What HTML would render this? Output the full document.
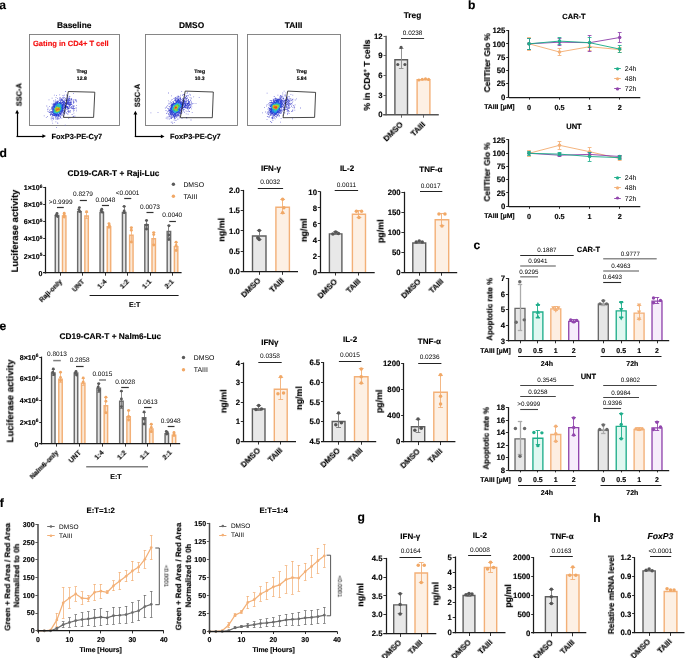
<!DOCTYPE html>
<html><head><meta charset="utf-8"><title>Figure</title>
<style>html,body{margin:0;padding:0;background:#fff;}body{width:685px;height:658px;overflow:hidden;font-family:"Liberation Sans", sans-serif;}svg{display:block;} svg text{filter:blur(0.3px);}</style>
</head><body><svg width="685" height="658" viewBox="0 0 685 658" text-rendering="geometricPrecision" font-family='"Liberation Sans", sans-serif'><text x="-0.7" y="8.6" font-size="12.1" font-weight="bold" text-anchor="start" fill="#000" stroke="#000" stroke-width="0.15">a</text><rect x="29.5" y="34.5" width="90" height="91" stroke="#7a7a7a" fill="none" stroke-width="0.9"/><text x="74.2" y="27.8" font-size="8.4" font-weight="bold" text-anchor="middle" fill="#000" stroke="#000" stroke-width="0.15">Baseline</text><g><path fill="#6e6ed7" d="M64.8 124.7h.8v.8h-.8zM73.1 93.0h.8v.8h-.8zM56.0 126.9h.8v.8h-.8zM48.6 99.4h.8v.8h-.8zM65.3 91.1h.8v.8h-.8zM43.8 115.5h.8v.8h-.8zM51.7 97.8h.8v.8h-.8zM59.3 94.4h.8v.8h-.8zM52.3 122.7h.8v.8h-.8zM53.9 94.7h.8v.8h-.8zM46.4 105.6h.8v.8h-.8zM68.1 118.0h.8v.8h-.8zM45.9 117.2h.8v.8h-.8zM69.5 117.5h.8v.8h-.8zM47.2 116.2h.8v.8h-.8zM56.1 95.2h.8v.8h-.8zM76.2 110.4h.8v.8h-.8zM73.5 112.8h.8v.8h-.8zM55.5 121.4h.8v.8h-.8zM76.1 105.2h.8v.8h-.8zM71.7 114.1h.8v.8h-.8zM55.6 97.3h.8v.8h-.8zM57.4 123.0h.8v.8h-.8zM57.3 122.4h.8v.8h-.8zM51.7 120.5h.8v.8h-.8zM49.2 106.2h.8v.8h-.8zM64.2 94.7h.8v.8h-.8zM47.6 107.4h.8v.8h-.8zM74.6 115.7h.8v.8h-.8zM66.2 94.6h.8v.8h-.8zM57.0 97.9h.8v.8h-.8zM53.4 100.0h.8v.8h-.8zM62.6 95.1h.8v.8h-.8zM63.5 115.8h.8v.8h-.8zM76.0 108.4h.8v.8h-.8zM47.3 109.5h.8v.8h-.8zM67.5 113.9h.8v.8h-.8zM47.6 108.8h.8v.8h-.8zM73.1 110.7h.8v.8h-.8zM72.7 116.2h.8v.8h-.8zM76.3 101.5h.8v.8h-.8zM50.8 118.7h.8v.8h-.8zM61.4 117.8h.8v.8h-.8zM73.0 116.1h.8v.8h-.8zM75.7 107.2h.8v.8h-.8zM47.6 111.1h.8v.8h-.8zM73.5 115.8h.8v.8h-.8zM52.9 119.3h.8v.8h-.8zM55.0 99.6h.8v.8h-.8zM68.5 95.7h.8v.8h-.8zM66.8 95.6h.8v.8h-.8zM50.8 117.6h.8v.8h-.8zM69.4 96.1h.8v.8h-.8zM74.7 99.1h.8v.8h-.8zM75.7 99.4h.8v.8h-.8zM73.6 110.1h.8v.8h-.8zM75.8 101.3h.8v.8h-.8zM49.7 108.9h.8v.8h-.8zM55.5 118.8h.8v.8h-.8zM62.7 115.4h.8v.8h-.8zM75.8 100.3h.8v.8h-.8zM51.6 103.4h.8v.8h-.8zM67.4 113.0h.8v.8h-.8zM52.2 118.3h.8v.8h-.8zM49.3 110.0h.8v.8h-.8zM64.0 96.9h.8v.8h-.8zM53.3 118.0h.8v.8h-.8zM73.1 103.0h.8v.8h-.8zM59.7 97.3h.8v.8h-.8zM73.4 105.1h.8v.8h-.8zM73.9 105.7h.8v.8h-.8zM48.7 111.7h.8v.8h-.8zM64.3 113.8h.8v.8h-.8zM62.5 97.1h.8v.8h-.8zM73.4 102.1h.8v.8h-.8zM57.2 118.7h.8v.8h-.8zM60.2 117.5h.8v.8h-.8zM73.6 100.8h.8v.8h-.8zM72.8 100.5h.8v.8h-.8zM65.2 97.9h.8v.8h-.8zM60.1 117.2h.8v.8h-.8z"/><path fill="#5f61d4" d="M73.2 99.5h.8v.8h-.8zM70.2 110.7h.8v.8h-.8zM75.2 100.2h.8v.8h-.8zM63.1 96.7h.8v.8h-.8zM69.7 111.9h.8v.8h-.8zM63.1 96.8h.8v.8h-.8zM51.8 117.4h.8v.8h-.8zM53.4 101.5h.8v.8h-.8zM53.1 117.6h.8v.8h-.8zM55.9 118.5h.8v.8h-.8zM50.1 115.2h.8v.8h-.8zM66.1 112.8h.8v.8h-.8zM74.6 107.9h.8v.8h-.8zM59.2 97.7h.8v.8h-.8zM48.9 112.0h.8v.8h-.8zM73.4 102.1h.8v.8h-.8zM58.6 118.4h.8v.8h-.8zM66.7 96.8h.8v.8h-.8zM69.7 109.9h.8v.8h-.8zM57.5 118.6h.8v.8h-.8zM58.6 118.1h.8v.8h-.8zM73.2 101.2h.8v.8h-.8zM65.6 112.4h.8v.8h-.8zM70.7 98.0h.8v.8h-.8zM71.3 98.6h.8v.8h-.8zM72.9 101.4h.8v.8h-.8zM73.9 108.4h.8v.8h-.8zM65.6 97.8h.8v.8h-.8zM62.7 98.1h.8v.8h-.8zM65.6 112.0h.8v.8h-.8zM55.0 117.4h.8v.8h-.8zM68.1 112.0h.8v.8h-.8zM59.9 97.8h.8v.8h-.8zM64.4 98.7h.8v.8h-.8zM73.1 108.8h.8v.8h-.8zM51.6 116.0h.8v.8h-.8zM59.9 97.9h.8v.8h-.8zM61.9 114.7h.8v.8h-.8zM69.1 111.4h.8v.8h-.8zM60.1 116.9h.8v.8h-.8zM57.4 118.0h.8v.8h-.8zM73.1 106.1h.8v.8h-.8zM64.1 113.1h.8v.8h-.8zM71.4 99.6h.8v.8h-.8zM72.6 108.5h.8v.8h-.8zM70.9 108.0h.8v.8h-.8zM49.9 113.9h.8v.8h-.8zM73.6 107.9h.8v.8h-.8zM58.9 99.3h.8v.8h-.8zM73.2 108.2h.8v.8h-.8zM68.9 111.2h.8v.8h-.8zM64.1 112.9h.8v.8h-.8zM49.7 111.6h.8v.8h-.8zM71.0 99.0h.8v.8h-.8zM67.4 111.1h.8v.8h-.8zM71.9 108.1h.8v.8h-.8zM58.9 99.4h.8v.8h-.8zM72.1 105.6h.8v.8h-.8zM72.1 105.5h.8v.8h-.8zM68.4 111.4h.8v.8h-.8zM49.7 112.2h.8v.8h-.8zM67.5 110.8h.8v.8h-.8zM56.9 117.5h.8v.8h-.8zM70.9 99.1h.8v.8h-.8zM51.0 107.3h.8v.8h-.8zM50.0 113.5h.8v.8h-.8zM67.5 97.5h.8v.8h-.8zM73.0 106.8h.8v.8h-.8zM65.0 111.0h.8v.8h-.8zM51.0 107.9h.8v.8h-.8zM68.5 110.7h.8v.8h-.8zM67.8 110.5h.8v.8h-.8zM50.3 114.1h.8v.8h-.8zM68.1 110.6h.8v.8h-.8zM61.3 98.3h.8v.8h-.8zM67.9 109.5h.8v.8h-.8zM66.9 97.9h.8v.8h-.8zM63.8 112.7h.8v.8h-.8zM60.3 115.8h.8v.8h-.8zM69.5 107.8h.8v.8h-.8zM64.9 110.5h.8v.8h-.8zM71.5 103.9h.8v.8h-.8zM72.7 106.8h.8v.8h-.8zM72.7 107.4h.8v.8h-.8zM68.6 97.6h.8v.8h-.8zM71.4 107.5h.8v.8h-.8zM59.6 116.4h.8v.8h-.8zM61.7 114.2h.8v.8h-.8zM70.7 99.4h.8v.8h-.8zM64.9 110.0h.8v.8h-.8zM64.7 111.0h.8v.8h-.8zM58.8 100.0h.8v.8h-.8zM71.2 107.2h.8v.8h-.8zM60.7 115.1h.8v.8h-.8zM71.1 106.3h.8v.8h-.8zM71.0 106.2h.8v.8h-.8zM50.6 111.1h.8v.8h-.8zM65.1 99.9h.8v.8h-.8zM69.2 107.4h.8v.8h-.8zM56.5 100.7h.8v.8h-.8zM63.1 112.7h.8v.8h-.8zM71.1 104.3h.8v.8h-.8zM50.4 111.7h.8v.8h-.8zM61.5 114.1h.8v.8h-.8zM52.2 115.5h.8v.8h-.8zM58.7 100.3h.8v.8h-.8zM65.7 99.4h.8v.8h-.8zM71.0 101.7h.8v.8h-.8zM69.5 98.7h.8v.8h-.8zM70.9 104.1h.8v.8h-.8zM69.0 106.2h.8v.8h-.8zM52.5 104.2h.8v.8h-.8zM66.9 108.5h.8v.8h-.8zM66.1 100.0h.8v.8h-.8zM53.6 102.9h.8v.8h-.8zM63.5 100.3h.8v.8h-.8z"/><path fill="#5055d2" d="M69.2 97.7h.8v.8h-.8zM64.7 99.6h.8v.8h-.8zM57.7 117.2h.8v.8h-.8zM51.7 105.9h.8v.8h-.8zM66.6 109.2h.8v.8h-.8zM70.6 107.0h.8v.8h-.8zM69.1 97.9h.8v.8h-.8zM70.4 106.9h.8v.8h-.8zM54.6 101.7h.8v.8h-.8zM69.5 106.4h.8v.8h-.8zM69.2 98.2h.8v.8h-.8zM55.0 101.5h.8v.8h-.8zM59.7 115.8h.8v.8h-.8zM70.6 100.8h.8v.8h-.8zM50.6 113.6h.8v.8h-.8zM68.5 108.1h.8v.8h-.8zM62.4 99.4h.8v.8h-.8zM61.2 98.9h.8v.8h-.8zM60.4 99.1h.8v.8h-.8zM61.7 99.1h.8v.8h-.8zM61.0 98.9h.8v.8h-.8zM66.6 108.7h.8v.8h-.8zM67.2 98.5h.8v.8h-.8zM65.2 108.8h.8v.8h-.8zM57.1 100.7h.8v.8h-.8zM68.2 98.2h.8v.8h-.8zM63.1 112.1h.8v.8h-.8zM54.8 116.4h.8v.8h-.8zM69.7 105.3h.8v.8h-.8zM62.5 112.6h.8v.8h-.8zM66.5 99.2h.8v.8h-.8zM68.4 98.5h.8v.8h-.8zM69.1 105.4h.8v.8h-.8zM69.5 99.5h.8v.8h-.8zM63.1 112.0h.8v.8h-.8zM70.6 101.8h.8v.8h-.8zM63.8 110.9h.8v.8h-.8zM68.2 107.7h.8v.8h-.8zM67.2 98.9h.8v.8h-.8zM68.4 105.4h.8v.8h-.8zM67.8 108.1h.8v.8h-.8zM70.8 102.6h.8v.8h-.8zM51.0 113.8h.8v.8h-.8zM69.4 99.7h.8v.8h-.8zM51.9 114.8h.8v.8h-.8zM66.6 99.7h.8v.8h-.8zM69.4 100.1h.8v.8h-.8zM70.7 103.5h.8v.8h-.8zM60.4 100.0h.8v.8h-.8zM70.1 104.6h.8v.8h-.8zM61.0 99.8h.8v.8h-.8zM67.9 99.1h.8v.8h-.8zM60.6 100.0h.8v.8h-.8zM51.1 111.4h.8v.8h-.8zM62.0 100.1h.8v.8h-.8zM70.5 102.2h.8v.8h-.8zM63.9 100.7h.8v.8h-.8zM64.8 108.3h.8v.8h-.8zM67.5 105.9h.8v.8h-.8zM61.0 100.0h.8v.8h-.8zM57.4 101.0h.8v.8h-.8zM68.6 99.6h.8v.8h-.8zM57.1 116.4h.8v.8h-.8zM64.9 108.1h.8v.8h-.8zM61.5 100.3h.8v.8h-.8zM66.7 100.6h.8v.8h-.8zM58.2 115.9h.8v.8h-.8zM60.3 100.8h.8v.8h-.8zM55.6 101.7h.8v.8h-.8zM67.5 100.0h.8v.8h-.8zM53.0 115.1h.8v.8h-.8zM70.1 103.8h.8v.8h-.8zM69.0 104.4h.8v.8h-.8zM70.2 102.6h.8v.8h-.8zM64.6 101.9h.8v.8h-.8zM61.3 112.7h.8v.8h-.8zM67.1 107.3h.8v.8h-.8zM66.7 106.0h.8v.8h-.8zM64.3 102.0h.8v.8h-.8zM52.8 105.0h.8v.8h-.8zM51.9 113.9h.8v.8h-.8zM67.4 101.4h.8v.8h-.8zM68.2 103.7h.8v.8h-.8z"/><path fill="#4148cf" d="M55.7 116.6h.8v.8h-.8zM63.8 110.7h.8v.8h-.8zM51.6 107.8h.8v.8h-.8zM69.8 100.8h.8v.8h-.8zM68.0 107.8h.8v.8h-.8zM66.4 100.2h.8v.8h-.8zM51.6 109.1h.8v.8h-.8zM53.4 103.2h.8v.8h-.8zM59.0 115.6h.8v.8h-.8zM52.1 114.8h.8v.8h-.8zM65.3 108.1h.8v.8h-.8zM51.3 111.4h.8v.8h-.8zM60.0 100.7h.8v.8h-.8zM66.5 100.8h.8v.8h-.8zM63.7 109.5h.8v.8h-.8zM55.9 101.5h.8v.8h-.8zM67.6 107.6h.8v.8h-.8zM62.1 100.4h.8v.8h-.8zM53.5 115.4h.8v.8h-.8zM70.3 102.3h.8v.8h-.8zM67.1 107.8h.8v.8h-.8zM63.0 100.7h.8v.8h-.8zM67.1 105.9h.8v.8h-.8zM53.1 104.0h.8v.8h-.8zM52.4 105.7h.8v.8h-.8zM67.7 104.3h.8v.8h-.8zM67.0 100.5h.8v.8h-.8zM67.8 100.1h.8v.8h-.8zM69.9 101.9h.8v.8h-.8zM63.9 101.2h.8v.8h-.8zM66.0 104.4h.8v.8h-.8zM66.1 104.1h.8v.8h-.8zM51.4 113.1h.8v.8h-.8zM63.1 101.0h.8v.8h-.8zM52.2 106.7h.8v.8h-.8zM53.0 104.4h.8v.8h-.8zM64.2 101.6h.8v.8h-.8zM65.2 103.1h.8v.8h-.8zM51.7 113.8h.8v.8h-.8zM63.3 109.8h.8v.8h-.8zM68.4 101.0h.8v.8h-.8zM60.1 114.1h.8v.8h-.8zM65.0 103.2h.8v.8h-.8zM66.1 103.1h.8v.8h-.8zM52.8 114.8h.8v.8h-.8zM68.3 101.1h.8v.8h-.8zM66.8 103.7h.8v.8h-.8zM52.2 107.0h.8v.8h-.8zM65.6 105.1h.8v.8h-.8zM66.4 102.6h.8v.8h-.8zM68.1 103.9h.8v.8h-.8zM68.7 103.9h.8v.8h-.8zM61.2 112.6h.8v.8h-.8zM65.5 107.3h.8v.8h-.8zM57.8 101.4h.8v.8h-.8zM63.4 101.5h.8v.8h-.8zM66.1 105.8h.8v.8h-.8zM66.7 103.2h.8v.8h-.8zM69.4 103.5h.8v.8h-.8zM67.2 101.7h.8v.8h-.8zM69.4 103.4h.8v.8h-.8zM51.7 111.1h.8v.8h-.8zM65.0 105.0h.8v.8h-.8zM65.2 107.1h.8v.8h-.8zM66.1 106.2h.8v.8h-.8zM53.8 103.6h.8v.8h-.8zM64.3 103.5h.8v.8h-.8zM53.9 115.1h.8v.8h-.8zM64.2 103.6h.8v.8h-.8zM52.7 114.5h.8v.8h-.8zM64.3 107.2h.8v.8h-.8zM69.0 102.7h.8v.8h-.8zM62.5 110.8h.8v.8h-.8zM67.2 102.9h.8v.8h-.8zM67.8 103.1h.8v.8h-.8zM63.3 102.4h.8v.8h-.8zM62.0 102.1h.8v.8h-.8zM67.6 102.4h.8v.8h-.8zM56.0 102.0h.8v.8h-.8zM55.8 102.2h.8v.8h-.8z"/><path fill="#323ccd" d="M68.6 100.2h.8v.8h-.8zM69.6 104.3h.8v.8h-.8zM67.5 107.1h.8v.8h-.8zM63.3 110.5h.8v.8h-.8zM51.6 113.9h.8v.8h-.8zM67.4 107.0h.8v.8h-.8zM63.2 101.0h.8v.8h-.8zM67.2 107.2h.8v.8h-.8zM64.7 102.2h.8v.8h-.8zM69.9 103.7h.8v.8h-.8zM57.8 115.9h.8v.8h-.8zM69.6 101.9h.8v.8h-.8zM66.1 102.5h.8v.8h-.8zM51.4 112.2h.8v.8h-.8zM66.3 103.6h.8v.8h-.8zM64.3 102.0h.8v.8h-.8zM62.1 111.6h.8v.8h-.8zM69.1 103.9h.8v.8h-.8zM68.5 101.4h.8v.8h-.8zM66.6 106.5h.8v.8h-.8zM52.1 107.6h.8v.8h-.8zM69.4 102.4h.8v.8h-.8zM65.9 107.2h.8v.8h-.8zM60.2 113.8h.8v.8h-.8zM62.6 101.5h.8v.8h-.8zM67.2 101.7h.8v.8h-.8zM64.6 107.3h.8v.8h-.8zM63.7 101.9h.8v.8h-.8zM66.0 106.0h.8v.8h-.8zM67.5 103.4h.8v.8h-.8zM60.3 113.6h.8v.8h-.8zM52.2 107.9h.8v.8h-.8zM65.8 106.3h.8v.8h-.8zM65.0 105.4h.8v.8h-.8zM63.7 107.7h.8v.8h-.8zM68.3 102.1h.8v.8h-.8zM68.3 102.1h.8v.8h-.8zM64.9 105.6h.8v.8h-.8zM65.0 105.8h.8v.8h-.8zM62.6 102.1h.8v.8h-.8zM53.9 103.6h.8v.8h-.8zM58.0 101.6h.8v.8h-.8zM62.0 111.2h.8v.8h-.8zM67.8 102.6h.8v.8h-.8zM62.1 102.2h.8v.8h-.8zM55.7 115.8h.8v.8h-.8zM60.2 113.3h.8v.8h-.8zM57.8 101.6h.8v.8h-.8zM58.5 114.7h.8v.8h-.8zM60.4 113.0h.8v.8h-.8zM63.2 107.8h.8v.8h-.8zM52.0 112.3h.8v.8h-.8zM57.9 115.1h.8v.8h-.8zM52.0 111.2h.8v.8h-.8zM52.5 113.7h.8v.8h-.8zM63.5 104.3h.8v.8h-.8zM63.1 103.8h.8v.8h-.8zM52.2 110.3h.8v.8h-.8zM54.1 104.0h.8v.8h-.8zM62.6 109.3h.8v.8h-.8zM63.4 105.2h.8v.8h-.8zM63.1 105.4h.8v.8h-.8z"/><path fill="#2f3cce" d="M61.9 101.6h.8v.8h-.8zM57.2 101.5h.8v.8h-.8zM58.9 114.7h.8v.8h-.8zM66.9 102.5h.8v.8h-.8zM60.3 113.6h.8v.8h-.8zM65.4 106.7h.8v.8h-.8zM55.0 102.6h.8v.8h-.8zM54.0 115.1h.8v.8h-.8zM64.1 103.6h.8v.8h-.8zM65.1 106.3h.8v.8h-.8zM52.1 109.5h.8v.8h-.8zM64.0 107.0h.8v.8h-.8zM60.5 101.6h.8v.8h-.8zM64.2 104.8h.8v.8h-.8zM58.2 115.1h.8v.8h-.8zM64.3 105.9h.8v.8h-.8zM63.7 107.1h.8v.8h-.8zM57.9 115.2h.8v.8h-.8zM62.1 102.7h.8v.8h-.8zM55.3 115.4h.8v.8h-.8zM58.7 114.1h.8v.8h-.8zM52.5 108.5h.8v.8h-.8zM62.8 108.5h.8v.8h-.8zM58.5 114.1h.8v.8h-.8zM53.8 114.3h.8v.8h-.8zM53.1 113.8h.8v.8h-.8zM56.2 115.3h.8v.8h-.8zM58.0 114.2h.8v.8h-.8zM52.7 109.0h.8v.8h-.8zM62.1 109.2h.8v.8h-.8zM52.5 111.8h.8v.8h-.8zM55.8 115.0h.8v.8h-.8zM59.8 102.4h.8v.8h-.8z"/><path fill="#2d3ccf" d="M67.4 102.6h.8v.8h-.8zM63.6 103.5h.8v.8h-.8zM63.0 103.0h.8v.8h-.8zM54.1 103.7h.8v.8h-.8zM64.0 105.6h.8v.8h-.8zM63.2 103.5h.8v.8h-.8zM62.4 110.3h.8v.8h-.8zM60.0 113.3h.8v.8h-.8zM62.6 103.4h.8v.8h-.8zM63.0 108.0h.8v.8h-.8zM63.5 104.8h.8v.8h-.8zM61.8 110.9h.8v.8h-.8zM63.4 104.8h.8v.8h-.8zM62.3 110.0h.8v.8h-.8zM52.9 106.6h.8v.8h-.8zM52.2 112.3h.8v.8h-.8zM52.8 107.6h.8v.8h-.8zM61.0 111.5h.8v.8h-.8zM52.9 107.8h.8v.8h-.8zM60.6 102.5h.8v.8h-.8zM62.4 104.5h.8v.8h-.8zM53.5 105.8h.8v.8h-.8zM54.8 114.6h.8v.8h-.8zM54.8 114.6h.8v.8h-.8zM62.7 105.9h.8v.8h-.8zM56.2 102.8h.8v.8h-.8zM61.3 110.6h.8v.8h-.8zM55.2 103.6h.8v.8h-.8zM54.0 113.9h.8v.8h-.8zM62.5 106.5h.8v.8h-.8zM56.6 114.8h.8v.8h-.8zM61.6 109.9h.8v.8h-.8zM61.9 109.4h.8v.8h-.8zM59.8 112.4h.8v.8h-.8zM57.0 102.6h.8v.8h-.8zM54.5 104.6h.8v.8h-.8z"/><path fill="#2a3cd0" d="M57.8 115.0h.8v.8h-.8zM53.3 105.2h.8v.8h-.8zM60.9 102.2h.8v.8h-.8zM55.9 115.6h.8v.8h-.8zM60.9 112.0h.8v.8h-.8zM61.1 111.6h.8v.8h-.8zM57.1 102.0h.8v.8h-.8zM62.8 104.1h.8v.8h-.8zM53.3 105.4h.8v.8h-.8zM55.8 102.6h.8v.8h-.8zM54.4 114.7h.8v.8h-.8zM54.8 103.5h.8v.8h-.8zM59.0 113.4h.8v.8h-.8zM60.9 102.7h.8v.8h-.8zM62.8 106.7h.8v.8h-.8zM54.3 104.3h.8v.8h-.8zM59.0 102.1h.8v.8h-.8zM53.4 106.2h.8v.8h-.8zM55.4 103.3h.8v.8h-.8zM61.8 104.0h.8v.8h-.8zM57.4 114.4h.8v.8h-.8zM60.7 102.9h.8v.8h-.8zM62.3 107.7h.8v.8h-.8zM58.9 113.0h.8v.8h-.8zM62.1 108.3h.8v.8h-.8zM53.1 108.8h.8v.8h-.8zM53.5 107.2h.8v.8h-.8zM62.0 108.3h.8v.8h-.8zM61.4 104.4h.8v.8h-.8zM56.7 103.0h.8v.8h-.8zM53.0 110.9h.8v.8h-.8z"/><path fill="#283cd2" d="M56.0 115.3h.8v.8h-.8zM58.0 114.3h.8v.8h-.8zM61.9 110.2h.8v.8h-.8zM56.4 115.2h.8v.8h-.8zM62.6 105.6h.8v.8h-.8zM60.9 103.0h.8v.8h-.8zM56.7 114.9h.8v.8h-.8zM62.3 108.1h.8v.8h-.8zM57.0 114.7h.8v.8h-.8zM59.4 112.8h.8v.8h-.8zM59.8 102.5h.8v.8h-.8zM59.8 112.3h.8v.8h-.8zM59.6 102.6h.8v.8h-.8zM60.4 111.2h.8v.8h-.8zM61.7 108.5h.8v.8h-.8zM53.0 111.6h.8v.8h-.8zM59.1 102.8h.8v.8h-.8zM61.6 108.2h.8v.8h-.8zM54.7 113.4h.8v.8h-.8zM61.3 108.4h.8v.8h-.8z"/><path fill="#253cd3" d="M57.1 102.2h.8v.8h-.8zM61.9 103.9h.8v.8h-.8zM60.3 102.4h.8v.8h-.8zM55.4 114.8h.8v.8h-.8zM62.4 107.3h.8v.8h-.8zM55.1 103.8h.8v.8h-.8zM56.3 114.8h.8v.8h-.8zM53.1 108.4h.8v.8h-.8zM62.2 107.0h.8v.8h-.8zM53.6 113.3h.8v.8h-.8zM62.0 105.0h.8v.8h-.8zM62.1 106.2h.8v.8h-.8zM53.8 106.3h.8v.8h-.8zM55.1 114.1h.8v.8h-.8zM58.5 112.9h.8v.8h-.8zM53.2 108.8h.8v.8h-.8zM55.9 114.3h.8v.8h-.8zM60.2 111.0h.8v.8h-.8zM54.4 105.8h.8v.8h-.8zM53.7 107.9h.8v.8h-.8zM55.8 104.6h.8v.8h-.8zM57.9 103.1h.8v.8h-.8zM56.3 104.1h.8v.8h-.8zM58.5 103.1h.8v.8h-.8z"/><path fill="#233cd4" d="M56.2 115.0h.8v.8h-.8zM53.3 113.5h.8v.8h-.8zM59.1 102.3h.8v.8h-.8zM54.3 104.8h.8v.8h-.8zM54.1 105.2h.8v.8h-.8zM62.1 105.0h.8v.8h-.8zM62.3 105.8h.8v.8h-.8zM61.5 109.7h.8v.8h-.8zM53.8 106.2h.8v.8h-.8zM56.8 102.8h.8v.8h-.8zM62.1 106.2h.8v.8h-.8zM54.8 104.7h.8v.8h-.8zM55.9 114.1h.8v.8h-.8zM55.8 114.1h.8v.8h-.8zM56.0 114.0h.8v.8h-.8zM59.9 103.0h.8v.8h-.8zM53.1 110.3h.8v.8h-.8zM61.4 105.2h.8v.8h-.8zM56.3 113.7h.8v.8h-.8zM54.0 112.9h.8v.8h-.8zM60.8 109.5h.8v.8h-.8zM56.4 103.8h.8v.8h-.8zM61.2 108.1h.8v.8h-.8zM57.9 103.2h.8v.8h-.8zM57.5 103.3h.8v.8h-.8zM53.5 111.2h.8v.8h-.8zM53.9 108.7h.8v.8h-.8z"/><path fill="#203cd5" d="M62.4 105.5h.8v.8h-.8zM55.5 114.7h.8v.8h-.8zM52.9 109.1h.8v.8h-.8zM60.5 102.9h.8v.8h-.8zM53.4 113.2h.8v.8h-.8zM53.8 106.1h.8v.8h-.8zM56.9 114.1h.8v.8h-.8zM60.3 111.2h.8v.8h-.8zM61.6 109.1h.8v.8h-.8zM61.5 104.8h.8v.8h-.8zM56.9 113.8h.8v.8h-.8zM59.4 102.8h.8v.8h-.8zM56.1 114.1h.8v.8h-.8zM53.5 112.6h.8v.8h-.8zM61.7 107.0h.8v.8h-.8zM61.5 108.4h.8v.8h-.8zM54.2 106.4h.8v.8h-.8zM60.8 109.6h.8v.8h-.8zM54.3 106.5h.8v.8h-.8zM60.1 110.5h.8v.8h-.8zM55.6 104.8h.8v.8h-.8zM54.2 107.2h.8v.8h-.8zM57.3 112.7h.8v.8h-.8zM56.8 112.8h.8v.8h-.8zM58.9 111.8h.8v.8h-.8zM56.3 104.4h.8v.8h-.8zM60.8 106.3h.8v.8h-.8zM60.7 108.6h.8v.8h-.8zM56.2 104.7h.8v.8h-.8zM56.3 112.6h.8v.8h-.8zM56.8 104.1h.8v.8h-.8zM55.6 105.5h.8v.8h-.8zM53.8 111.0h.8v.8h-.8z"/><path fill="#1e3cd7" d="M56.0 114.6h.8v.8h-.8zM62.0 105.2h.8v.8h-.8zM54.8 104.8h.8v.8h-.8zM53.4 112.7h.8v.8h-.8zM53.9 113.1h.8v.8h-.8zM59.1 112.3h.8v.8h-.8zM54.8 113.4h.8v.8h-.8zM61.1 104.5h.8v.8h-.8zM61.7 107.0h.8v.8h-.8zM61.6 107.4h.8v.8h-.8zM54.5 113.1h.8v.8h-.8zM53.8 112.8h.8v.8h-.8zM60.2 103.5h.8v.8h-.8zM56.1 103.9h.8v.8h-.8zM53.6 109.4h.8v.8h-.8zM54.2 107.2h.8v.8h-.8zM61.0 107.3h.8v.8h-.8zM60.9 106.5h.8v.8h-.8zM60.0 110.2h.8v.8h-.8zM60.6 106.4h.8v.8h-.8zM59.1 111.2h.8v.8h-.8zM53.9 111.2h.8v.8h-.8zM60.2 106.5h.8v.8h-.8z"/><path fill="#1f4bda" d="M55.2 104.2h.8v.8h-.8zM53.9 106.3h.8v.8h-.8zM60.0 102.9h.8v.8h-.8zM60.2 103.0h.8v.8h-.8zM59.6 112.0h.8v.8h-.8zM53.1 111.8h.8v.8h-.8zM58.9 112.5h.8v.8h-.8zM53.2 109.6h.8v.8h-.8zM60.6 110.3h.8v.8h-.8zM54.4 106.1h.8v.8h-.8zM56.5 113.0h.8v.8h-.8zM54.4 112.6h.8v.8h-.8zM55.4 112.8h.8v.8h-.8zM60.5 109.5h.8v.8h-.8zM54.5 106.7h.8v.8h-.8zM58.4 103.4h.8v.8h-.8zM53.8 111.4h.8v.8h-.8zM60.7 106.4h.8v.8h-.8zM60.5 105.5h.8v.8h-.8zM53.9 109.8h.8v.8h-.8zM54.0 111.4h.8v.8h-.8zM56.8 104.6h.8v.8h-.8zM56.0 105.6h.8v.8h-.8zM56.4 105.2h.8v.8h-.8zM60.1 109.2h.8v.8h-.8zM54.7 111.5h.8v.8h-.8z"/><path fill="#2159dd" d="M56.6 113.7h.8v.8h-.8zM53.6 112.7h.8v.8h-.8zM56.7 113.2h.8v.8h-.8zM57.2 103.2h.8v.8h-.8zM56.7 103.5h.8v.8h-.8zM55.2 112.9h.8v.8h-.8zM60.3 104.2h.8v.8h-.8zM58.7 111.9h.8v.8h-.8zM60.7 106.3h.8v.8h-.8zM58.9 111.5h.8v.8h-.8zM59.8 104.3h.8v.8h-.8zM56.0 105.4h.8v.8h-.8zM60.5 108.1h.8v.8h-.8zM55.6 105.9h.8v.8h-.8zM56.4 112.2h.8v.8h-.8zM59.2 104.3h.8v.8h-.8zM59.4 104.9h.8v.8h-.8zM54.1 110.9h.8v.8h-.8zM59.6 110.1h.8v.8h-.8zM58.9 111.1h.8v.8h-.8zM54.2 109.2h.8v.8h-.8zM59.7 109.8h.8v.8h-.8zM59.2 110.6h.8v.8h-.8zM57.6 105.2h.8v.8h-.8zM56.7 105.6h.8v.8h-.8zM58.2 104.9h.8v.8h-.8z"/><path fill="#2369e1" d="M59.4 102.9h.8v.8h-.8zM54.3 113.0h.8v.8h-.8zM60.3 110.4h.8v.8h-.8zM56.5 104.0h.8v.8h-.8zM53.5 111.3h.8v.8h-.8zM60.6 109.2h.8v.8h-.8zM60.3 104.6h.8v.8h-.8zM60.7 105.4h.8v.8h-.8zM53.6 110.2h.8v.8h-.8zM58.7 111.8h.8v.8h-.8zM56.8 104.2h.8v.8h-.8zM60.5 106.4h.8v.8h-.8zM59.5 104.3h.8v.8h-.8zM56.6 112.3h.8v.8h-.8zM59.9 105.3h.8v.8h-.8zM58.5 104.2h.8v.8h-.8zM55.2 106.7h.8v.8h-.8zM58.6 105.0h.8v.8h-.8zM57.7 105.0h.8v.8h-.8zM58.2 106.0h.8v.8h-.8zM57.2 105.6h.8v.8h-.8zM55.9 106.2h.8v.8h-.8zM57.2 106.1h.8v.8h-.8zM54.8 107.9h.8v.8h-.8zM58.9 110.5h.8v.8h-.8zM54.8 110.9h.8v.8h-.8z"/><path fill="#2478e4" d="M53.7 112.5h.8v.8h-.8zM60.4 103.9h.8v.8h-.8zM58.4 103.0h.8v.8h-.8zM53.6 112.1h.8v.8h-.8zM61.0 105.1h.8v.8h-.8zM57.9 103.1h.8v.8h-.8zM61.2 106.6h.8v.8h-.8zM55.2 112.8h.8v.8h-.8zM55.8 104.8h.8v.8h-.8zM57.4 112.5h.8v.8h-.8zM60.1 104.4h.8v.8h-.8zM60.7 106.3h.8v.8h-.8zM53.7 111.2h.8v.8h-.8zM53.8 110.3h.8v.8h-.8zM53.8 110.1h.8v.8h-.8zM57.1 104.2h.8v.8h-.8zM60.1 106.2h.8v.8h-.8zM54.9 106.9h.8v.8h-.8zM58.1 103.8h.8v.8h-.8zM56.0 112.1h.8v.8h-.8zM58.3 111.5h.8v.8h-.8zM59.9 108.1h.8v.8h-.8zM57.4 111.6h.8v.8h-.8zM56.4 106.2h.8v.8h-.8zM56.2 111.6h.8v.8h-.8z"/><path fill="#2687e7" d="M53.8 112.3h.8v.8h-.8zM53.6 109.3h.8v.8h-.8zM58.6 112.1h.8v.8h-.8zM60.6 104.9h.8v.8h-.8zM57.3 112.6h.8v.8h-.8zM56.2 104.5h.8v.8h-.8zM60.7 105.6h.8v.8h-.8zM60.8 108.3h.8v.8h-.8zM60.3 105.7h.8v.8h-.8zM60.6 107.8h.8v.8h-.8zM54.1 111.4h.8v.8h-.8zM57.5 104.0h.8v.8h-.8zM60.1 106.7h.8v.8h-.8zM58.6 103.8h.8v.8h-.8zM56.7 112.2h.8v.8h-.8zM56.5 112.0h.8v.8h-.8zM58.6 104.4h.8v.8h-.8zM56.6 105.7h.8v.8h-.8zM57.7 106.0h.8v.8h-.8zM55.8 111.7h.8v.8h-.8zM56.7 106.2h.8v.8h-.8zM59.1 109.9h.8v.8h-.8zM54.7 110.1h.8v.8h-.8zM54.9 109.6h.8v.8h-.8zM56.3 111.1h.8v.8h-.8z"/><path fill="#2896eb" d="M58.9 111.9h.8v.8h-.8zM53.6 110.4h.8v.8h-.8zM60.2 104.5h.8v.8h-.8zM60.8 106.1h.8v.8h-.8zM56.1 104.8h.8v.8h-.8zM60.5 105.5h.8v.8h-.8zM56.3 112.6h.8v.8h-.8zM57.5 112.2h.8v.8h-.8zM54.8 107.0h.8v.8h-.8zM54.1 109.5h.8v.8h-.8zM57.6 104.2h.8v.8h-.8zM58.3 106.0h.8v.8h-.8zM57.3 105.4h.8v.8h-.8zM58.0 104.8h.8v.8h-.8zM57.7 111.6h.8v.8h-.8zM54.5 109.3h.8v.8h-.8zM56.1 106.7h.8v.8h-.8z"/><path fill="#28a0e4" d="M58.2 112.3h.8v.8h-.8zM53.5 111.7h.8v.8h-.8zM60.8 109.1h.8v.8h-.8zM60.1 109.7h.8v.8h-.8zM59.5 104.0h.8v.8h-.8zM59.1 103.9h.8v.8h-.8zM58.4 103.8h.8v.8h-.8zM57.8 103.9h.8v.8h-.8zM59.8 106.4h.8v.8h-.8zM55.4 111.9h.8v.8h-.8zM58.7 105.5h.8v.8h-.8zM55.6 106.3h.8v.8h-.8zM58.4 104.3h.8v.8h-.8zM59.1 106.6h.8v.8h-.8zM57.6 105.9h.8v.8h-.8zM54.9 108.6h.8v.8h-.8zM59.0 109.8h.8v.8h-.8zM59.2 109.0h.8v.8h-.8zM55.1 109.4h.8v.8h-.8zM55.9 110.2h.8v.8h-.8z"/><path fill="#28abdd" d="M60.3 104.4h.8v.8h-.8zM53.7 111.1h.8v.8h-.8zM53.9 109.4h.8v.8h-.8zM54.0 109.6h.8v.8h-.8zM55.1 106.5h.8v.8h-.8zM58.5 103.9h.8v.8h-.8zM59.5 110.3h.8v.8h-.8zM58.6 111.3h.8v.8h-.8zM59.1 106.0h.8v.8h-.8zM57.8 104.3h.8v.8h-.8zM56.3 106.3h.8v.8h-.8zM55.8 111.2h.8v.8h-.8zM56.7 111.0h.8v.8h-.8zM57.3 107.0h.8v.8h-.8zM55.4 110.1h.8v.8h-.8zM55.9 110.6h.8v.8h-.8zM58.4 109.5h.8v.8h-.8zM57.5 110.1h.8v.8h-.8z"/><path fill="#28b5d6" d="M59.6 110.9h.8v.8h-.8zM55.9 112.6h.8v.8h-.8zM58.2 103.5h.8v.8h-.8zM54.2 111.8h.8v.8h-.8zM59.7 105.1h.8v.8h-.8zM57.7 111.9h.8v.8h-.8zM58.7 103.9h.8v.8h-.8zM59.5 110.4h.8v.8h-.8zM57.5 111.9h.8v.8h-.8zM60.2 108.0h.8v.8h-.8zM59.0 106.0h.8v.8h-.8zM58.7 105.4h.8v.8h-.8zM60.0 108.3h.8v.8h-.8zM57.0 106.4h.8v.8h-.8zM58.2 107.0h.8v.8h-.8zM59.0 107.9h.8v.8h-.8zM55.4 108.1h.8v.8h-.8zM58.2 109.9h.8v.8h-.8zM57.3 109.8h.8v.8h-.8zM58.3 108.4h.8v.8h-.8z"/><path fill="#28c0d0" d="M53.9 111.4h.8v.8h-.8zM60.5 106.7h.8v.8h-.8zM60.5 107.9h.8v.8h-.8zM54.0 109.6h.8v.8h-.8zM57.9 103.8h.8v.8h-.8zM60.0 105.5h.8v.8h-.8zM57.0 104.4h.8v.8h-.8zM54.5 111.8h.8v.8h-.8zM58.4 111.6h.8v.8h-.8zM56.5 105.2h.8v.8h-.8zM59.7 105.2h.8v.8h-.8zM59.3 104.7h.8v.8h-.8zM59.0 105.3h.8v.8h-.8zM59.4 106.6h.8v.8h-.8zM59.4 110.2h.8v.8h-.8zM55.3 107.3h.8v.8h-.8zM58.0 107.1h.8v.8h-.8zM59.1 108.0h.8v.8h-.8zM57.9 107.2h.8v.8h-.8zM55.7 110.3h.8v.8h-.8zM58.3 109.6h.8v.8h-.8zM58.5 108.4h.8v.8h-.8zM56.8 109.8h.8v.8h-.8z"/><path fill="#28cac9" d="M58.4 103.7h.8v.8h-.8zM54.3 111.6h.8v.8h-.8zM60.3 108.6h.8v.8h-.8zM56.7 112.1h.8v.8h-.8zM55.3 106.5h.8v.8h-.8zM55.2 106.7h.8v.8h-.8zM58.9 104.6h.8v.8h-.8zM55.3 111.6h.8v.8h-.8zM57.5 106.2h.8v.8h-.8zM57.4 111.5h.8v.8h-.8zM57.9 111.0h.8v.8h-.8zM55.2 107.9h.8v.8h-.8zM56.1 107.4h.8v.8h-.8zM55.7 110.0h.8v.8h-.8zM58.6 108.9h.8v.8h-.8zM56.8 109.8h.8v.8h-.8zM56.8 108.1h.8v.8h-.8zM57.6 108.5h.8v.8h-.8z"/><path fill="#2dccb3" d="M59.5 104.3h.8v.8h-.8zM55.6 112.1h.8v.8h-.8zM54.5 111.5h.8v.8h-.8zM60.0 107.4h.8v.8h-.8zM58.5 104.2h.8v.8h-.8zM58.1 105.2h.8v.8h-.8zM54.9 107.4h.8v.8h-.8zM54.9 109.9h.8v.8h-.8zM58.5 107.3h.8v.8h-.8zM55.6 107.6h.8v.8h-.8zM56.1 108.2h.8v.8h-.8zM57.3 108.2h.8v.8h-.8zM57.1 108.4h.8v.8h-.8zM57.2 108.8h.8v.8h-.8z"/><path fill="#33cb9a" d="M59.2 106.5h.8v.8h-.8zM58.1 105.7h.8v.8h-.8zM54.5 108.8h.8v.8h-.8zM55.1 111.4h.8v.8h-.8zM55.7 106.6h.8v.8h-.8zM57.6 107.3h.8v.8h-.8zM55.4 109.1h.8v.8h-.8zM58.3 108.0h.8v.8h-.8zM56.1 109.5h.8v.8h-.8zM58.1 108.8h.8v.8h-.8z"/><path fill="#39ca81" d="M60.1 108.3h.8v.8h-.8zM60.0 108.9h.8v.8h-.8zM59.9 107.5h.8v.8h-.8zM59.7 107.3h.8v.8h-.8zM56.6 111.8h.8v.8h-.8zM54.8 108.0h.8v.8h-.8zM59.6 108.2h.8v.8h-.8zM56.3 106.5h.8v.8h-.8zM56.3 111.3h.8v.8h-.8zM59.0 107.5h.8v.8h-.8zM57.1 107.3h.8v.8h-.8zM57.4 110.3h.8v.8h-.8zM56.7 107.3h.8v.8h-.8zM58.5 109.2h.8v.8h-.8zM58.6 108.6h.8v.8h-.8zM56.1 109.7h.8v.8h-.8zM57.3 109.9h.8v.8h-.8z"/><path fill="#3fc968" d="M54.7 108.6h.8v.8h-.8zM56.0 106.4h.8v.8h-.8zM55.2 109.3h.8v.8h-.8zM56.3 110.5h.8v.8h-.8zM57.2 108.8h.8v.8h-.8z"/><path fill="#46c850" d="M54.4 110.4h.8v.8h-.8zM59.8 107.7h.8v.8h-.8zM55.9 106.3h.8v.8h-.8zM54.7 110.6h.8v.8h-.8zM57.0 111.3h.8v.8h-.8zM55.5 111.0h.8v.8h-.8zM59.1 107.6h.8v.8h-.8zM57.4 107.0h.8v.8h-.8zM59.1 108.7h.8v.8h-.8zM55.4 108.4h.8v.8h-.8zM56.2 108.4h.8v.8h-.8zM57.8 108.1h.8v.8h-.8z"/><path fill="#5fcb47" d="M54.7 108.3h.8v.8h-.8zM58.8 110.6h.8v.8h-.8zM59.2 107.2h.8v.8h-.8zM57.7 111.3h.8v.8h-.8zM56.8 111.5h.8v.8h-.8zM54.7 109.6h.8v.8h-.8zM58.9 110.2h.8v.8h-.8zM54.9 108.6h.8v.8h-.8zM55.1 107.9h.8v.8h-.8zM59.3 109.4h.8v.8h-.8zM55.0 108.4h.8v.8h-.8zM55.4 110.6h.8v.8h-.8zM57.6 110.8h.8v.8h-.8zM58.0 107.1h.8v.8h-.8zM56.8 111.1h.8v.8h-.8zM56.1 107.5h.8v.8h-.8zM55.7 108.9h.8v.8h-.8zM56.0 109.8h.8v.8h-.8zM56.0 109.7h.8v.8h-.8zM57.1 109.8h.8v.8h-.8zM56.5 107.8h.8v.8h-.8zM57.9 108.2h.8v.8h-.8zM57.6 108.0h.8v.8h-.8zM56.8 108.2h.8v.8h-.8z"/><path fill="#78ce3f" d="M56.5 111.5h.8v.8h-.8zM58.4 110.8h.8v.8h-.8zM59.0 108.6h.8v.8h-.8zM56.1 110.6h.8v.8h-.8zM55.9 107.9h.8v.8h-.8zM58.1 109.0h.8v.8h-.8zM56.5 108.4h.8v.8h-.8z"/><path fill="#91d136" d="M58.7 110.4h.8v.8h-.8zM59.3 107.9h.8v.8h-.8zM57.8 110.3h.8v.8h-.8zM56.2 110.5h.8v.8h-.8zM57.8 108.1h.8v.8h-.8zM56.5 108.6h.8v.8h-.8zM57.1 108.5h.8v.8h-.8z"/><path fill="#aad42e" d="M55.2 107.8h.8v.8h-.8zM58.3 110.4h.8v.8h-.8zM55.0 108.7h.8v.8h-.8zM59.1 108.1h.8v.8h-.8zM57.4 107.4h.8v.8h-.8zM55.9 107.7h.8v.8h-.8zM56.2 107.8h.8v.8h-.8zM56.6 110.1h.8v.8h-.8zM57.0 108.1h.8v.8h-.8zM56.8 108.9h.8v.8h-.8z"/><path fill="#c1d327" d="M56.6 106.7h.8v.8h-.8zM58.7 110.0h.8v.8h-.8zM57.3 111.0h.8v.8h-.8zM56.8 111.1h.8v.8h-.8zM55.7 110.8h.8v.8h-.8zM55.7 108.6h.8v.8h-.8zM56.9 107.6h.8v.8h-.8zM56.0 109.4h.8v.8h-.8zM58.1 109.0h.8v.8h-.8zM58.1 108.6h.8v.8h-.8zM57.9 108.3h.8v.8h-.8zM57.8 109.1h.8v.8h-.8z"/><path fill="#d2c224" d="M58.5 107.4h.8v.8h-.8zM56.5 106.9h.8v.8h-.8zM57.3 107.0h.8v.8h-.8zM57.1 107.1h.8v.8h-.8zM58.1 107.6h.8v.8h-.8zM58.3 109.9h.8v.8h-.8zM55.4 108.9h.8v.8h-.8zM57.3 110.5h.8v.8h-.8zM55.9 108.7h.8v.8h-.8zM57.2 109.7h.8v.8h-.8zM56.8 109.7h.8v.8h-.8zM56.2 108.5h.8v.8h-.8z"/><path fill="#e3b121" d="M55.4 107.9h.8v.8h-.8zM58.7 107.9h.8v.8h-.8zM58.6 108.5h.8v.8h-.8zM58.4 108.5h.8v.8h-.8z"/><path fill="#f5a01e" d="M58.3 110.2h.8v.8h-.8zM55.7 110.5h.8v.8h-.8zM55.7 108.0h.8v.8h-.8zM57.2 110.0h.8v.8h-.8z"/><path fill="#f06e1e" d="M58.6 109.3h.8v.8h-.8zM56.0 109.7h.8v.8h-.8zM56.2 107.9h.8v.8h-.8z"/><path fill="#ed551e" d="M58.5 108.8h.8v.8h-.8zM56.8 109.3h.8v.8h-.8z"/><path fill="#eb3c1e" d="M56.0 109.7h.8v.8h-.8zM58.4 108.7h.8v.8h-.8zM57.7 107.9h.8v.8h-.8zM56.9 109.3h.8v.8h-.8z"/></g><polygon points="68.3,91.5 94.8,92.2 93.6,117.4 63.4,117.4" stroke="#1a1a1a" stroke-width="0.8" fill="none" stroke-linejoin="miter"/><text x="81.8" y="73.4" font-size="5.1" font-weight="bold" text-anchor="middle" fill="#000" stroke="#000" stroke-width="0.15">Treg</text><text x="81.8" y="80.1" font-size="5.1" font-weight="bold" text-anchor="middle" fill="#000" stroke="#000" stroke-width="0.15">12.8</text><line x1="17.5" y1="136.7" x2="17.5" y2="112.3" stroke="#000" stroke-width="1.2" stroke-linecap="butt"/><line x1="16.5" y1="136.5" x2="43.5" y2="136.5" stroke="#000" stroke-width="1.2" stroke-linecap="butt"/><polygon points="17.1,109.8 15.2,113.4 19,113.4" fill="#000"/><polygon points="46,136.1 42.4,134.2 42.4,138" fill="#000"/><text x="21.1" y="94.6" font-size="7.5" font-weight="bold" text-anchor="middle" fill="#000" transform="rotate(-90 21.1 94.6)" stroke="#000" stroke-width="0.15">SSC-A</text><text x="51.6" y="138.8" font-size="7.4" font-weight="bold" text-anchor="start" fill="#000" stroke="#000" stroke-width="0.15">FoxP3-PE-Cy7</text><rect x="145.5" y="34.5" width="92" height="91" stroke="#7a7a7a" fill="none" stroke-width="0.9"/><text x="191.6" y="27.8" font-size="8.4" font-weight="bold" text-anchor="middle" fill="#000" stroke="#000" stroke-width="0.15">DMSO</text><g><path fill="#6e6ed7" d="M150.5 112.5h.8v.8h-.8zM157.6 111.9h.8v.8h-.8zM198.8 97.3h.8v.8h-.8zM190.6 119.6h.8v.8h-.8zM168.1 92.6h.8v.8h-.8zM171.0 95.5h.8v.8h-.8zM181.3 91.0h.8v.8h-.8zM191.8 112.0h.8v.8h-.8zM193.3 96.4h.8v.8h-.8zM181.6 117.9h.8v.8h-.8zM195.6 103.2h.8v.8h-.8zM187.7 113.8h.8v.8h-.8zM167.9 100.5h.8v.8h-.8zM185.8 113.4h.8v.8h-.8zM190.2 94.6h.8v.8h-.8zM186.4 117.6h.8v.8h-.8zM186.0 116.9h.8v.8h-.8zM186.9 91.9h.8v.8h-.8zM173.9 122.3h.8v.8h-.8zM164.9 107.6h.8v.8h-.8zM170.8 121.7h.8v.8h-.8zM189.2 111.1h.8v.8h-.8zM172.3 122.9h.8v.8h-.8zM165.6 110.1h.8v.8h-.8zM191.2 97.8h.8v.8h-.8zM165.7 117.7h.8v.8h-.8zM188.9 93.8h.8v.8h-.8zM177.5 119.2h.8v.8h-.8zM186.7 92.9h.8v.8h-.8zM171.8 121.7h.8v.8h-.8zM180.2 94.8h.8v.8h-.8zM193.5 102.9h.8v.8h-.8zM170.9 99.7h.8v.8h-.8zM166.8 118.5h.8v.8h-.8zM189.6 97.3h.8v.8h-.8zM166.3 113.1h.8v.8h-.8zM184.0 111.9h.8v.8h-.8zM166.4 106.0h.8v.8h-.8zM167.3 104.9h.8v.8h-.8zM186.7 110.9h.8v.8h-.8zM175.5 120.2h.8v.8h-.8zM166.6 116.8h.8v.8h-.8zM173.7 119.8h.8v.8h-.8zM171.8 99.2h.8v.8h-.8zM179.2 117.5h.8v.8h-.8zM188.0 110.6h.8v.8h-.8zM166.3 106.9h.8v.8h-.8zM185.6 110.4h.8v.8h-.8zM190.9 108.5h.8v.8h-.8zM175.6 119.8h.8v.8h-.8zM182.2 95.0h.8v.8h-.8zM188.1 95.4h.8v.8h-.8zM190.4 98.8h.8v.8h-.8zM182.6 94.2h.8v.8h-.8zM191.4 106.5h.8v.8h-.8zM168.9 118.8h.8v.8h-.8zM167.0 108.0h.8v.8h-.8zM169.8 101.3h.8v.8h-.8zM168.6 118.5h.8v.8h-.8zM183.6 93.9h.8v.8h-.8zM187.4 94.9h.8v.8h-.8zM168.6 102.7h.8v.8h-.8zM167.7 116.6h.8v.8h-.8zM177.5 117.8h.8v.8h-.8zM183.5 111.0h.8v.8h-.8zM183.5 94.3h.8v.8h-.8zM168.5 103.7h.8v.8h-.8zM166.8 111.7h.8v.8h-.8zM184.3 94.6h.8v.8h-.8zM179.2 116.3h.8v.8h-.8zM168.8 103.5h.8v.8h-.8zM192.1 103.4h.8v.8h-.8zM191.0 101.5h.8v.8h-.8zM173.4 98.2h.8v.8h-.8zM190.3 100.1h.8v.8h-.8zM191.9 103.3h.8v.8h-.8zM190.3 100.5h.8v.8h-.8zM177.7 95.6h.8v.8h-.8zM182.0 97.9h.8v.8h-.8zM191.8 103.4h.8v.8h-.8zM179.5 96.2h.8v.8h-.8zM191.2 104.6h.8v.8h-.8zM174.9 96.9h.8v.8h-.8zM168.0 113.8h.8v.8h-.8zM168.4 114.5h.8v.8h-.8z"/><path fill="#5f61d4" d="M168.7 105.9h.8v.8h-.8zM168.8 116.3h.8v.8h-.8zM190.8 102.0h.8v.8h-.8zM186.4 95.6h.8v.8h-.8zM173.9 118.4h.8v.8h-.8zM171.2 118.2h.8v.8h-.8zM170.8 118.2h.8v.8h-.8zM190.2 107.3h.8v.8h-.8zM185.8 95.4h.8v.8h-.8zM167.9 113.0h.8v.8h-.8zM170.1 102.5h.8v.8h-.8zM168.2 108.0h.8v.8h-.8zM178.0 96.0h.8v.8h-.8zM175.3 96.9h.8v.8h-.8zM167.5 111.2h.8v.8h-.8zM178.1 96.1h.8v.8h-.8zM188.2 98.9h.8v.8h-.8zM181.6 112.2h.8v.8h-.8zM185.5 95.6h.8v.8h-.8zM184.1 96.6h.8v.8h-.8zM181.5 112.4h.8v.8h-.8zM183.9 96.8h.8v.8h-.8zM169.8 117.5h.8v.8h-.8zM187.1 97.6h.8v.8h-.8zM176.6 96.5h.8v.8h-.8zM179.8 97.0h.8v.8h-.8zM190.1 106.4h.8v.8h-.8zM189.2 108.3h.8v.8h-.8zM177.0 96.5h.8v.8h-.8zM183.2 109.6h.8v.8h-.8zM176.1 117.2h.8v.8h-.8zM170.5 117.7h.8v.8h-.8zM186.2 96.2h.8v.8h-.8zM182.8 109.8h.8v.8h-.8zM188.1 99.3h.8v.8h-.8zM190.8 103.3h.8v.8h-.8zM175.2 117.8h.8v.8h-.8zM180.8 113.1h.8v.8h-.8zM186.8 97.8h.8v.8h-.8zM183.7 109.1h.8v.8h-.8zM188.2 99.4h.8v.8h-.8zM170.8 117.6h.8v.8h-.8zM188.9 108.3h.8v.8h-.8zM170.5 102.7h.8v.8h-.8zM174.6 97.8h.8v.8h-.8zM186.7 98.0h.8v.8h-.8zM167.8 110.8h.8v.8h-.8zM184.0 97.7h.8v.8h-.8zM183.2 98.6h.8v.8h-.8zM183.7 98.2h.8v.8h-.8zM172.2 101.5h.8v.8h-.8zM173.9 100.0h.8v.8h-.8zM169.8 116.2h.8v.8h-.8zM169.3 106.4h.8v.8h-.8zM171.0 102.3h.8v.8h-.8zM188.2 108.7h.8v.8h-.8zM180.1 113.6h.8v.8h-.8zM178.4 96.9h.8v.8h-.8zM179.9 97.6h.8v.8h-.8zM169.6 115.7h.8v.8h-.8zM189.4 107.1h.8v.8h-.8zM185.1 96.9h.8v.8h-.8zM168.0 110.3h.8v.8h-.8zM185.3 96.9h.8v.8h-.8zM188.8 108.1h.8v.8h-.8zM174.2 117.7h.8v.8h-.8zM181.6 99.1h.8v.8h-.8zM181.6 110.6h.8v.8h-.8zM172.5 101.5h.8v.8h-.8zM174.5 98.4h.8v.8h-.8zM183.2 109.1h.8v.8h-.8zM189.8 105.5h.8v.8h-.8zM178.3 115.5h.8v.8h-.8zM186.0 98.1h.8v.8h-.8zM178.8 114.9h.8v.8h-.8zM169.1 114.5h.8v.8h-.8zM176.7 116.3h.8v.8h-.8zM185.7 108.3h.8v.8h-.8zM185.5 98.1h.8v.8h-.8zM171.0 116.6h.8v.8h-.8zM186.0 99.3h.8v.8h-.8zM180.2 98.3h.8v.8h-.8zM174.7 98.7h.8v.8h-.8zM187.0 108.4h.8v.8h-.8zM170.1 105.0h.8v.8h-.8zM185.3 99.4h.8v.8h-.8zM171.0 116.2h.8v.8h-.8zM183.9 99.5h.8v.8h-.8zM177.7 115.5h.8v.8h-.8zM188.2 100.8h.8v.8h-.8zM168.6 109.2h.8v.8h-.8zM181.0 111.0h.8v.8h-.8zM189.0 101.6h.8v.8h-.8zM189.7 104.0h.8v.8h-.8zM188.8 101.6h.8v.8h-.8zM174.8 99.7h.8v.8h-.8zM186.1 100.4h.8v.8h-.8zM182.2 100.2h.8v.8h-.8zM174.0 117.1h.8v.8h-.8zM172.6 116.6h.8v.8h-.8z"/><path fill="#5055d2" d="M185.3 97.1h.8v.8h-.8zM190.2 104.5h.8v.8h-.8zM184.9 98.5h.8v.8h-.8zM171.6 116.9h.8v.8h-.8zM174.5 117.6h.8v.8h-.8zM180.2 113.2h.8v.8h-.8zM175.8 97.7h.8v.8h-.8zM178.5 115.1h.8v.8h-.8zM173.3 101.3h.8v.8h-.8zM188.0 100.3h.8v.8h-.8zM169.6 115.0h.8v.8h-.8zM179.8 98.0h.8v.8h-.8zM183.1 99.5h.8v.8h-.8zM186.7 99.9h.8v.8h-.8zM182.2 99.7h.8v.8h-.8zM188.9 101.1h.8v.8h-.8zM175.1 98.4h.8v.8h-.8zM177.4 97.5h.8v.8h-.8zM180.6 99.0h.8v.8h-.8zM177.9 115.3h.8v.8h-.8zM186.7 100.2h.8v.8h-.8zM176.8 97.8h.8v.8h-.8zM172.1 116.6h.8v.8h-.8zM188.1 101.0h.8v.8h-.8zM174.9 99.2h.8v.8h-.8zM168.7 109.3h.8v.8h-.8zM188.5 106.8h.8v.8h-.8zM184.2 100.1h.8v.8h-.8zM174.9 99.9h.8v.8h-.8zM176.5 98.3h.8v.8h-.8zM181.9 100.4h.8v.8h-.8zM179.3 113.4h.8v.8h-.8zM174.1 117.0h.8v.8h-.8zM189.4 104.0h.8v.8h-.8zM177.1 115.3h.8v.8h-.8zM189.0 105.1h.8v.8h-.8zM168.9 111.5h.8v.8h-.8zM182.0 100.6h.8v.8h-.8zM176.3 115.7h.8v.8h-.8zM189.3 103.8h.8v.8h-.8zM188.2 106.3h.8v.8h-.8zM187.1 107.8h.8v.8h-.8zM170.8 104.0h.8v.8h-.8zM169.6 113.7h.8v.8h-.8zM169.2 112.4h.8v.8h-.8zM188.2 102.0h.8v.8h-.8zM188.3 105.6h.8v.8h-.8zM185.5 101.1h.8v.8h-.8zM180.5 111.0h.8v.8h-.8zM187.0 107.7h.8v.8h-.8zM180.2 111.9h.8v.8h-.8zM177.9 114.2h.8v.8h-.8zM178.6 113.6h.8v.8h-.8zM185.5 101.3h.8v.8h-.8zM184.1 107.3h.8v.8h-.8zM178.7 98.5h.8v.8h-.8zM188.3 105.1h.8v.8h-.8zM188.6 104.6h.8v.8h-.8zM188.3 104.9h.8v.8h-.8zM180.6 110.1h.8v.8h-.8zM181.0 101.0h.8v.8h-.8zM186.7 107.2h.8v.8h-.8zM186.5 102.8h.8v.8h-.8zM179.8 112.0h.8v.8h-.8zM187.6 105.1h.8v.8h-.8zM187.0 105.7h.8v.8h-.8z"/><path fill="#4148cf" d="M179.8 98.6h.8v.8h-.8zM168.7 109.7h.8v.8h-.8zM174.9 99.8h.8v.8h-.8zM187.4 108.0h.8v.8h-.8zM188.9 102.3h.8v.8h-.8zM187.8 101.5h.8v.8h-.8zM179.9 98.9h.8v.8h-.8zM176.3 115.7h.8v.8h-.8zM184.6 107.4h.8v.8h-.8zM188.0 107.2h.8v.8h-.8zM183.6 100.5h.8v.8h-.8zM185.9 101.2h.8v.8h-.8zM184.6 100.5h.8v.8h-.8zM185.8 101.2h.8v.8h-.8zM170.0 114.3h.8v.8h-.8zM185.2 107.3h.8v.8h-.8zM182.6 100.8h.8v.8h-.8zM185.7 101.2h.8v.8h-.8zM181.4 109.1h.8v.8h-.8zM179.8 99.2h.8v.8h-.8zM188.9 103.3h.8v.8h-.8zM188.9 104.1h.8v.8h-.8zM186.8 107.6h.8v.8h-.8zM175.3 100.0h.8v.8h-.8zM187.0 107.5h.8v.8h-.8zM184.7 107.1h.8v.8h-.8zM188.0 102.4h.8v.8h-.8zM177.5 98.6h.8v.8h-.8zM186.3 102.5h.8v.8h-.8zM187.1 107.2h.8v.8h-.8zM186.8 107.3h.8v.8h-.8zM184.1 101.1h.8v.8h-.8zM180.4 100.6h.8v.8h-.8zM184.0 101.3h.8v.8h-.8zM180.1 100.2h.8v.8h-.8zM171.4 103.5h.8v.8h-.8zM182.2 108.1h.8v.8h-.8zM187.1 105.8h.8v.8h-.8zM180.4 110.2h.8v.8h-.8zM184.7 106.6h.8v.8h-.8zM183.2 101.5h.8v.8h-.8zM185.9 106.6h.8v.8h-.8zM169.6 108.4h.8v.8h-.8zM177.8 113.7h.8v.8h-.8zM183.5 107.0h.8v.8h-.8zM169.2 110.1h.8v.8h-.8zM171.2 114.7h.8v.8h-.8zM184.7 102.2h.8v.8h-.8zM182.7 107.7h.8v.8h-.8zM174.9 115.8h.8v.8h-.8zM176.5 99.3h.8v.8h-.8zM176.7 114.4h.8v.8h-.8zM181.7 108.3h.8v.8h-.8zM187.2 104.3h.8v.8h-.8zM187.5 103.7h.8v.8h-.8zM170.3 113.7h.8v.8h-.8zM183.2 107.0h.8v.8h-.8zM187.0 103.9h.8v.8h-.8zM170.0 113.0h.8v.8h-.8zM169.9 112.7h.8v.8h-.8zM181.0 108.6h.8v.8h-.8zM173.2 102.4h.8v.8h-.8zM183.3 106.5h.8v.8h-.8zM170.7 114.0h.8v.8h-.8zM175.0 115.5h.8v.8h-.8zM184.0 102.4h.8v.8h-.8zM182.6 107.3h.8v.8h-.8zM178.1 99.0h.8v.8h-.8zM175.9 114.7h.8v.8h-.8zM184.6 103.9h.8v.8h-.8zM185.1 105.1h.8v.8h-.8zM185.4 104.4h.8v.8h-.8zM185.2 104.6h.8v.8h-.8zM182.3 107.3h.8v.8h-.8zM182.5 107.0h.8v.8h-.8zM173.9 115.6h.8v.8h-.8zM176.9 113.5h.8v.8h-.8zM171.1 105.1h.8v.8h-.8zM175.4 114.3h.8v.8h-.8z"/><path fill="#323ccd" d="M173.6 116.6h.8v.8h-.8zM188.4 102.8h.8v.8h-.8zM177.5 114.1h.8v.8h-.8zM183.3 101.1h.8v.8h-.8zM184.8 101.4h.8v.8h-.8zM176.6 114.8h.8v.8h-.8zM178.6 98.7h.8v.8h-.8zM188.4 103.6h.8v.8h-.8zM174.8 116.1h.8v.8h-.8zM186.7 106.9h.8v.8h-.8zM169.2 110.5h.8v.8h-.8zM174.4 116.3h.8v.8h-.8zM187.6 102.9h.8v.8h-.8zM173.8 116.3h.8v.8h-.8zM188.0 103.1h.8v.8h-.8zM178.0 98.7h.8v.8h-.8zM171.6 115.0h.8v.8h-.8zM186.8 105.8h.8v.8h-.8zM186.8 103.1h.8v.8h-.8zM185.0 106.4h.8v.8h-.8zM187.1 103.3h.8v.8h-.8zM169.9 107.7h.8v.8h-.8zM184.5 102.3h.8v.8h-.8zM169.6 111.7h.8v.8h-.8zM185.5 103.2h.8v.8h-.8zM184.8 106.2h.8v.8h-.8zM184.0 106.1h.8v.8h-.8zM186.7 103.6h.8v.8h-.8zM186.7 103.7h.8v.8h-.8zM183.8 106.1h.8v.8h-.8zM186.3 105.4h.8v.8h-.8zM184.8 103.0h.8v.8h-.8zM175.5 115.1h.8v.8h-.8zM179.3 112.4h.8v.8h-.8zM182.9 101.9h.8v.8h-.8zM182.9 107.1h.8v.8h-.8zM171.3 114.5h.8v.8h-.8zM178.5 112.9h.8v.8h-.8zM182.7 107.2h.8v.8h-.8zM185.9 105.0h.8v.8h-.8zM175.7 100.6h.8v.8h-.8zM185.6 104.0h.8v.8h-.8zM185.7 105.1h.8v.8h-.8zM184.7 105.1h.8v.8h-.8zM184.0 102.9h.8v.8h-.8zM184.6 103.9h.8v.8h-.8zM177.0 99.4h.8v.8h-.8zM185.1 104.1h.8v.8h-.8zM176.9 99.4h.8v.8h-.8zM179.6 111.6h.8v.8h-.8zM171.4 114.3h.8v.8h-.8zM181.7 107.9h.8v.8h-.8zM178.8 112.5h.8v.8h-.8zM183.7 103.2h.8v.8h-.8zM173.3 102.5h.8v.8h-.8zM171.5 104.1h.8v.8h-.8zM182.6 102.3h.8v.8h-.8zM181.7 102.1h.8v.8h-.8zM170.6 106.6h.8v.8h-.8zM175.0 114.9h.8v.8h-.8zM181.4 107.9h.8v.8h-.8zM173.0 114.9h.8v.8h-.8zM183.2 103.3h.8v.8h-.8zM180.0 109.8h.8v.8h-.8zM173.2 102.7h.8v.8h-.8zM173.0 114.8h.8v.8h-.8zM174.9 114.6h.8v.8h-.8zM172.6 103.1h.8v.8h-.8zM171.2 105.2h.8v.8h-.8zM170.6 112.6h.8v.8h-.8zM173.3 114.8h.8v.8h-.8zM173.5 114.6h.8v.8h-.8zM182.5 104.9h.8v.8h-.8zM175.7 101.6h.8v.8h-.8zM170.2 109.6h.8v.8h-.8zM170.4 108.6h.8v.8h-.8zM182.3 103.6h.8v.8h-.8zM181.0 107.5h.8v.8h-.8zM171.2 106.3h.8v.8h-.8z"/><path fill="#2f3cce" d="M170.0 112.8h.8v.8h-.8zM171.7 114.8h.8v.8h-.8zM184.4 105.3h.8v.8h-.8zM173.5 115.9h.8v.8h-.8zM178.0 99.1h.8v.8h-.8zM180.1 110.5h.8v.8h-.8zM184.4 103.4h.8v.8h-.8zM184.8 105.0h.8v.8h-.8zM185.3 105.1h.8v.8h-.8zM183.3 102.4h.8v.8h-.8zM173.3 115.6h.8v.8h-.8zM171.7 114.4h.8v.8h-.8zM183.0 105.0h.8v.8h-.8zM181.4 102.0h.8v.8h-.8zM178.8 112.4h.8v.8h-.8zM183.2 104.2h.8v.8h-.8zM179.9 101.0h.8v.8h-.8zM171.3 104.6h.8v.8h-.8zM171.1 113.5h.8v.8h-.8zM173.4 115.1h.8v.8h-.8zM169.8 110.1h.8v.8h-.8zM178.2 99.6h.8v.8h-.8zM182.2 106.4h.8v.8h-.8zM173.0 102.8h.8v.8h-.8zM178.3 112.5h.8v.8h-.8zM170.7 106.8h.8v.8h-.8zM172.7 114.1h.8v.8h-.8zM173.3 102.8h.8v.8h-.8zM171.9 103.9h.8v.8h-.8zM178.0 99.8h.8v.8h-.8zM173.4 102.8h.8v.8h-.8zM170.4 107.9h.8v.8h-.8zM179.0 111.7h.8v.8h-.8zM182.6 104.0h.8v.8h-.8zM181.9 102.8h.8v.8h-.8zM170.3 110.9h.8v.8h-.8zM182.1 103.0h.8v.8h-.8zM179.2 100.9h.8v.8h-.8zM171.1 112.3h.8v.8h-.8zM170.6 111.4h.8v.8h-.8zM174.9 113.9h.8v.8h-.8zM174.0 113.9h.8v.8h-.8zM182.3 104.4h.8v.8h-.8zM177.3 100.3h.8v.8h-.8zM179.5 101.6h.8v.8h-.8zM182.2 104.6h.8v.8h-.8zM175.6 113.5h.8v.8h-.8zM180.9 107.4h.8v.8h-.8zM177.8 112.2h.8v.8h-.8zM181.5 106.1h.8v.8h-.8z"/><path fill="#2d3ccf" d="M170.1 112.2h.8v.8h-.8zM180.5 108.8h.8v.8h-.8zM173.7 115.4h.8v.8h-.8zM170.1 108.5h.8v.8h-.8zM170.5 112.6h.8v.8h-.8zM173.0 114.9h.8v.8h-.8zM178.5 99.7h.8v.8h-.8zM180.2 108.9h.8v.8h-.8zM172.4 114.2h.8v.8h-.8zM178.9 100.1h.8v.8h-.8zM175.5 101.6h.8v.8h-.8zM176.8 100.1h.8v.8h-.8zM182.6 103.1h.8v.8h-.8zM170.0 110.2h.8v.8h-.8zM170.0 110.4h.8v.8h-.8zM170.9 106.5h.8v.8h-.8zM174.3 114.3h.8v.8h-.8zM170.1 110.2h.8v.8h-.8zM182.3 103.1h.8v.8h-.8zM181.3 102.6h.8v.8h-.8zM170.5 111.1h.8v.8h-.8zM182.2 103.4h.8v.8h-.8zM181.1 102.6h.8v.8h-.8zM173.1 113.4h.8v.8h-.8zM182.0 105.5h.8v.8h-.8zM176.6 100.8h.8v.8h-.8zM175.5 113.6h.8v.8h-.8zM177.0 100.8h.8v.8h-.8zM176.1 101.7h.8v.8h-.8zM175.6 113.2h.8v.8h-.8zM179.4 102.1h.8v.8h-.8zM179.3 109.5h.8v.8h-.8zM170.7 109.5h.8v.8h-.8zM174.6 102.8h.8v.8h-.8zM181.2 106.4h.8v.8h-.8zM171.0 108.4h.8v.8h-.8z"/><path fill="#2a3cd0" d="M180.2 101.7h.8v.8h-.8zM171.3 113.2h.8v.8h-.8zM172.2 113.7h.8v.8h-.8zM176.4 100.6h.8v.8h-.8zM173.8 114.4h.8v.8h-.8zM171.9 113.3h.8v.8h-.8zM179.2 100.8h.8v.8h-.8zM170.1 110.1h.8v.8h-.8zM175.8 101.5h.8v.8h-.8zM176.5 100.8h.8v.8h-.8zM171.1 112.2h.8v.8h-.8zM179.7 101.7h.8v.8h-.8zM180.3 102.2h.8v.8h-.8zM172.4 103.6h.8v.8h-.8zM178.8 100.7h.8v.8h-.8zM178.3 100.3h.8v.8h-.8zM177.4 112.5h.8v.8h-.8zM172.2 104.2h.8v.8h-.8zM174.3 113.4h.8v.8h-.8zM170.9 107.4h.8v.8h-.8zM181.9 104.1h.8v.8h-.8zM171.7 105.5h.8v.8h-.8zM178.7 110.9h.8v.8h-.8zM181.5 104.5h.8v.8h-.8zM181.5 104.6h.8v.8h-.8zM177.7 101.2h.8v.8h-.8zM171.1 109.9h.8v.8h-.8zM180.4 107.2h.8v.8h-.8zM178.3 111.2h.8v.8h-.8zM180.9 106.3h.8v.8h-.8zM181.1 104.0h.8v.8h-.8zM171.7 106.6h.8v.8h-.8zM174.6 103.1h.8v.8h-.8zM171.2 109.0h.8v.8h-.8z"/><path fill="#283cd2" d="M172.1 113.0h.8v.8h-.8zM170.8 111.5h.8v.8h-.8zM180.4 102.4h.8v.8h-.8zM178.5 100.5h.8v.8h-.8zM172.3 103.9h.8v.8h-.8zM175.1 113.4h.8v.8h-.8zM180.4 107.7h.8v.8h-.8zM179.4 109.5h.8v.8h-.8zM171.6 105.8h.8v.8h-.8zM177.4 100.8h.8v.8h-.8zM175.3 113.3h.8v.8h-.8zM174.2 103.0h.8v.8h-.8zM181.6 104.6h.8v.8h-.8zM177.6 101.3h.8v.8h-.8zM172.5 104.4h.8v.8h-.8zM176.9 112.3h.8v.8h-.8zM178.5 101.9h.8v.8h-.8zM181.1 104.6h.8v.8h-.8zM178.8 109.3h.8v.8h-.8zM172.6 104.6h.8v.8h-.8zM174.6 103.3h.8v.8h-.8zM180.5 104.1h.8v.8h-.8zM178.7 109.2h.8v.8h-.8z"/><path fill="#253cd3" d="M178.2 100.3h.8v.8h-.8zM177.5 112.5h.8v.8h-.8zM171.9 112.2h.8v.8h-.8zM181.8 103.9h.8v.8h-.8zM171.1 111.0h.8v.8h-.8zM180.4 102.8h.8v.8h-.8zM171.2 111.2h.8v.8h-.8zM170.7 109.7h.8v.8h-.8zM176.1 102.0h.8v.8h-.8zM171.6 111.5h.8v.8h-.8zM180.9 106.7h.8v.8h-.8zM175.7 102.5h.8v.8h-.8zM176.2 102.2h.8v.8h-.8zM172.7 104.1h.8v.8h-.8zM178.2 111.3h.8v.8h-.8zM172.0 106.0h.8v.8h-.8zM180.1 103.3h.8v.8h-.8zM172.3 105.2h.8v.8h-.8zM177.9 102.0h.8v.8h-.8zM180.3 106.7h.8v.8h-.8zM178.5 102.9h.8v.8h-.8z"/><path fill="#233cd4" d="M172.6 112.7h.8v.8h-.8zM179.2 110.1h.8v.8h-.8zM171.2 106.8h.8v.8h-.8zM178.7 111.3h.8v.8h-.8zM172.6 112.5h.8v.8h-.8zM177.2 101.0h.8v.8h-.8zM180.6 103.1h.8v.8h-.8zM172.5 112.3h.8v.8h-.8zM174.3 113.1h.8v.8h-.8zM171.5 110.9h.8v.8h-.8zM171.1 107.9h.8v.8h-.8zM172.8 112.2h.8v.8h-.8zM177.9 111.6h.8v.8h-.8zM179.5 108.0h.8v.8h-.8zM172.0 111.1h.8v.8h-.8zM172.7 104.5h.8v.8h-.8zM180.9 105.4h.8v.8h-.8zM174.6 103.3h.8v.8h-.8zM171.6 110.0h.8v.8h-.8zM176.7 112.1h.8v.8h-.8zM180.1 104.2h.8v.8h-.8zM178.4 109.0h.8v.8h-.8zM175.9 112.0h.8v.8h-.8zM179.9 104.7h.8v.8h-.8z"/><path fill="#203cd5" d="M171.1 107.2h.8v.8h-.8zM173.8 112.8h.8v.8h-.8zM179.1 109.6h.8v.8h-.8zM181.5 104.6h.8v.8h-.8zM179.5 102.7h.8v.8h-.8zM171.0 109.0h.8v.8h-.8zM174.0 103.4h.8v.8h-.8zM176.0 112.6h.8v.8h-.8zM171.3 107.7h.8v.8h-.8zM180.6 103.9h.8v.8h-.8zM172.4 105.4h.8v.8h-.8zM172.6 111.4h.8v.8h-.8zM178.1 102.2h.8v.8h-.8zM180.0 107.0h.8v.8h-.8zM177.9 102.2h.8v.8h-.8zM180.4 106.3h.8v.8h-.8zM175.1 112.5h.8v.8h-.8zM175.4 103.2h.8v.8h-.8zM174.7 103.5h.8v.8h-.8zM173.0 111.3h.8v.8h-.8zM173.6 104.4h.8v.8h-.8zM176.4 111.7h.8v.8h-.8zM172.5 110.2h.8v.8h-.8zM179.9 104.9h.8v.8h-.8zM176.7 103.3h.8v.8h-.8zM175.3 103.8h.8v.8h-.8z"/><path fill="#1e3cd7" d="M177.1 101.4h.8v.8h-.8zM181.1 103.6h.8v.8h-.8zM173.7 103.4h.8v.8h-.8zM178.5 101.8h.8v.8h-.8zM178.2 101.8h.8v.8h-.8zM176.6 112.3h.8v.8h-.8zM172.5 111.6h.8v.8h-.8zM174.9 112.8h.8v.8h-.8zM173.4 112.0h.8v.8h-.8zM171.7 107.3h.8v.8h-.8zM176.2 102.9h.8v.8h-.8zM179.0 107.9h.8v.8h-.8zM178.3 109.8h.8v.8h-.8zM178.2 109.2h.8v.8h-.8zM172.8 110.7h.8v.8h-.8zM172.2 107.4h.8v.8h-.8zM173.7 104.6h.8v.8h-.8zM172.2 108.9h.8v.8h-.8zM178.6 107.5h.8v.8h-.8zM177.5 110.4h.8v.8h-.8zM179.7 105.2h.8v.8h-.8zM175.4 103.9h.8v.8h-.8z"/><path fill="#1f4bda" d="M172.6 104.4h.8v.8h-.8zM177.7 101.6h.8v.8h-.8zM177.4 101.7h.8v.8h-.8zM178.4 110.8h.8v.8h-.8zM173.2 112.1h.8v.8h-.8zM179.4 103.0h.8v.8h-.8zM172.3 105.2h.8v.8h-.8zM179.4 103.0h.8v.8h-.8zM177.6 101.8h.8v.8h-.8zM176.8 102.3h.8v.8h-.8zM178.3 102.4h.8v.8h-.8zM171.5 107.9h.8v.8h-.8zM180.8 104.4h.8v.8h-.8zM171.9 106.9h.8v.8h-.8zM178.0 110.8h.8v.8h-.8zM178.3 102.9h.8v.8h-.8zM178.9 107.8h.8v.8h-.8zM172.4 106.9h.8v.8h-.8zM177.0 111.3h.8v.8h-.8zM180.2 105.1h.8v.8h-.8zM179.6 106.7h.8v.8h-.8zM175.3 103.6h.8v.8h-.8zM176.0 111.8h.8v.8h-.8zM172.6 109.9h.8v.8h-.8zM178.6 106.9h.8v.8h-.8zM179.1 105.0h.8v.8h-.8zM173.1 109.6h.8v.8h-.8z"/><path fill="#2159dd" d="M173.9 112.4h.8v.8h-.8zM172.9 111.8h.8v.8h-.8zM178.0 102.0h.8v.8h-.8zM171.7 109.9h.8v.8h-.8zM171.6 109.9h.8v.8h-.8zM180.0 103.7h.8v.8h-.8zM172.1 110.5h.8v.8h-.8zM179.5 107.4h.8v.8h-.8zM171.5 108.8h.8v.8h-.8zM178.6 108.8h.8v.8h-.8zM179.2 107.4h.8v.8h-.8zM176.5 103.0h.8v.8h-.8zM178.4 108.3h.8v.8h-.8zM176.3 111.5h.8v.8h-.8zM175.4 103.9h.8v.8h-.8zM173.5 110.8h.8v.8h-.8zM178.0 103.7h.8v.8h-.8zM177.4 109.9h.8v.8h-.8zM173.8 105.3h.8v.8h-.8zM177.9 107.6h.8v.8h-.8zM176.1 104.1h.8v.8h-.8zM177.4 108.3h.8v.8h-.8zM174.7 104.9h.8v.8h-.8z"/><path fill="#2369e1" d="M178.6 110.3h.8v.8h-.8zM178.6 109.7h.8v.8h-.8zM178.1 110.8h.8v.8h-.8zM180.5 106.0h.8v.8h-.8zM180.1 106.7h.8v.8h-.8zM171.9 107.4h.8v.8h-.8zM179.5 103.9h.8v.8h-.8zM173.3 111.3h.8v.8h-.8zM180.1 104.8h.8v.8h-.8zM173.3 105.2h.8v.8h-.8zM172.6 107.1h.8v.8h-.8zM173.8 104.7h.8v.8h-.8zM178.0 108.6h.8v.8h-.8zM176.7 103.4h.8v.8h-.8zM178.4 107.5h.8v.8h-.8zM175.3 111.8h.8v.8h-.8zM178.7 106.9h.8v.8h-.8zM173.1 110.1h.8v.8h-.8zM176.0 111.4h.8v.8h-.8zM174.1 104.9h.8v.8h-.8zM176.4 111.1h.8v.8h-.8zM177.5 109.0h.8v.8h-.8zM175.4 111.4h.8v.8h-.8zM178.5 104.8h.8v.8h-.8zM177.6 104.3h.8v.8h-.8z"/><path fill="#2478e4" d="M180.5 105.9h.8v.8h-.8zM171.6 109.0h.8v.8h-.8zM171.6 108.3h.8v.8h-.8zM178.2 102.8h.8v.8h-.8zM172.7 105.7h.8v.8h-.8zM180.0 104.3h.8v.8h-.8zM174.5 112.1h.8v.8h-.8zM173.1 104.9h.8v.8h-.8zM177.9 110.4h.8v.8h-.8zM173.2 110.8h.8v.8h-.8zM175.1 104.1h.8v.8h-.8zM177.7 103.5h.8v.8h-.8zM172.5 107.9h.8v.8h-.8zM179.1 106.3h.8v.8h-.8zM174.0 111.1h.8v.8h-.8zM174.0 110.9h.8v.8h-.8zM177.4 104.1h.8v.8h-.8zM173.5 106.8h.8v.8h-.8zM177.2 108.9h.8v.8h-.8zM173.3 107.3h.8v.8h-.8zM177.7 104.4h.8v.8h-.8zM177.0 109.1h.8v.8h-.8zM173.1 108.3h.8v.8h-.8zM173.2 108.4h.8v.8h-.8zM175.5 110.5h.8v.8h-.8z"/><path fill="#2687e7" d="M175.2 112.3h.8v.8h-.8zM172.2 107.2h.8v.8h-.8zM177.9 110.4h.8v.8h-.8zM180.3 105.1h.8v.8h-.8zM172.0 109.2h.8v.8h-.8zM177.5 110.6h.8v.8h-.8zM175.2 112.0h.8v.8h-.8zM177.4 110.8h.8v.8h-.8zM176.3 103.5h.8v.8h-.8zM179.6 105.4h.8v.8h-.8zM177.5 103.5h.8v.8h-.8zM179.2 106.2h.8v.8h-.8zM174.9 104.3h.8v.8h-.8zM176.6 111.0h.8v.8h-.8zM178.5 106.7h.8v.8h-.8zM173.3 107.0h.8v.8h-.8zM175.4 111.4h.8v.8h-.8zM174.5 111.1h.8v.8h-.8zM177.1 109.4h.8v.8h-.8zM176.2 104.3h.8v.8h-.8zM174.2 110.5h.8v.8h-.8zM173.9 109.8h.8v.8h-.8zM174.9 110.9h.8v.8h-.8zM176.2 109.7h.8v.8h-.8zM174.3 109.5h.8v.8h-.8zM176.5 105.0h.8v.8h-.8zM174.5 109.1h.8v.8h-.8z"/><path fill="#2896eb" d="M180.2 105.4h.8v.8h-.8zM179.7 105.9h.8v.8h-.8zM172.6 109.1h.8v.8h-.8zM174.7 104.4h.8v.8h-.8zM175.2 111.6h.8v.8h-.8zM175.4 111.5h.8v.8h-.8zM175.2 111.4h.8v.8h-.8zM178.7 105.0h.8v.8h-.8zM174.0 110.2h.8v.8h-.8zM175.1 105.0h.8v.8h-.8zM175.3 110.9h.8v.8h-.8zM175.6 104.9h.8v.8h-.8zM177.3 107.2h.8v.8h-.8zM174.7 109.1h.8v.8h-.8zM174.4 106.3h.8v.8h-.8z"/><path fill="#28a0e4" d="M173.1 111.1h.8v.8h-.8zM179.7 104.2h.8v.8h-.8zM178.3 103.3h.8v.8h-.8zM175.2 103.7h.8v.8h-.8zM178.3 103.3h.8v.8h-.8zM178.0 103.2h.8v.8h-.8zM176.5 103.2h.8v.8h-.8zM172.4 109.7h.8v.8h-.8zM173.3 105.4h.8v.8h-.8zM179.5 104.6h.8v.8h-.8zM178.2 107.9h.8v.8h-.8zM179.2 106.6h.8v.8h-.8zM178.1 107.8h.8v.8h-.8zM172.5 108.9h.8v.8h-.8zM174.0 104.9h.8v.8h-.8zM172.6 108.0h.8v.8h-.8zM174.1 111.2h.8v.8h-.8zM173.1 106.9h.8v.8h-.8zM175.0 111.6h.8v.8h-.8zM172.6 108.7h.8v.8h-.8zM176.8 103.8h.8v.8h-.8zM178.8 105.0h.8v.8h-.8zM177.8 107.7h.8v.8h-.8zM174.2 111.0h.8v.8h-.8zM172.8 108.6h.8v.8h-.8zM175.2 111.3h.8v.8h-.8zM177.0 109.7h.8v.8h-.8zM173.3 107.6h.8v.8h-.8zM173.2 108.9h.8v.8h-.8zM178.2 105.7h.8v.8h-.8zM178.0 105.2h.8v.8h-.8zM177.2 107.9h.8v.8h-.8zM174.8 110.6h.8v.8h-.8zM177.8 105.4h.8v.8h-.8zM176.2 109.9h.8v.8h-.8zM173.7 108.8h.8v.8h-.8zM177.3 105.4h.8v.8h-.8zM177.3 105.7h.8v.8h-.8zM176.3 109.0h.8v.8h-.8zM176.4 105.7h.8v.8h-.8zM174.3 108.6h.8v.8h-.8zM176.6 106.4h.8v.8h-.8zM175.0 106.1h.8v.8h-.8z"/><path fill="#28abdd" d="M173.6 111.4h.8v.8h-.8zM177.9 110.0h.8v.8h-.8zM175.0 112.1h.8v.8h-.8zM176.4 103.3h.8v.8h-.8zM173.2 105.4h.8v.8h-.8zM179.4 106.6h.8v.8h-.8zM173.6 104.9h.8v.8h-.8zM179.7 105.8h.8v.8h-.8zM178.6 107.4h.8v.8h-.8zM173.6 105.2h.8v.8h-.8zM173.8 105.0h.8v.8h-.8zM174.7 111.7h.8v.8h-.8zM178.9 104.6h.8v.8h-.8zM173.8 110.6h.8v.8h-.8zM179.0 105.8h.8v.8h-.8zM175.2 111.2h.8v.8h-.8zM178.3 105.1h.8v.8h-.8zM177.4 104.4h.8v.8h-.8zM177.9 106.5h.8v.8h-.8zM176.2 110.2h.8v.8h-.8zM177.5 105.4h.8v.8h-.8zM175.4 109.1h.8v.8h-.8zM174.0 108.1h.8v.8h-.8zM174.7 108.1h.8v.8h-.8z"/><path fill="#28b5d6" d="M173.3 105.4h.8v.8h-.8zM176.6 103.3h.8v.8h-.8zM179.3 106.7h.8v.8h-.8zM179.8 105.3h.8v.8h-.8zM172.7 107.1h.8v.8h-.8zM179.7 105.1h.8v.8h-.8zM178.6 107.2h.8v.8h-.8zM176.3 103.6h.8v.8h-.8zM177.3 110.3h.8v.8h-.8zM178.4 104.1h.8v.8h-.8zM172.7 107.9h.8v.8h-.8zM177.2 110.2h.8v.8h-.8zM175.9 111.3h.8v.8h-.8zM173.7 110.3h.8v.8h-.8zM174.2 105.1h.8v.8h-.8zM172.9 108.9h.8v.8h-.8zM172.9 108.8h.8v.8h-.8zM176.5 110.3h.8v.8h-.8zM174.5 110.5h.8v.8h-.8zM174.3 110.0h.8v.8h-.8zM176.3 109.7h.8v.8h-.8zM175.6 110.3h.8v.8h-.8zM176.0 109.2h.8v.8h-.8zM176.1 109.0h.8v.8h-.8zM176.4 107.2h.8v.8h-.8z"/><path fill="#28c0d0" d="M172.3 108.7h.8v.8h-.8zM177.7 109.7h.8v.8h-.8zM179.0 106.8h.8v.8h-.8zM173.5 105.5h.8v.8h-.8zM178.3 104.0h.8v.8h-.8zM173.6 105.5h.8v.8h-.8zM177.7 103.7h.8v.8h-.8zM178.1 104.0h.8v.8h-.8zM173.0 107.2h.8v.8h-.8zM178.8 104.9h.8v.8h-.8zM175.8 104.4h.8v.8h-.8zM173.2 107.9h.8v.8h-.8zM177.6 105.3h.8v.8h-.8zM176.8 105.9h.8v.8h-.8zM174.3 107.9h.8v.8h-.8zM174.4 107.8h.8v.8h-.8zM174.6 106.7h.8v.8h-.8zM174.4 107.2h.8v.8h-.8zM175.4 108.3h.8v.8h-.8zM176.0 107.6h.8v.8h-.8z"/><path fill="#28cac9" d="M179.4 105.2h.8v.8h-.8zM172.8 107.5h.8v.8h-.8zM177.8 107.8h.8v.8h-.8zM177.8 104.0h.8v.8h-.8zM175.5 104.3h.8v.8h-.8zM176.8 104.0h.8v.8h-.8zM176.2 104.3h.8v.8h-.8zM177.8 104.7h.8v.8h-.8zM175.1 110.9h.8v.8h-.8zM176.5 109.9h.8v.8h-.8zM175.8 110.6h.8v.8h-.8zM173.8 108.9h.8v.8h-.8zM175.8 109.6h.8v.8h-.8zM174.7 106.2h.8v.8h-.8zM174.5 107.1h.8v.8h-.8zM176.2 107.5h.8v.8h-.8zM174.9 107.9h.8v.8h-.8zM175.3 106.7h.8v.8h-.8z"/><path fill="#2dccb3" d="M177.5 108.1h.8v.8h-.8zM177.0 109.9h.8v.8h-.8zM175.2 104.8h.8v.8h-.8zM175.0 111.1h.8v.8h-.8zM174.1 105.9h.8v.8h-.8zM176.1 110.5h.8v.8h-.8zM175.2 110.7h.8v.8h-.8zM174.9 105.3h.8v.8h-.8zM175.2 105.7h.8v.8h-.8zM176.2 107.9h.8v.8h-.8zM174.8 108.4h.8v.8h-.8zM175.1 106.8h.8v.8h-.8z"/><path fill="#33cb9a" d="M172.9 109.3h.8v.8h-.8zM173.7 106.1h.8v.8h-.8zM178.4 105.5h.8v.8h-.8zM173.6 109.7h.8v.8h-.8zM176.8 109.5h.8v.8h-.8zM175.0 105.0h.8v.8h-.8zM177.1 104.5h.8v.8h-.8zM175.8 104.7h.8v.8h-.8zM177.0 107.6h.8v.8h-.8zM177.0 106.9h.8v.8h-.8zM174.5 106.4h.8v.8h-.8zM175.3 108.3h.8v.8h-.8zM174.6 106.9h.8v.8h-.8zM176.1 106.8h.8v.8h-.8zM175.8 107.7h.8v.8h-.8zM175.1 107.9h.8v.8h-.8zM175.6 106.5h.8v.8h-.8zM175.4 106.8h.8v.8h-.8z"/><path fill="#39ca81" d="M178.8 106.2h.8v.8h-.8zM175.7 111.4h.8v.8h-.8zM173.7 110.0h.8v.8h-.8zM177.1 108.8h.8v.8h-.8zM174.3 110.1h.8v.8h-.8zM176.5 104.8h.8v.8h-.8zM174.5 109.9h.8v.8h-.8zM174.9 105.4h.8v.8h-.8zM176.6 105.4h.8v.8h-.8zM175.8 106.4h.8v.8h-.8zM175.6 107.4h.8v.8h-.8z"/><path fill="#3fc968" d="M173.0 109.1h.8v.8h-.8zM173.0 108.9h.8v.8h-.8zM178.7 105.4h.8v.8h-.8zM177.3 104.2h.8v.8h-.8zM174.7 105.0h.8v.8h-.8zM174.0 110.1h.8v.8h-.8zM174.6 110.5h.8v.8h-.8zM177.7 105.1h.8v.8h-.8zM173.6 107.8h.8v.8h-.8zM173.9 108.8h.8v.8h-.8zM177.1 106.7h.8v.8h-.8zM174.8 105.7h.8v.8h-.8zM174.0 107.2h.8v.8h-.8zM175.9 107.0h.8v.8h-.8z"/><path fill="#46c850" d="M176.7 110.3h.8v.8h-.8zM177.1 104.4h.8v.8h-.8zM177.8 105.3h.8v.8h-.8zM177.4 106.3h.8v.8h-.8zM176.0 109.9h.8v.8h-.8zM177.0 107.7h.8v.8h-.8zM176.1 108.3h.8v.8h-.8zM175.4 107.9h.8v.8h-.8z"/><path fill="#5fcb47" d="M176.8 110.1h.8v.8h-.8zM177.0 108.7h.8v.8h-.8zM178.1 105.8h.8v.8h-.8zM177.4 106.3h.8v.8h-.8zM176.6 106.2h.8v.8h-.8zM175.3 105.8h.8v.8h-.8zM174.4 107.1h.8v.8h-.8zM175.8 107.3h.8v.8h-.8zM175.5 106.7h.8v.8h-.8z"/><path fill="#78ce3f" d="M177.3 104.7h.8v.8h-.8zM177.0 108.1h.8v.8h-.8zM176.2 109.4h.8v.8h-.8zM176.3 108.8h.8v.8h-.8zM176.5 105.7h.8v.8h-.8zM176.4 108.2h.8v.8h-.8z"/><path fill="#91d136" d="M177.0 104.5h.8v.8h-.8zM176.3 110.2h.8v.8h-.8zM175.7 104.9h.8v.8h-.8zM177.5 106.8h.8v.8h-.8zM176.6 105.0h.8v.8h-.8zM173.6 108.7h.8v.8h-.8zM173.7 108.8h.8v.8h-.8zM175.6 110.2h.8v.8h-.8zM177.4 106.5h.8v.8h-.8zM174.1 108.9h.8v.8h-.8zM175.5 108.7h.8v.8h-.8zM174.8 106.7h.8v.8h-.8zM175.9 106.6h.8v.8h-.8z"/><path fill="#aad42e" d="M177.3 106.5h.8v.8h-.8zM177.0 105.3h.8v.8h-.8zM175.9 109.2h.8v.8h-.8zM174.4 106.7h.8v.8h-.8z"/><path fill="#c1d327" d="M177.2 106.5h.8v.8h-.8zM176.8 107.1h.8v.8h-.8zM175.7 108.5h.8v.8h-.8zM175.2 108.4h.8v.8h-.8zM176.4 106.8h.8v.8h-.8zM175.0 106.9h.8v.8h-.8z"/><path fill="#d2c224" d="M175.4 105.3h.8v.8h-.8zM173.9 108.3h.8v.8h-.8zM177.0 106.4h.8v.8h-.8zM175.4 106.1h.8v.8h-.8zM174.6 107.5h.8v.8h-.8zM175.7 107.0h.8v.8h-.8z"/><path fill="#e3b121" d="M176.3 107.7h.8v.8h-.8z"/><path fill="#f5a01e" d="M174.4 108.1h.8v.8h-.8zM174.5 106.9h.8v.8h-.8zM175.9 106.8h.8v.8h-.8z"/><path fill="#f2861e" d="M174.6 108.2h.8v.8h-.8zM175.0 107.2h.8v.8h-.8z"/><path fill="#f06e1e" d="M175.6 108.5h.8v.8h-.8zM174.7 108.0h.8v.8h-.8zM175.4 106.9h.8v.8h-.8z"/><path fill="#eb3c1e" d="M176.2 107.0h.8v.8h-.8zM175.4 106.5h.8v.8h-.8zM175.2 106.6h.8v.8h-.8zM174.9 107.5h.8v.8h-.8zM175.1 107.3h.8v.8h-.8zM175.5 107.2h.8v.8h-.8zM175.3 107.1h.8v.8h-.8z"/></g><polygon points="185.2,91.1 213.3,92 212.3,117.7 180.3,117.7" stroke="#1a1a1a" stroke-width="0.8" fill="none" stroke-linejoin="miter"/><text x="199.7" y="73.4" font-size="5.1" font-weight="bold" text-anchor="middle" fill="#000" stroke="#000" stroke-width="0.15">Treg</text><text x="199.7" y="80.1" font-size="5.1" font-weight="bold" text-anchor="middle" fill="#000" stroke="#000" stroke-width="0.15">10.3</text><line x1="135.5" y1="137" x2="135.5" y2="113.3" stroke="#000" stroke-width="1.2" stroke-linecap="butt"/><line x1="134.8" y1="136.5" x2="162" y2="136.5" stroke="#000" stroke-width="1.2" stroke-linecap="butt"/><polygon points="135.4,110.8 133.5,114.4 137.3,114.4" fill="#000"/><polygon points="164.5,136.4 160.9,134.5 160.9,138.3" fill="#000"/><text x="139.4" y="95.6" font-size="7.5" font-weight="bold" text-anchor="middle" fill="#000" transform="rotate(-90 139.4 95.6)" stroke="#000" stroke-width="0.15">SSC-A</text><text x="170.1" y="139.1" font-size="7.4" font-weight="bold" text-anchor="start" fill="#000" stroke="#000" stroke-width="0.15">FoxP3-PE-Cy7</text><rect x="247.5" y="34.5" width="93" height="91" stroke="#7a7a7a" fill="none" stroke-width="0.9"/><text x="293.6" y="27.8" font-size="8.4" font-weight="bold" text-anchor="middle" fill="#000" stroke="#000" stroke-width="0.15">TAIII</text><g><path fill="#6e6ed7" d="M266.7 92.8h.8v.8h-.8zM292.0 118.5h.8v.8h-.8zM300.2 107.6h.8v.8h-.8zM280.1 121.8h.8v.8h-.8zM262.1 112.4h.8v.8h-.8zM264.0 107.2h.8v.8h-.8zM280.7 117.9h.8v.8h-.8zM266.6 119.0h.8v.8h-.8zM292.4 94.7h.8v.8h-.8zM283.7 90.8h.8v.8h-.8zM290.5 94.0h.8v.8h-.8zM277.5 94.7h.8v.8h-.8zM282.3 114.8h.8v.8h-.8zM296.0 98.5h.8v.8h-.8zM285.5 92.4h.8v.8h-.8zM282.4 92.6h.8v.8h-.8zM271.3 122.1h.8v.8h-.8zM270.3 121.1h.8v.8h-.8zM294.4 109.8h.8v.8h-.8zM273.8 96.1h.8v.8h-.8zM294.8 99.6h.8v.8h-.8zM265.3 111.6h.8v.8h-.8zM266.3 105.6h.8v.8h-.8zM294.7 104.5h.8v.8h-.8zM284.4 112.6h.8v.8h-.8zM272.5 120.2h.8v.8h-.8zM266.7 104.2h.8v.8h-.8zM287.0 114.0h.8v.8h-.8zM288.8 113.2h.8v.8h-.8zM291.3 111.1h.8v.8h-.8zM274.8 118.5h.8v.8h-.8zM284.7 94.3h.8v.8h-.8zM266.9 116.3h.8v.8h-.8zM292.4 109.6h.8v.8h-.8zM292.4 107.3h.8v.8h-.8zM292.3 110.7h.8v.8h-.8zM287.0 113.0h.8v.8h-.8zM283.4 112.1h.8v.8h-.8zM293.8 107.6h.8v.8h-.8zM268.6 117.1h.8v.8h-.8zM289.1 96.4h.8v.8h-.8zM291.9 110.4h.8v.8h-.8zM267.2 116.3h.8v.8h-.8zM282.4 94.5h.8v.8h-.8zM294.3 106.8h.8v.8h-.8zM292.5 100.8h.8v.8h-.8zM293.4 105.0h.8v.8h-.8zM278.7 116.2h.8v.8h-.8zM291.9 102.2h.8v.8h-.8zM269.7 100.2h.8v.8h-.8zM287.7 112.5h.8v.8h-.8zM293.9 106.5h.8v.8h-.8zM288.9 110.9h.8v.8h-.8zM292.9 105.5h.8v.8h-.8zM291.1 106.0h.8v.8h-.8zM288.4 96.3h.8v.8h-.8zM285.2 95.3h.8v.8h-.8zM284.2 95.4h.8v.8h-.8zM292.6 98.7h.8v.8h-.8zM266.7 113.0h.8v.8h-.8zM285.3 95.8h.8v.8h-.8zM268.4 103.2h.8v.8h-.8zM291.7 103.7h.8v.8h-.8zM290.9 105.4h.8v.8h-.8zM279.1 115.1h.8v.8h-.8zM267.5 108.7h.8v.8h-.8zM268.5 115.9h.8v.8h-.8zM292.1 98.9h.8v.8h-.8zM280.0 95.1h.8v.8h-.8zM270.5 100.2h.8v.8h-.8zM291.4 103.5h.8v.8h-.8zM292.0 98.9h.8v.8h-.8zM276.1 116.9h.8v.8h-.8zM287.7 111.1h.8v.8h-.8zM291.7 99.7h.8v.8h-.8zM287.1 96.7h.8v.8h-.8zM274.9 97.6h.8v.8h-.8zM287.3 96.9h.8v.8h-.8zM287.1 110.4h.8v.8h-.8z"/><path fill="#5f61d4" d="M268.0 107.2h.8v.8h-.8zM271.1 100.0h.8v.8h-.8zM269.0 115.8h.8v.8h-.8zM289.5 107.0h.8v.8h-.8zM267.8 114.1h.8v.8h-.8zM286.6 110.7h.8v.8h-.8zM288.3 110.0h.8v.8h-.8zM289.0 107.8h.8v.8h-.8zM290.4 98.5h.8v.8h-.8zM290.9 103.1h.8v.8h-.8zM280.6 113.1h.8v.8h-.8zM291.1 100.2h.8v.8h-.8zM269.4 102.1h.8v.8h-.8zM272.8 98.8h.8v.8h-.8zM290.0 98.5h.8v.8h-.8zM286.7 96.8h.8v.8h-.8zM290.6 98.8h.8v.8h-.8zM273.7 117.8h.8v.8h-.8zM268.8 103.7h.8v.8h-.8zM268.6 104.8h.8v.8h-.8zM281.2 112.3h.8v.8h-.8zM285.9 97.2h.8v.8h-.8zM267.6 111.0h.8v.8h-.8zM279.6 95.9h.8v.8h-.8zM288.5 108.1h.8v.8h-.8zM267.4 112.3h.8v.8h-.8zM287.6 110.1h.8v.8h-.8zM290.4 100.5h.8v.8h-.8zM272.3 118.4h.8v.8h-.8zM268.2 114.0h.8v.8h-.8zM289.0 106.5h.8v.8h-.8zM280.5 95.5h.8v.8h-.8zM282.5 96.6h.8v.8h-.8zM288.9 98.4h.8v.8h-.8zM267.6 112.1h.8v.8h-.8zM282.3 96.4h.8v.8h-.8zM281.6 95.8h.8v.8h-.8zM287.5 109.4h.8v.8h-.8zM290.0 104.2h.8v.8h-.8zM271.3 117.4h.8v.8h-.8zM271.5 117.7h.8v.8h-.8zM267.8 112.7h.8v.8h-.8zM273.0 99.1h.8v.8h-.8zM285.7 109.1h.8v.8h-.8zM280.7 95.7h.8v.8h-.8zM285.4 109.0h.8v.8h-.8zM283.3 97.8h.8v.8h-.8zM284.1 109.9h.8v.8h-.8zM275.6 116.2h.8v.8h-.8zM286.8 109.1h.8v.8h-.8zM272.0 117.9h.8v.8h-.8zM283.3 97.9h.8v.8h-.8zM272.2 117.9h.8v.8h-.8zM273.9 116.8h.8v.8h-.8zM289.8 103.8h.8v.8h-.8zM284.2 109.7h.8v.8h-.8zM289.4 101.8h.8v.8h-.8zM289.6 102.9h.8v.8h-.8zM284.6 109.2h.8v.8h-.8zM281.6 111.1h.8v.8h-.8zM286.3 98.0h.8v.8h-.8zM288.1 106.8h.8v.8h-.8zM288.9 105.2h.8v.8h-.8zM272.6 117.7h.8v.8h-.8zM283.3 98.1h.8v.8h-.8zM286.6 108.5h.8v.8h-.8zM275.8 116.0h.8v.8h-.8zM287.8 107.6h.8v.8h-.8zM270.4 115.3h.8v.8h-.8zM277.4 115.4h.8v.8h-.8zM284.8 107.6h.8v.8h-.8zM289.4 100.2h.8v.8h-.8zM277.6 115.3h.8v.8h-.8zM283.9 109.6h.8v.8h-.8zM287.0 98.1h.8v.8h-.8zM271.7 116.9h.8v.8h-.8zM274.0 98.7h.8v.8h-.8zM287.3 107.7h.8v.8h-.8zM273.6 116.6h.8v.8h-.8zM288.3 105.7h.8v.8h-.8zM288.5 98.9h.8v.8h-.8zM284.2 107.1h.8v.8h-.8zM289.2 100.9h.8v.8h-.8zM286.9 107.7h.8v.8h-.8zM270.3 101.9h.8v.8h-.8zM275.2 98.1h.8v.8h-.8zM283.9 107.4h.8v.8h-.8zM274.7 98.3h.8v.8h-.8zM270.0 114.8h.8v.8h-.8zM269.8 114.6h.8v.8h-.8zM282.5 98.2h.8v.8h-.8zM286.5 107.3h.8v.8h-.8zM280.0 112.6h.8v.8h-.8zM280.9 96.5h.8v.8h-.8zM280.9 96.5h.8v.8h-.8zM283.9 106.2h.8v.8h-.8zM285.0 98.7h.8v.8h-.8zM272.0 116.5h.8v.8h-.8zM283.0 107.6h.8v.8h-.8zM289.0 103.2h.8v.8h-.8zM286.8 106.4h.8v.8h-.8zM281.7 110.2h.8v.8h-.8zM282.8 109.4h.8v.8h-.8zM268.5 112.7h.8v.8h-.8zM283.2 106.8h.8v.8h-.8zM281.4 110.4h.8v.8h-.8zM287.8 105.0h.8v.8h-.8zM285.6 105.2h.8v.8h-.8zM280.5 111.5h.8v.8h-.8zM288.5 104.2h.8v.8h-.8zM277.6 114.5h.8v.8h-.8zM283.0 99.4h.8v.8h-.8zM281.2 110.1h.8v.8h-.8zM278.6 113.5h.8v.8h-.8zM273.4 99.8h.8v.8h-.8zM276.9 114.9h.8v.8h-.8zM270.3 114.3h.8v.8h-.8zM283.1 104.9h.8v.8h-.8zM269.4 105.4h.8v.8h-.8zM285.9 104.3h.8v.8h-.8zM284.4 103.3h.8v.8h-.8z"/><path fill="#5055d2" d="M282.9 98.1h.8v.8h-.8zM272.0 117.1h.8v.8h-.8zM279.9 96.7h.8v.8h-.8zM285.0 106.4h.8v.8h-.8zM289.1 100.4h.8v.8h-.8zM282.9 109.8h.8v.8h-.8zM286.0 106.9h.8v.8h-.8zM289.2 103.8h.8v.8h-.8zM284.6 105.3h.8v.8h-.8zM279.3 97.4h.8v.8h-.8zM277.0 115.3h.8v.8h-.8zM276.4 115.5h.8v.8h-.8zM272.7 100.1h.8v.8h-.8zM287.7 98.7h.8v.8h-.8zM275.2 115.7h.8v.8h-.8zM282.7 109.5h.8v.8h-.8zM282.8 108.8h.8v.8h-.8zM283.3 108.8h.8v.8h-.8zM283.0 109.1h.8v.8h-.8zM286.4 106.2h.8v.8h-.8zM288.1 105.1h.8v.8h-.8zM268.6 108.2h.8v.8h-.8zM270.4 102.2h.8v.8h-.8zM285.9 105.7h.8v.8h-.8zM287.3 98.8h.8v.8h-.8zM281.3 97.7h.8v.8h-.8zM286.1 105.7h.8v.8h-.8zM280.9 97.2h.8v.8h-.8zM268.4 110.8h.8v.8h-.8zM282.8 106.8h.8v.8h-.8zM272.7 115.7h.8v.8h-.8zM288.1 102.0h.8v.8h-.8zM285.4 104.5h.8v.8h-.8zM285.7 99.1h.8v.8h-.8zM288.1 100.0h.8v.8h-.8zM283.3 104.1h.8v.8h-.8zM288.2 100.4h.8v.8h-.8zM281.2 109.3h.8v.8h-.8zM270.9 102.0h.8v.8h-.8zM284.0 103.4h.8v.8h-.8zM273.0 115.6h.8v.8h-.8zM269.8 113.8h.8v.8h-.8zM288.1 100.1h.8v.8h-.8zM280.1 97.7h.8v.8h-.8zM271.3 101.7h.8v.8h-.8zM287.8 102.3h.8v.8h-.8zM286.6 99.3h.8v.8h-.8zM287.4 99.5h.8v.8h-.8zM275.9 98.3h.8v.8h-.8zM288.0 103.0h.8v.8h-.8zM287.8 104.2h.8v.8h-.8zM278.0 113.9h.8v.8h-.8zM283.0 104.6h.8v.8h-.8zM281.5 99.0h.8v.8h-.8zM271.7 114.8h.8v.8h-.8zM287.8 100.6h.8v.8h-.8zM271.2 114.5h.8v.8h-.8zM287.6 101.3h.8v.8h-.8zM279.5 112.4h.8v.8h-.8zM283.7 100.0h.8v.8h-.8zM287.7 103.4h.8v.8h-.8zM268.7 109.4h.8v.8h-.8zM281.3 107.6h.8v.8h-.8zM274.2 115.3h.8v.8h-.8zM269.0 108.1h.8v.8h-.8zM282.7 105.3h.8v.8h-.8zM287.5 103.8h.8v.8h-.8zM287.3 104.0h.8v.8h-.8zM284.9 103.3h.8v.8h-.8zM284.2 102.7h.8v.8h-.8zM279.9 98.0h.8v.8h-.8zM286.5 103.9h.8v.8h-.8zM283.4 100.5h.8v.8h-.8zM271.7 114.6h.8v.8h-.8zM282.5 105.8h.8v.8h-.8zM286.9 103.6h.8v.8h-.8zM269.9 103.8h.8v.8h-.8zM286.6 101.3h.8v.8h-.8zM284.5 102.2h.8v.8h-.8zM284.7 99.8h.8v.8h-.8zM273.4 100.3h.8v.8h-.8zM285.4 103.1h.8v.8h-.8zM273.7 115.1h.8v.8h-.8zM273.9 115.1h.8v.8h-.8zM286.1 100.1h.8v.8h-.8zM284.8 99.9h.8v.8h-.8zM281.2 99.3h.8v.8h-.8zM285.5 99.9h.8v.8h-.8zM277.6 113.8h.8v.8h-.8zM283.0 101.5h.8v.8h-.8zM285.9 102.0h.8v.8h-.8zM280.5 110.1h.8v.8h-.8zM270.1 113.5h.8v.8h-.8zM280.1 110.9h.8v.8h-.8zM279.5 98.5h.8v.8h-.8zM274.3 114.7h.8v.8h-.8zM272.2 101.9h.8v.8h-.8zM274.5 99.7h.8v.8h-.8z"/><path fill="#4148cf" d="M271.4 101.6h.8v.8h-.8zM286.1 104.5h.8v.8h-.8zM287.5 101.6h.8v.8h-.8zM284.7 103.4h.8v.8h-.8zM286.9 99.8h.8v.8h-.8zM286.8 102.7h.8v.8h-.8zM286.7 101.0h.8v.8h-.8zM284.6 99.8h.8v.8h-.8zM283.1 102.4h.8v.8h-.8zM283.3 101.3h.8v.8h-.8zM279.9 98.3h.8v.8h-.8zM272.6 114.8h.8v.8h-.8zM284.3 101.6h.8v.8h-.8zM285.5 99.9h.8v.8h-.8zM281.9 106.4h.8v.8h-.8zM284.6 100.1h.8v.8h-.8zM284.4 100.2h.8v.8h-.8zM285.9 102.5h.8v.8h-.8zM285.6 102.6h.8v.8h-.8zM282.2 106.0h.8v.8h-.8zM286.0 102.1h.8v.8h-.8zM285.5 101.9h.8v.8h-.8zM271.5 114.2h.8v.8h-.8zM276.7 98.4h.8v.8h-.8zM284.7 101.2h.8v.8h-.8zM284.6 100.9h.8v.8h-.8zM279.8 98.5h.8v.8h-.8zM269.3 108.1h.8v.8h-.8zM280.5 99.0h.8v.8h-.8zM282.3 100.5h.8v.8h-.8zM281.9 100.1h.8v.8h-.8zM268.9 110.3h.8v.8h-.8zM269.6 112.8h.8v.8h-.8zM280.3 110.0h.8v.8h-.8zM276.6 114.2h.8v.8h-.8zM279.9 98.9h.8v.8h-.8zM281.1 99.9h.8v.8h-.8zM273.2 114.5h.8v.8h-.8zM269.4 112.2h.8v.8h-.8zM278.7 112.5h.8v.8h-.8zM272.8 114.2h.8v.8h-.8zM278.3 98.7h.8v.8h-.8zM275.0 99.4h.8v.8h-.8zM279.1 111.8h.8v.8h-.8zM269.4 109.1h.8v.8h-.8zM282.1 103.0h.8v.8h-.8zM279.2 99.1h.8v.8h-.8zM276.5 98.8h.8v.8h-.8zM274.5 114.3h.8v.8h-.8zM270.3 112.8h.8v.8h-.8zM269.7 108.9h.8v.8h-.8zM272.9 113.7h.8v.8h-.8zM273.6 101.2h.8v.8h-.8z"/><path fill="#323ccd" d="M285.2 100.3h.8v.8h-.8zM281.0 107.5h.8v.8h-.8zM271.2 102.4h.8v.8h-.8zM281.4 100.2h.8v.8h-.8zM270.3 103.7h.8v.8h-.8zM269.7 107.6h.8v.8h-.8zM279.3 111.7h.8v.8h-.8zM273.1 101.2h.8v.8h-.8zM269.9 106.1h.8v.8h-.8zM282.1 103.3h.8v.8h-.8zM269.8 107.9h.8v.8h-.8zM279.3 111.3h.8v.8h-.8zM278.5 112.4h.8v.8h-.8zM280.5 100.1h.8v.8h-.8zM278.3 98.9h.8v.8h-.8zM279.6 110.2h.8v.8h-.8zM281.7 104.6h.8v.8h-.8zM270.0 105.8h.8v.8h-.8zM269.4 110.0h.8v.8h-.8zM281.1 100.8h.8v.8h-.8zM278.1 112.6h.8v.8h-.8zM269.6 111.5h.8v.8h-.8zM279.8 100.4h.8v.8h-.8zM281.6 102.8h.8v.8h-.8zM278.2 99.2h.8v.8h-.8zM274.7 100.3h.8v.8h-.8zM273.8 101.2h.8v.8h-.8zM280.7 106.6h.8v.8h-.8zM281.5 103.6h.8v.8h-.8zM281.3 102.8h.8v.8h-.8zM280.3 101.2h.8v.8h-.8zM281.1 102.4h.8v.8h-.8z"/><path fill="#2f3cce" d="M271.7 102.3h.8v.8h-.8zM269.6 108.3h.8v.8h-.8zM279.6 110.6h.8v.8h-.8zM277.8 98.8h.8v.8h-.8zM281.3 106.2h.8v.8h-.8zM270.0 106.3h.8v.8h-.8zM281.8 101.3h.8v.8h-.8zM281.8 101.6h.8v.8h-.8zM276.5 113.6h.8v.8h-.8zM281.5 101.2h.8v.8h-.8zM279.1 99.5h.8v.8h-.8zM281.7 104.2h.8v.8h-.8zM275.3 99.6h.8v.8h-.8zM271.5 113.1h.8v.8h-.8zM275.9 113.7h.8v.8h-.8zM280.6 101.2h.8v.8h-.8zM269.9 111.6h.8v.8h-.8zM281.2 104.9h.8v.8h-.8zM274.8 113.7h.8v.8h-.8zM280.1 101.4h.8v.8h-.8zM278.3 111.5h.8v.8h-.8zM281.2 103.9h.8v.8h-.8zM278.5 99.9h.8v.8h-.8zM280.4 106.7h.8v.8h-.8zM278.0 111.8h.8v.8h-.8zM281.1 104.2h.8v.8h-.8zM279.0 101.4h.8v.8h-.8zM280.4 102.5h.8v.8h-.8zM270.1 110.8h.8v.8h-.8zM270.6 105.4h.8v.8h-.8zM273.5 102.3h.8v.8h-.8zM275.9 100.0h.8v.8h-.8z"/><path fill="#2d3ccf" d="M281.9 101.7h.8v.8h-.8zM275.1 114.1h.8v.8h-.8zM274.7 100.1h.8v.8h-.8zM281.7 103.8h.8v.8h-.8zM272.1 113.3h.8v.8h-.8zM271.4 113.1h.8v.8h-.8zM281.4 101.5h.8v.8h-.8zM273.7 101.3h.8v.8h-.8zM271.0 112.8h.8v.8h-.8zM274.2 113.9h.8v.8h-.8zM279.6 109.7h.8v.8h-.8zM270.4 112.3h.8v.8h-.8zM279.8 108.7h.8v.8h-.8zM275.9 113.4h.8v.8h-.8zM280.0 101.4h.8v.8h-.8zM269.9 111.2h.8v.8h-.8zM270.0 109.4h.8v.8h-.8zM271.1 103.8h.8v.8h-.8zM271.2 103.7h.8v.8h-.8zM270.3 111.9h.8v.8h-.8zM280.4 101.8h.8v.8h-.8zM270.7 107.9h.8v.8h-.8zM277.6 99.4h.8v.8h-.8zM273.0 102.5h.8v.8h-.8zM280.7 105.7h.8v.8h-.8zM276.4 99.6h.8v.8h-.8zM278.8 109.9h.8v.8h-.8zM273.8 102.2h.8v.8h-.8zM270.3 111.1h.8v.8h-.8zM272.2 103.3h.8v.8h-.8zM273.5 102.5h.8v.8h-.8zM272.4 112.4h.8v.8h-.8zM276.7 99.9h.8v.8h-.8z"/><path fill="#2a3cd0" d="M280.1 100.7h.8v.8h-.8zM279.5 100.3h.8v.8h-.8zM281.3 102.0h.8v.8h-.8zM269.8 109.3h.8v.8h-.8zM279.3 100.4h.8v.8h-.8zM278.4 111.6h.8v.8h-.8zM272.1 113.0h.8v.8h-.8zM277.0 99.2h.8v.8h-.8zM280.9 101.8h.8v.8h-.8zM280.1 107.1h.8v.8h-.8zM270.6 108.9h.8v.8h-.8zM276.3 99.8h.8v.8h-.8zM278.5 110.1h.8v.8h-.8zM270.9 112.0h.8v.8h-.8zM271.1 107.8h.8v.8h-.8zM276.3 112.6h.8v.8h-.8zM278.1 101.0h.8v.8h-.8zM278.3 101.6h.8v.8h-.8zM275.6 101.0h.8v.8h-.8zM277.0 111.9h.8v.8h-.8zM270.7 109.9h.8v.8h-.8zM271.7 111.9h.8v.8h-.8zM280.3 104.0h.8v.8h-.8zM276.7 112.0h.8v.8h-.8zM280.2 105.6h.8v.8h-.8zM271.1 111.5h.8v.8h-.8zM271.6 108.4h.8v.8h-.8zM276.2 100.9h.8v.8h-.8z"/><path fill="#283cd2" d="M281.0 102.5h.8v.8h-.8zM270.6 107.7h.8v.8h-.8zM279.7 108.8h.8v.8h-.8zM278.4 99.8h.8v.8h-.8zM269.9 111.0h.8v.8h-.8zM276.4 113.0h.8v.8h-.8zM281.1 104.7h.8v.8h-.8zM273.6 113.3h.8v.8h-.8zM274.5 101.2h.8v.8h-.8zM277.8 99.6h.8v.8h-.8zM275.6 100.2h.8v.8h-.8zM280.5 106.0h.8v.8h-.8zM276.4 99.7h.8v.8h-.8zM274.0 102.2h.8v.8h-.8zM273.4 112.7h.8v.8h-.8zM279.9 103.0h.8v.8h-.8zM273.2 103.0h.8v.8h-.8zM270.6 111.1h.8v.8h-.8zM270.9 105.3h.8v.8h-.8zM277.1 111.4h.8v.8h-.8zM271.5 111.7h.8v.8h-.8zM277.7 101.4h.8v.8h-.8zM277.7 101.6h.8v.8h-.8zM271.8 111.7h.8v.8h-.8zM276.7 100.8h.8v.8h-.8zM274.7 102.5h.8v.8h-.8zM279.1 108.0h.8v.8h-.8zM271.1 110.7h.8v.8h-.8zM271.8 109.3h.8v.8h-.8z"/><path fill="#253cd3" d="M280.7 106.0h.8v.8h-.8zM279.9 101.8h.8v.8h-.8zM274.7 113.5h.8v.8h-.8zM278.1 111.3h.8v.8h-.8zM280.8 103.4h.8v.8h-.8zM270.8 108.3h.8v.8h-.8zM270.9 107.5h.8v.8h-.8zM278.2 100.4h.8v.8h-.8zM277.2 112.1h.8v.8h-.8zM270.7 109.1h.8v.8h-.8zM278.1 100.5h.8v.8h-.8zM274.6 113.2h.8v.8h-.8zM271.9 103.5h.8v.8h-.8zM277.4 111.8h.8v.8h-.8zM275.9 100.5h.8v.8h-.8zM277.1 100.0h.8v.8h-.8zM277.4 111.4h.8v.8h-.8zM271.0 104.8h.8v.8h-.8zM280.4 105.2h.8v.8h-.8zM270.8 109.6h.8v.8h-.8zM274.8 112.9h.8v.8h-.8zM270.8 111.3h.8v.8h-.8zM271.3 104.5h.8v.8h-.8zM278.8 109.0h.8v.8h-.8zM277.3 110.8h.8v.8h-.8zM276.6 111.6h.8v.8h-.8zM279.5 103.4h.8v.8h-.8zM278.2 102.7h.8v.8h-.8zM273.9 112.1h.8v.8h-.8zM273.5 111.9h.8v.8h-.8zM279.1 107.3h.8v.8h-.8zM278.9 108.0h.8v.8h-.8zM274.2 112.1h.8v.8h-.8z"/><path fill="#233cd4" d="M270.6 105.1h.8v.8h-.8zM279.8 102.2h.8v.8h-.8zM273.1 102.7h.8v.8h-.8zM276.9 99.6h.8v.8h-.8zM270.7 106.0h.8v.8h-.8zM280.2 102.9h.8v.8h-.8zM277.1 112.1h.8v.8h-.8zM274.6 101.7h.8v.8h-.8zM273.4 102.7h.8v.8h-.8zM278.7 109.6h.8v.8h-.8zM270.9 109.1h.8v.8h-.8zM270.5 109.9h.8v.8h-.8zM277.8 100.6h.8v.8h-.8zM279.6 103.0h.8v.8h-.8zM270.7 111.3h.8v.8h-.8zM273.5 102.9h.8v.8h-.8zM276.8 100.2h.8v.8h-.8zM274.0 102.7h.8v.8h-.8zM277.3 100.3h.8v.8h-.8zM276.2 100.7h.8v.8h-.8zM274.2 112.7h.8v.8h-.8zM272.0 103.8h.8v.8h-.8zM279.1 108.3h.8v.8h-.8zM274.9 102.2h.8v.8h-.8zM279.7 103.4h.8v.8h-.8zM279.0 108.3h.8v.8h-.8zM280.1 105.0h.8v.8h-.8zM271.6 111.5h.8v.8h-.8zM271.0 110.2h.8v.8h-.8zM278.9 108.4h.8v.8h-.8zM276.1 112.0h.8v.8h-.8zM271.6 104.4h.8v.8h-.8zM277.5 101.8h.8v.8h-.8zM274.8 102.7h.8v.8h-.8zM279.1 107.7h.8v.8h-.8zM276.4 101.6h.8v.8h-.8zM273.2 111.7h.8v.8h-.8zM279.4 103.8h.8v.8h-.8zM272.4 104.1h.8v.8h-.8zM276.4 102.2h.8v.8h-.8zM279.7 104.8h.8v.8h-.8zM271.6 104.9h.8v.8h-.8zM272.5 109.2h.8v.8h-.8zM278.2 108.5h.8v.8h-.8z"/><path fill="#203cd5" d="M270.7 105.0h.8v.8h-.8zM270.8 105.0h.8v.8h-.8zM277.4 111.7h.8v.8h-.8zM277.1 99.8h.8v.8h-.8zM275.5 112.9h.8v.8h-.8zM274.6 102.0h.8v.8h-.8zM277.7 110.8h.8v.8h-.8zM274.4 102.2h.8v.8h-.8zM276.6 112.2h.8v.8h-.8zM276.7 100.2h.8v.8h-.8zM277.4 111.0h.8v.8h-.8zM270.8 111.1h.8v.8h-.8zM275.5 112.6h.8v.8h-.8zM278.6 109.1h.8v.8h-.8zM277.3 110.5h.8v.8h-.8zM276.1 101.5h.8v.8h-.8zM271.6 104.4h.8v.8h-.8zM275.3 112.3h.8v.8h-.8zM278.3 109.0h.8v.8h-.8zM271.3 110.7h.8v.8h-.8zM277.3 110.0h.8v.8h-.8zM273.3 111.8h.8v.8h-.8zM272.9 111.5h.8v.8h-.8zM273.1 111.6h.8v.8h-.8zM278.8 108.0h.8v.8h-.8zM277.9 109.3h.8v.8h-.8zM274.6 112.0h.8v.8h-.8zM276.2 102.8h.8v.8h-.8zM277.1 102.8h.8v.8h-.8z"/><path fill="#1e3cd7" d="M275.4 113.0h.8v.8h-.8zM278.5 102.1h.8v.8h-.8zM272.4 112.1h.8v.8h-.8zM276.5 100.3h.8v.8h-.8zM273.7 112.6h.8v.8h-.8zM272.4 112.1h.8v.8h-.8zM271.1 109.5h.8v.8h-.8zM275.1 101.9h.8v.8h-.8zM278.6 102.5h.8v.8h-.8zM276.9 111.5h.8v.8h-.8zM277.2 100.8h.8v.8h-.8zM274.6 112.7h.8v.8h-.8zM271.4 109.4h.8v.8h-.8zM270.9 110.4h.8v.8h-.8zM276.8 100.7h.8v.8h-.8zM278.9 108.5h.8v.8h-.8zM274.7 112.5h.8v.8h-.8zM279.8 106.0h.8v.8h-.8zM271.2 110.3h.8v.8h-.8zM279.0 107.8h.8v.8h-.8zM279.5 106.5h.8v.8h-.8zM275.5 112.1h.8v.8h-.8zM276.1 102.0h.8v.8h-.8zM276.7 101.8h.8v.8h-.8zM278.3 108.9h.8v.8h-.8zM275.4 102.6h.8v.8h-.8zM271.9 111.0h.8v.8h-.8zM276.8 102.3h.8v.8h-.8zM277.4 109.5h.8v.8h-.8zM272.1 110.4h.8v.8h-.8zM275.2 103.1h.8v.8h-.8zM273.2 110.8h.8v.8h-.8zM275.6 110.9h.8v.8h-.8zM279.2 105.9h.8v.8h-.8zM275.2 103.6h.8v.8h-.8zM276.7 109.5h.8v.8h-.8zM274.0 110.7h.8v.8h-.8zM279.2 104.6h.8v.8h-.8zM271.8 105.9h.8v.8h-.8zM274.1 110.5h.8v.8h-.8zM272.0 106.8h.8v.8h-.8z"/><path fill="#1f4bda" d="M277.2 100.4h.8v.8h-.8zM277.7 101.1h.8v.8h-.8zM280.2 104.5h.8v.8h-.8zM277.5 101.4h.8v.8h-.8zM275.4 102.0h.8v.8h-.8zM276.0 112.1h.8v.8h-.8zM278.4 102.6h.8v.8h-.8zM271.1 110.8h.8v.8h-.8zM271.3 110.9h.8v.8h-.8zM276.7 101.7h.8v.8h-.8zM272.3 104.0h.8v.8h-.8zM273.3 103.6h.8v.8h-.8zM271.6 110.7h.8v.8h-.8zM276.5 110.8h.8v.8h-.8zM272.4 109.0h.8v.8h-.8zM272.4 110.9h.8v.8h-.8zM273.2 110.9h.8v.8h-.8zM278.7 107.4h.8v.8h-.8zM278.2 103.3h.8v.8h-.8zM273.5 109.7h.8v.8h-.8zM273.4 108.8h.8v.8h-.8z"/><path fill="#2159dd" d="M280.1 105.6h.8v.8h-.8zM273.1 112.1h.8v.8h-.8zM274.7 112.6h.8v.8h-.8zM279.2 103.1h.8v.8h-.8zM275.1 102.3h.8v.8h-.8zM280.1 104.4h.8v.8h-.8zM278.3 109.3h.8v.8h-.8zM271.3 104.9h.8v.8h-.8zM272.1 104.0h.8v.8h-.8zM278.8 107.7h.8v.8h-.8zM277.7 102.9h.8v.8h-.8zM279.4 106.0h.8v.8h-.8zM276.2 110.4h.8v.8h-.8zM274.5 111.6h.8v.8h-.8zM273.2 110.4h.8v.8h-.8zM275.8 103.1h.8v.8h-.8zM279.0 104.4h.8v.8h-.8zM271.8 105.8h.8v.8h-.8zM273.0 104.4h.8v.8h-.8zM274.9 109.8h.8v.8h-.8zM276.3 103.7h.8v.8h-.8z"/><path fill="#2369e1" d="M279.6 103.5h.8v.8h-.8zM275.7 101.7h.8v.8h-.8zM276.9 110.9h.8v.8h-.8zM277.9 109.5h.8v.8h-.8zM271.6 107.1h.8v.8h-.8zM272.1 110.0h.8v.8h-.8zM279.7 104.9h.8v.8h-.8zM272.4 110.8h.8v.8h-.8zM271.7 104.9h.8v.8h-.8zM275.5 103.1h.8v.8h-.8zM273.0 109.9h.8v.8h-.8zM274.5 111.4h.8v.8h-.8zM277.3 103.0h.8v.8h-.8zM274.6 111.1h.8v.8h-.8zM279.0 104.5h.8v.8h-.8zM276.9 103.2h.8v.8h-.8zM273.0 104.3h.8v.8h-.8zM276.0 109.7h.8v.8h-.8zM276.1 109.4h.8v.8h-.8zM278.5 106.8h.8v.8h-.8zM278.7 105.9h.8v.8h-.8zM278.0 107.4h.8v.8h-.8zM277.2 103.8h.8v.8h-.8zM272.2 106.2h.8v.8h-.8zM277.5 104.0h.8v.8h-.8z"/><path fill="#2478e4" d="M271.2 106.4h.8v.8h-.8zM271.2 105.9h.8v.8h-.8zM275.8 112.1h.8v.8h-.8zM279.6 104.1h.8v.8h-.8zM272.0 110.7h.8v.8h-.8zM275.9 102.5h.8v.8h-.8zM271.5 105.4h.8v.8h-.8zM272.3 110.4h.8v.8h-.8zM277.8 108.9h.8v.8h-.8zM279.1 104.1h.8v.8h-.8zM274.9 111.4h.8v.8h-.8zM272.9 109.6h.8v.8h-.8zM277.7 108.7h.8v.8h-.8zM277.7 103.3h.8v.8h-.8zM274.6 110.8h.8v.8h-.8zM273.1 108.9h.8v.8h-.8zM274.7 104.0h.8v.8h-.8zM275.9 103.8h.8v.8h-.8zM272.0 106.0h.8v.8h-.8zM272.4 105.1h.8v.8h-.8zM273.9 108.7h.8v.8h-.8z"/><path fill="#2687e7" d="M274.4 103.2h.8v.8h-.8zM271.5 106.5h.8v.8h-.8zM276.5 110.8h.8v.8h-.8zM272.2 108.5h.8v.8h-.8zM273.3 111.5h.8v.8h-.8zM271.9 107.2h.8v.8h-.8zM272.5 109.5h.8v.8h-.8zM274.2 111.8h.8v.8h-.8zM272.5 109.5h.8v.8h-.8zM276.9 102.5h.8v.8h-.8zM274.8 111.6h.8v.8h-.8zM277.0 103.2h.8v.8h-.8zM275.3 110.0h.8v.8h-.8zM276.9 103.5h.8v.8h-.8zM278.3 104.2h.8v.8h-.8zM277.7 103.8h.8v.8h-.8zM274.3 109.2h.8v.8h-.8zM276.6 108.7h.8v.8h-.8zM278.0 104.6h.8v.8h-.8zM277.5 104.3h.8v.8h-.8zM276.4 104.5h.8v.8h-.8z"/><path fill="#2896eb" d="M271.8 110.5h.8v.8h-.8zM272.4 110.6h.8v.8h-.8zM277.4 102.7h.8v.8h-.8zM275.0 111.6h.8v.8h-.8zM271.8 104.8h.8v.8h-.8zM275.3 111.2h.8v.8h-.8zM275.1 111.3h.8v.8h-.8zM274.1 103.9h.8v.8h-.8zM273.5 110.2h.8v.8h-.8zM277.9 108.4h.8v.8h-.8zM273.5 104.1h.8v.8h-.8zM275.6 110.2h.8v.8h-.8zM274.8 110.1h.8v.8h-.8zM275.8 109.5h.8v.8h-.8zM272.4 106.9h.8v.8h-.8zM277.4 103.8h.8v.8h-.8zM272.6 107.1h.8v.8h-.8zM274.2 109.0h.8v.8h-.8zM278.1 106.4h.8v.8h-.8zM275.8 108.4h.8v.8h-.8z"/><path fill="#28a0e4" d="M272.2 108.0h.8v.8h-.8zM274.5 111.8h.8v.8h-.8zM275.2 111.6h.8v.8h-.8zM273.0 110.6h.8v.8h-.8zM279.1 106.5h.8v.8h-.8zM273.1 104.1h.8v.8h-.8zM278.5 107.9h.8v.8h-.8zM272.9 109.1h.8v.8h-.8zM278.0 108.4h.8v.8h-.8zM272.3 104.4h.8v.8h-.8zM278.9 104.0h.8v.8h-.8zM278.5 107.0h.8v.8h-.8zM272.3 104.8h.8v.8h-.8zM278.8 104.7h.8v.8h-.8zM272.6 107.5h.8v.8h-.8zM278.8 105.8h.8v.8h-.8zM278.1 104.0h.8v.8h-.8zM275.9 104.6h.8v.8h-.8zM272.6 105.4h.8v.8h-.8zM276.5 108.2h.8v.8h-.8zM273.6 105.0h.8v.8h-.8zM276.1 105.2h.8v.8h-.8z"/><path fill="#28abdd" d="M274.4 103.7h.8v.8h-.8zM278.9 107.1h.8v.8h-.8zM277.0 109.3h.8v.8h-.8zM275.3 110.7h.8v.8h-.8zM279.3 105.4h.8v.8h-.8zM279.0 105.0h.8v.8h-.8zM274.0 109.4h.8v.8h-.8zM277.8 103.8h.8v.8h-.8zM272.1 105.3h.8v.8h-.8zM278.7 105.0h.8v.8h-.8zM278.3 104.4h.8v.8h-.8zM274.4 108.7h.8v.8h-.8zM274.9 105.0h.8v.8h-.8zM276.3 105.7h.8v.8h-.8z"/><path fill="#28b5d6" d="M274.0 111.4h.8v.8h-.8zM277.1 109.3h.8v.8h-.8zM277.0 109.4h.8v.8h-.8zM275.8 103.4h.8v.8h-.8zM274.7 110.9h.8v.8h-.8zM278.9 104.4h.8v.8h-.8zM277.2 103.4h.8v.8h-.8zM277.3 103.5h.8v.8h-.8zM273.8 109.4h.8v.8h-.8zM273.7 104.7h.8v.8h-.8zM278.2 106.1h.8v.8h-.8zM277.0 107.1h.8v.8h-.8zM273.9 105.3h.8v.8h-.8zM277.1 106.5h.8v.8h-.8zM277.1 105.9h.8v.8h-.8zM274.1 105.4h.8v.8h-.8zM276.7 106.8h.8v.8h-.8zM276.6 106.4h.8v.8h-.8zM275.8 107.6h.8v.8h-.8z"/><path fill="#28c0d0" d="M272.5 108.0h.8v.8h-.8zM274.8 103.9h.8v.8h-.8zM275.9 110.1h.8v.8h-.8zM274.9 110.5h.8v.8h-.8zM272.4 107.5h.8v.8h-.8zM273.9 109.8h.8v.8h-.8zM271.9 106.0h.8v.8h-.8zM272.2 105.3h.8v.8h-.8zM275.7 104.4h.8v.8h-.8zM277.6 107.6h.8v.8h-.8zM272.6 107.0h.8v.8h-.8zM275.9 104.5h.8v.8h-.8zM277.3 107.4h.8v.8h-.8zM277.1 106.9h.8v.8h-.8zM275.2 107.9h.8v.8h-.8zM275.4 107.7h.8v.8h-.8zM273.6 105.9h.8v.8h-.8z"/><path fill="#28cac9" d="M276.5 109.5h.8v.8h-.8zM272.6 107.9h.8v.8h-.8zM278.8 106.7h.8v.8h-.8zM276.6 103.2h.8v.8h-.8zM276.6 109.2h.8v.8h-.8zM273.4 109.0h.8v.8h-.8zM278.9 105.7h.8v.8h-.8zM275.2 110.0h.8v.8h-.8zM276.1 103.7h.8v.8h-.8zM274.9 109.7h.8v.8h-.8zM278.1 104.0h.8v.8h-.8zM275.0 104.6h.8v.8h-.8zM275.5 109.2h.8v.8h-.8zM272.4 105.5h.8v.8h-.8zM277.9 105.4h.8v.8h-.8zM277.7 105.9h.8v.8h-.8zM276.4 105.1h.8v.8h-.8zM274.7 108.2h.8v.8h-.8z"/><path fill="#2dccb3" d="M277.4 108.7h.8v.8h-.8zM275.2 110.2h.8v.8h-.8zM274.2 109.8h.8v.8h-.8zM272.1 106.6h.8v.8h-.8zM276.4 103.9h.8v.8h-.8zM274.8 109.0h.8v.8h-.8zM277.5 107.3h.8v.8h-.8zM276.1 105.4h.8v.8h-.8zM273.8 105.3h.8v.8h-.8zM276.8 105.7h.8v.8h-.8zM273.6 107.0h.8v.8h-.8zM274.0 106.0h.8v.8h-.8zM275.4 106.7h.8v.8h-.8z"/><path fill="#33cb9a" d="M273.7 109.7h.8v.8h-.8zM272.1 105.5h.8v.8h-.8zM278.0 103.9h.8v.8h-.8zM278.5 104.4h.8v.8h-.8zM278.7 105.7h.8v.8h-.8zM277.5 104.2h.8v.8h-.8zM273.9 104.7h.8v.8h-.8zM277.5 107.5h.8v.8h-.8zM275.1 108.8h.8v.8h-.8zM278.0 106.1h.8v.8h-.8zM274.4 105.0h.8v.8h-.8zM273.6 107.8h.8v.8h-.8zM277.7 105.0h.8v.8h-.8zM276.1 104.9h.8v.8h-.8zM274.5 108.1h.8v.8h-.8zM276.3 105.3h.8v.8h-.8zM273.8 107.3h.8v.8h-.8zM274.1 107.5h.8v.8h-.8zM275.8 107.9h.8v.8h-.8zM276.0 105.9h.8v.8h-.8z"/><path fill="#39ca81" d="M273.6 108.8h.8v.8h-.8zM274.0 104.4h.8v.8h-.8zM274.8 104.4h.8v.8h-.8zM278.6 104.6h.8v.8h-.8zM275.1 109.5h.8v.8h-.8zM278.5 104.7h.8v.8h-.8zM275.7 109.3h.8v.8h-.8zM278.5 105.8h.8v.8h-.8zM276.5 104.2h.8v.8h-.8zM276.6 108.1h.8v.8h-.8zM277.6 106.7h.8v.8h-.8zM277.8 105.7h.8v.8h-.8zM276.4 105.4h.8v.8h-.8zM273.3 105.6h.8v.8h-.8zM275.5 107.8h.8v.8h-.8z"/><path fill="#3fc968" d="M276.3 103.8h.8v.8h-.8zM275.9 109.4h.8v.8h-.8zM274.5 109.0h.8v.8h-.8zM273.0 105.4h.8v.8h-.8zM273.1 105.5h.8v.8h-.8zM275.5 105.7h.8v.8h-.8zM273.5 105.9h.8v.8h-.8zM273.6 105.9h.8v.8h-.8z"/><path fill="#46c850" d="M278.5 106.0h.8v.8h-.8zM273.4 104.6h.8v.8h-.8zM278.4 106.1h.8v.8h-.8zM273.8 108.3h.8v.8h-.8zM273.2 107.3h.8v.8h-.8zM274.7 107.6h.8v.8h-.8zM275.7 106.4h.8v.8h-.8z"/><path fill="#5fcb47" d="M272.9 107.5h.8v.8h-.8zM273.7 108.5h.8v.8h-.8zM276.6 108.5h.8v.8h-.8zM276.6 108.2h.8v.8h-.8zM277.9 106.2h.8v.8h-.8zM276.7 104.8h.8v.8h-.8zM277.7 105.5h.8v.8h-.8zM277.5 106.5h.8v.8h-.8zM276.3 108.1h.8v.8h-.8zM273.5 105.2h.8v.8h-.8zM273.4 107.2h.8v.8h-.8zM276.5 107.5h.8v.8h-.8zM275.4 105.6h.8v.8h-.8zM274.0 105.6h.8v.8h-.8zM276.1 106.2h.8v.8h-.8zM274.0 106.4h.8v.8h-.8z"/><path fill="#78ce3f" d="M272.7 107.1h.8v.8h-.8zM275.9 104.5h.8v.8h-.8zM273.3 107.6h.8v.8h-.8zM273.9 107.6h.8v.8h-.8zM272.9 106.3h.8v.8h-.8zM275.5 108.3h.8v.8h-.8zM273.4 105.4h.8v.8h-.8zM277.0 105.9h.8v.8h-.8zM273.7 106.6h.8v.8h-.8zM275.2 106.3h.8v.8h-.8zM274.3 106.0h.8v.8h-.8z"/><path fill="#91d136" d="M273.5 108.1h.8v.8h-.8zM276.3 108.6h.8v.8h-.8zM275.0 104.8h.8v.8h-.8zM277.7 105.5h.8v.8h-.8zM275.6 107.8h.8v.8h-.8zM274.2 105.7h.8v.8h-.8zM276.3 106.9h.8v.8h-.8zM273.8 106.4h.8v.8h-.8z"/><path fill="#aad42e" d="M275.8 104.9h.8v.8h-.8zM277.7 106.6h.8v.8h-.8zM277.7 106.2h.8v.8h-.8zM273.3 107.2h.8v.8h-.8zM277.2 105.3h.8v.8h-.8zM276.9 107.3h.8v.8h-.8zM276.3 105.3h.8v.8h-.8zM273.6 105.3h.8v.8h-.8zM274.2 105.5h.8v.8h-.8zM276.5 107.0h.8v.8h-.8zM274.5 107.5h.8v.8h-.8zM275.6 107.7h.8v.8h-.8z"/><path fill="#c1d327" d="M272.7 106.4h.8v.8h-.8zM277.6 105.0h.8v.8h-.8zM275.9 105.1h.8v.8h-.8zM275.2 105.2h.8v.8h-.8zM277.7 106.1h.8v.8h-.8zM272.8 105.6h.8v.8h-.8zM275.0 108.5h.8v.8h-.8zM274.2 105.2h.8v.8h-.8zM276.0 106.2h.8v.8h-.8zM273.8 105.9h.8v.8h-.8zM273.9 106.3h.8v.8h-.8z"/><path fill="#d2c224" d="M276.5 104.7h.8v.8h-.8zM277.4 105.5h.8v.8h-.8zM276.5 107.8h.8v.8h-.8zM273.0 105.4h.8v.8h-.8zM273.5 105.3h.8v.8h-.8zM275.3 108.1h.8v.8h-.8zM276.7 106.8h.8v.8h-.8zM273.5 105.7h.8v.8h-.8zM275.3 106.1h.8v.8h-.8zM273.5 106.4h.8v.8h-.8zM273.5 106.1h.8v.8h-.8zM275.2 107.1h.8v.8h-.8zM275.1 106.8h.8v.8h-.8z"/><path fill="#e3b121" d="M273.4 107.4h.8v.8h-.8zM277.2 106.8h.8v.8h-.8zM276.9 105.5h.8v.8h-.8zM275.9 106.8h.8v.8h-.8zM275.9 106.9h.8v.8h-.8z"/><path fill="#f5a01e" d="M272.8 106.6h.8v.8h-.8zM274.4 108.2h.8v.8h-.8zM275.0 108.4h.8v.8h-.8zM272.9 106.2h.8v.8h-.8zM276.5 107.4h.8v.8h-.8zM276.4 105.7h.8v.8h-.8zM273.7 105.4h.8v.8h-.8zM275.4 108.1h.8v.8h-.8zM275.1 108.0h.8v.8h-.8zM275.5 107.9h.8v.8h-.8z"/><path fill="#f2861e" d="M276.2 108.0h.8v.8h-.8zM274.5 105.8h.8v.8h-.8zM274.4 107.0h.8v.8h-.8z"/><path fill="#f06e1e" d="M273.6 106.9h.8v.8h-.8zM273.6 106.8h.8v.8h-.8zM274.2 105.6h.8v.8h-.8zM275.6 107.7h.8v.8h-.8zM275.7 106.3h.8v.8h-.8zM274.5 107.2h.8v.8h-.8zM275.1 106.5h.8v.8h-.8z"/><path fill="#ed551e" d="M275.4 107.9h.8v.8h-.8z"/><path fill="#eb3c1e" d="M275.8 106.0h.8v.8h-.8zM273.9 107.0h.8v.8h-.8zM275.6 107.7h.8v.8h-.8zM276.2 107.3h.8v.8h-.8zM276.4 106.9h.8v.8h-.8zM275.4 107.3h.8v.8h-.8zM275.6 106.7h.8v.8h-.8zM274.6 106.6h.8v.8h-.8zM274.8 106.8h.8v.8h-.8z"/></g><polygon points="287.7,91.1 315.6,92.4 314.6,117.4 283,117.7" stroke="#1a1a1a" stroke-width="0.8" fill="none" stroke-linejoin="miter"/><text x="301.6" y="73.4" font-size="5.1" font-weight="bold" text-anchor="middle" fill="#000" stroke="#000" stroke-width="0.15">Treg</text><text x="301.6" y="80.1" font-size="5.1" font-weight="bold" text-anchor="middle" fill="#000" stroke="#000" stroke-width="0.15">5.84</text><text x="33" y="45.6" font-size="7.55" font-weight="bold" text-anchor="start" fill="#f41010" stroke="#f41010" stroke-width="0.15">Gating in CD4+ T cell</text><rect x="394.9" y="59.73" width="12.6" height="54.97" stroke="none" fill="#e7e7e7" stroke-width="0"/><path d="M394.9 114.7V59.73H407.5V114.7" fill="none" stroke="#5c5c5c" stroke-width="1.4" stroke-linejoin="miter"/><rect x="417.1" y="79.7" width="12.8" height="35" stroke="none" fill="#fdf0e4" stroke-width="0"/><path d="M417.1 114.7V79.7H429.9V114.7" fill="none" stroke="#f3b077" stroke-width="1.4" stroke-linejoin="miter"/><line x1="401.5" y1="48.5" x2="401.5" y2="68.3" stroke="#8a8a8a" stroke-width="0.9" stroke-linecap="butt"/><line x1="398.9" y1="48.5" x2="403.5" y2="48.5" stroke="#8a8a8a" stroke-width="0.9" stroke-linecap="butt"/><line x1="398.9" y1="68.5" x2="403.5" y2="68.5" stroke="#8a8a8a" stroke-width="0.9" stroke-linecap="butt"/><circle cx="401.1" cy="47.4" r="1.55" fill="#555555"/><circle cx="397.8" cy="64.5" r="1.55" fill="#555555"/><circle cx="404.9" cy="64.5" r="1.55" fill="#555555"/><circle cx="418.9" cy="80" r="1.55" fill="#f1a866"/><circle cx="422.3" cy="79.2" r="1.55" fill="#f1a866"/><circle cx="425.5" cy="78.8" r="1.55" fill="#f1a866"/><circle cx="428.6" cy="79.4" r="1.55" fill="#f1a866"/><line x1="401" y1="38.5" x2="424.1" y2="38.5" stroke="#222" stroke-width="0.9" stroke-linecap="butt"/><text x="412.6" y="34.8" font-size="6.4" font-weight="normal" text-anchor="middle" fill="#000">0.0238</text><text x="412.5" y="17.6" font-size="8.3" font-weight="bold" text-anchor="middle" fill="#000" stroke="#000" stroke-width="0.15">Treg</text><text x="369.9" y="75" font-size="8.8" font-weight="bold" text-anchor="middle" fill="#000" transform="rotate(-90 369.9 75)" stroke="#000" stroke-width="0.15">% in CD4<tspan dy="-3" font-size="5.6">+</tspan><tspan dy="3"> T cells</tspan></text><text x="403.5" y="125" font-size="8" font-weight="bold" text-anchor="end" fill="#000" transform="rotate(-45 403.5 125)" stroke="#000" stroke-width="0.15">DMSO</text><text x="425.8" y="125" font-size="8" font-weight="bold" text-anchor="end" fill="#000" transform="rotate(-45 425.8 125)" stroke="#000" stroke-width="0.15">TAIII</text><text x="468" y="8.5" font-size="12.1" font-weight="bold" text-anchor="start" fill="#000" stroke="#000" stroke-width="0.15">b</text><text x="574" y="19.3" font-size="7.5" font-weight="bold" text-anchor="middle" fill="#000" stroke="#000" stroke-width="0.15">CAR-T</text><text x="489.7" y="62.7" font-size="8.35" font-weight="bold" text-anchor="middle" fill="#000" transform="rotate(-90 489.7 62.7)" stroke="#000" stroke-width="0.15">CellTiter Glo %</text><text x="484.2" y="109.2" font-size="6.85" font-weight="bold" text-anchor="start" fill="#000" stroke="#000" stroke-width="0.15">TAIII [µM]</text><text x="529" y="109.6" font-size="7.3" font-weight="bold" text-anchor="middle" fill="#000" stroke="#000" stroke-width="0.15">0</text><text x="559.5" y="109.6" font-size="7.3" font-weight="bold" text-anchor="middle" fill="#000" stroke="#000" stroke-width="0.15">0.5</text><text x="589.6" y="109.6" font-size="7.3" font-weight="bold" text-anchor="middle" fill="#000" stroke="#000" stroke-width="0.15">1</text><text x="619.7" y="109.6" font-size="7.3" font-weight="bold" text-anchor="middle" fill="#000" stroke="#000" stroke-width="0.15">2</text><polyline points="529,43.8 559.5,52 589.6,46.7 619.7,49.6" stroke="#f3b077" stroke-width="0.95" fill="none" stroke-linejoin="miter"/><line x1="529.5" y1="37.7" x2="529.5" y2="50" stroke="#f3b077" stroke-width="0.85" stroke-linecap="butt"/><line x1="527.1" y1="37.5" x2="530.9" y2="37.5" stroke="#f3b077" stroke-width="0.85" stroke-linecap="butt"/><line x1="527.1" y1="50.5" x2="530.9" y2="50.5" stroke="#f3b077" stroke-width="0.85" stroke-linecap="butt"/><circle cx="529" cy="43.8" r="1.75" fill="#f3b077"/><line x1="559.5" y1="48.8" x2="559.5" y2="55.5" stroke="#f3b077" stroke-width="0.85" stroke-linecap="butt"/><line x1="557.6" y1="48.5" x2="561.4" y2="48.5" stroke="#f3b077" stroke-width="0.85" stroke-linecap="butt"/><line x1="557.6" y1="55.5" x2="561.4" y2="55.5" stroke="#f3b077" stroke-width="0.85" stroke-linecap="butt"/><circle cx="559.5" cy="52" r="1.75" fill="#f3b077"/><line x1="589.5" y1="43.5" x2="589.5" y2="50" stroke="#f3b077" stroke-width="0.85" stroke-linecap="butt"/><line x1="587.7" y1="43.5" x2="591.5" y2="43.5" stroke="#f3b077" stroke-width="0.85" stroke-linecap="butt"/><line x1="587.7" y1="50.5" x2="591.5" y2="50.5" stroke="#f3b077" stroke-width="0.85" stroke-linecap="butt"/><circle cx="589.6" cy="46.7" r="1.75" fill="#f3b077"/><line x1="619.5" y1="47" x2="619.5" y2="52" stroke="#f3b077" stroke-width="0.85" stroke-linecap="butt"/><line x1="617.8" y1="47.5" x2="621.6" y2="47.5" stroke="#f3b077" stroke-width="0.85" stroke-linecap="butt"/><line x1="617.8" y1="52.5" x2="621.6" y2="52.5" stroke="#f3b077" stroke-width="0.85" stroke-linecap="butt"/><circle cx="619.7" cy="49.6" r="1.75" fill="#f3b077"/><polyline points="529,43.8 559.5,42.2 589.6,42.7 619.7,37.5" stroke="#9146ad" stroke-width="0.95" fill="none" stroke-linejoin="miter"/><line x1="529.5" y1="38.5" x2="529.5" y2="49.5" stroke="#9146ad" stroke-width="0.85" stroke-linecap="butt"/><line x1="527.1" y1="38.5" x2="530.9" y2="38.5" stroke="#9146ad" stroke-width="0.85" stroke-linecap="butt"/><line x1="527.1" y1="49.5" x2="530.9" y2="49.5" stroke="#9146ad" stroke-width="0.85" stroke-linecap="butt"/><circle cx="529" cy="43.8" r="1.75" fill="#9146ad"/><line x1="559.5" y1="38.5" x2="559.5" y2="45.9" stroke="#9146ad" stroke-width="0.85" stroke-linecap="butt"/><line x1="557.6" y1="38.5" x2="561.4" y2="38.5" stroke="#9146ad" stroke-width="0.85" stroke-linecap="butt"/><line x1="557.6" y1="45.5" x2="561.4" y2="45.5" stroke="#9146ad" stroke-width="0.85" stroke-linecap="butt"/><circle cx="559.5" cy="42.2" r="1.75" fill="#9146ad"/><line x1="589.5" y1="35.4" x2="589.5" y2="51.5" stroke="#9146ad" stroke-width="0.85" stroke-linecap="butt"/><line x1="587.7" y1="35.5" x2="591.5" y2="35.5" stroke="#9146ad" stroke-width="0.85" stroke-linecap="butt"/><line x1="587.7" y1="51.5" x2="591.5" y2="51.5" stroke="#9146ad" stroke-width="0.85" stroke-linecap="butt"/><circle cx="589.6" cy="42.7" r="1.75" fill="#9146ad"/><line x1="619.5" y1="32.5" x2="619.5" y2="42.3" stroke="#9146ad" stroke-width="0.85" stroke-linecap="butt"/><line x1="617.8" y1="32.5" x2="621.6" y2="32.5" stroke="#9146ad" stroke-width="0.85" stroke-linecap="butt"/><line x1="617.8" y1="42.5" x2="621.6" y2="42.5" stroke="#9146ad" stroke-width="0.85" stroke-linecap="butt"/><circle cx="619.7" cy="37.5" r="1.75" fill="#9146ad"/><polyline points="529,43.8 559.5,41.1 589.6,42.7 619.7,49.1" stroke="#1fae8b" stroke-width="0.95" fill="none" stroke-linejoin="miter"/><line x1="529.5" y1="38.2" x2="529.5" y2="49.9" stroke="#1fae8b" stroke-width="0.85" stroke-linecap="butt"/><line x1="527.1" y1="38.5" x2="530.9" y2="38.5" stroke="#1fae8b" stroke-width="0.85" stroke-linecap="butt"/><line x1="527.1" y1="49.5" x2="530.9" y2="49.5" stroke="#1fae8b" stroke-width="0.85" stroke-linecap="butt"/><circle cx="529" cy="43.8" r="1.75" fill="#1fae8b"/><line x1="559.5" y1="37.8" x2="559.5" y2="44.3" stroke="#1fae8b" stroke-width="0.85" stroke-linecap="butt"/><line x1="557.6" y1="37.5" x2="561.4" y2="37.5" stroke="#1fae8b" stroke-width="0.85" stroke-linecap="butt"/><line x1="557.6" y1="44.5" x2="561.4" y2="44.5" stroke="#1fae8b" stroke-width="0.85" stroke-linecap="butt"/><circle cx="559.5" cy="41.1" r="1.75" fill="#1fae8b"/><line x1="589.5" y1="37" x2="589.5" y2="47.5" stroke="#1fae8b" stroke-width="0.85" stroke-linecap="butt"/><line x1="587.7" y1="37.5" x2="591.5" y2="37.5" stroke="#1fae8b" stroke-width="0.85" stroke-linecap="butt"/><line x1="587.7" y1="47.5" x2="591.5" y2="47.5" stroke="#1fae8b" stroke-width="0.85" stroke-linecap="butt"/><circle cx="589.6" cy="42.7" r="1.75" fill="#1fae8b"/><line x1="619.5" y1="45.6" x2="619.5" y2="52.3" stroke="#1fae8b" stroke-width="0.85" stroke-linecap="butt"/><line x1="617.8" y1="45.5" x2="621.6" y2="45.5" stroke="#1fae8b" stroke-width="0.85" stroke-linecap="butt"/><line x1="617.8" y1="52.5" x2="621.6" y2="52.5" stroke="#1fae8b" stroke-width="0.85" stroke-linecap="butt"/><circle cx="619.7" cy="49.1" r="1.75" fill="#1fae8b"/><line x1="614.2" y1="68.5" x2="620.8" y2="68.5" stroke="#1fae8b" stroke-width="0.95" stroke-linecap="butt"/><circle cx="617.5" cy="68.8" r="1.6" fill="#1fae8b"/><text x="624.8" y="71.3" font-size="7" font-weight="normal" text-anchor="start" fill="#000">24h</text><line x1="614.2" y1="78.5" x2="620.8" y2="78.5" stroke="#f3b077" stroke-width="0.95" stroke-linecap="butt"/><circle cx="617.5" cy="78.8" r="1.6" fill="#f3b077"/><text x="624.8" y="81.3" font-size="7" font-weight="normal" text-anchor="start" fill="#000">48h</text><line x1="614.2" y1="88.5" x2="620.8" y2="88.5" stroke="#9146ad" stroke-width="0.95" stroke-linecap="butt"/><circle cx="617.5" cy="88.9" r="1.6" fill="#9146ad"/><text x="624.8" y="91.4" font-size="7" font-weight="normal" text-anchor="start" fill="#000">72h</text><text x="574" y="128.5" font-size="7.5" font-weight="bold" text-anchor="middle" fill="#000" stroke="#000" stroke-width="0.15">UNT</text><text x="489.7" y="171.9" font-size="8.35" font-weight="bold" text-anchor="middle" fill="#000" transform="rotate(-90 489.7 171.9)" stroke="#000" stroke-width="0.15">CellTiter Glo %</text><text x="484.2" y="218.4" font-size="6.85" font-weight="bold" text-anchor="start" fill="#000" stroke="#000" stroke-width="0.15">TAIII [µM]</text><text x="529" y="218.8" font-size="7.3" font-weight="bold" text-anchor="middle" fill="#000" stroke="#000" stroke-width="0.15">0</text><text x="559.5" y="218.8" font-size="7.3" font-weight="bold" text-anchor="middle" fill="#000" stroke="#000" stroke-width="0.15">0.5</text><text x="589.6" y="218.8" font-size="7.3" font-weight="bold" text-anchor="middle" fill="#000" stroke="#000" stroke-width="0.15">1</text><text x="619.7" y="218.8" font-size="7.3" font-weight="bold" text-anchor="middle" fill="#000" stroke="#000" stroke-width="0.15">2</text><polyline points="529,153.3 559.5,145.3 589.6,151.7 619.7,158.6" stroke="#f3b077" stroke-width="0.95" fill="none" stroke-linejoin="miter"/><line x1="529.5" y1="150.4" x2="529.5" y2="156.2" stroke="#f3b077" stroke-width="0.85" stroke-linecap="butt"/><line x1="527.1" y1="150.5" x2="530.9" y2="150.5" stroke="#f3b077" stroke-width="0.85" stroke-linecap="butt"/><line x1="527.1" y1="156.5" x2="530.9" y2="156.5" stroke="#f3b077" stroke-width="0.85" stroke-linecap="butt"/><circle cx="529" cy="153.3" r="1.75" fill="#f3b077"/><line x1="559.5" y1="141.6" x2="559.5" y2="149" stroke="#f3b077" stroke-width="0.85" stroke-linecap="butt"/><line x1="557.6" y1="141.5" x2="561.4" y2="141.5" stroke="#f3b077" stroke-width="0.85" stroke-linecap="butt"/><line x1="557.6" y1="149.5" x2="561.4" y2="149.5" stroke="#f3b077" stroke-width="0.85" stroke-linecap="butt"/><circle cx="559.5" cy="145.3" r="1.75" fill="#f3b077"/><line x1="589.5" y1="147.7" x2="589.5" y2="155.5" stroke="#f3b077" stroke-width="0.85" stroke-linecap="butt"/><line x1="587.7" y1="147.5" x2="591.5" y2="147.5" stroke="#f3b077" stroke-width="0.85" stroke-linecap="butt"/><line x1="587.7" y1="155.5" x2="591.5" y2="155.5" stroke="#f3b077" stroke-width="0.85" stroke-linecap="butt"/><circle cx="589.6" cy="151.7" r="1.75" fill="#f3b077"/><line x1="619.5" y1="156.5" x2="619.5" y2="160.5" stroke="#f3b077" stroke-width="0.85" stroke-linecap="butt"/><line x1="617.8" y1="156.5" x2="621.6" y2="156.5" stroke="#f3b077" stroke-width="0.85" stroke-linecap="butt"/><line x1="617.8" y1="160.5" x2="621.6" y2="160.5" stroke="#f3b077" stroke-width="0.85" stroke-linecap="butt"/><circle cx="619.7" cy="158.6" r="1.75" fill="#f3b077"/><polyline points="529,153.3 559.5,155.2 589.6,154.4 619.7,156.5" stroke="#9146ad" stroke-width="0.95" fill="none" stroke-linejoin="miter"/><circle cx="529" cy="153.3" r="1.75" fill="#9146ad"/><line x1="559.5" y1="153.8" x2="559.5" y2="156.6" stroke="#9146ad" stroke-width="0.85" stroke-linecap="butt"/><line x1="557.6" y1="153.5" x2="561.4" y2="153.5" stroke="#9146ad" stroke-width="0.85" stroke-linecap="butt"/><line x1="557.6" y1="156.5" x2="561.4" y2="156.5" stroke="#9146ad" stroke-width="0.85" stroke-linecap="butt"/><circle cx="559.5" cy="155.2" r="1.75" fill="#9146ad"/><line x1="589.5" y1="152.6" x2="589.5" y2="156.2" stroke="#9146ad" stroke-width="0.85" stroke-linecap="butt"/><line x1="587.7" y1="152.5" x2="591.5" y2="152.5" stroke="#9146ad" stroke-width="0.85" stroke-linecap="butt"/><line x1="587.7" y1="156.5" x2="591.5" y2="156.5" stroke="#9146ad" stroke-width="0.85" stroke-linecap="butt"/><circle cx="589.6" cy="154.4" r="1.75" fill="#9146ad"/><line x1="619.5" y1="155" x2="619.5" y2="158" stroke="#9146ad" stroke-width="0.85" stroke-linecap="butt"/><line x1="617.8" y1="155.5" x2="621.6" y2="155.5" stroke="#9146ad" stroke-width="0.85" stroke-linecap="butt"/><line x1="617.8" y1="158.5" x2="621.6" y2="158.5" stroke="#9146ad" stroke-width="0.85" stroke-linecap="butt"/><circle cx="619.7" cy="156.5" r="1.75" fill="#9146ad"/><polyline points="529,153.3 559.5,154.1 589.6,156.5 619.7,157.6" stroke="#1fae8b" stroke-width="0.95" fill="none" stroke-linejoin="miter"/><line x1="529.5" y1="151.5" x2="529.5" y2="155.1" stroke="#1fae8b" stroke-width="0.85" stroke-linecap="butt"/><line x1="527.1" y1="151.5" x2="530.9" y2="151.5" stroke="#1fae8b" stroke-width="0.85" stroke-linecap="butt"/><line x1="527.1" y1="155.5" x2="530.9" y2="155.5" stroke="#1fae8b" stroke-width="0.85" stroke-linecap="butt"/><circle cx="529" cy="153.3" r="1.75" fill="#1fae8b"/><line x1="559.5" y1="152.5" x2="559.5" y2="155.7" stroke="#1fae8b" stroke-width="0.85" stroke-linecap="butt"/><line x1="557.6" y1="152.5" x2="561.4" y2="152.5" stroke="#1fae8b" stroke-width="0.85" stroke-linecap="butt"/><line x1="557.6" y1="155.5" x2="561.4" y2="155.5" stroke="#1fae8b" stroke-width="0.85" stroke-linecap="butt"/><circle cx="559.5" cy="154.1" r="1.75" fill="#1fae8b"/><line x1="589.5" y1="152.5" x2="589.5" y2="161" stroke="#1fae8b" stroke-width="0.85" stroke-linecap="butt"/><line x1="587.7" y1="152.5" x2="591.5" y2="152.5" stroke="#1fae8b" stroke-width="0.85" stroke-linecap="butt"/><line x1="587.7" y1="161.5" x2="591.5" y2="161.5" stroke="#1fae8b" stroke-width="0.85" stroke-linecap="butt"/><circle cx="589.6" cy="156.5" r="1.75" fill="#1fae8b"/><line x1="619.5" y1="155.8" x2="619.5" y2="159.4" stroke="#1fae8b" stroke-width="0.85" stroke-linecap="butt"/><line x1="617.8" y1="155.5" x2="621.6" y2="155.5" stroke="#1fae8b" stroke-width="0.85" stroke-linecap="butt"/><line x1="617.8" y1="159.5" x2="621.6" y2="159.5" stroke="#1fae8b" stroke-width="0.85" stroke-linecap="butt"/><circle cx="619.7" cy="157.6" r="1.75" fill="#1fae8b"/><line x1="614.2" y1="177.5" x2="620.8" y2="177.5" stroke="#1fae8b" stroke-width="0.95" stroke-linecap="butt"/><circle cx="617.5" cy="177.9" r="1.6" fill="#1fae8b"/><text x="624.8" y="180.4" font-size="7" font-weight="normal" text-anchor="start" fill="#000">24h</text><line x1="614.2" y1="187.5" x2="620.8" y2="187.5" stroke="#f3b077" stroke-width="0.95" stroke-linecap="butt"/><circle cx="617.5" cy="187.9" r="1.6" fill="#f3b077"/><text x="624.8" y="190.4" font-size="7" font-weight="normal" text-anchor="start" fill="#000">48h</text><line x1="614.2" y1="198.5" x2="620.8" y2="198.5" stroke="#9146ad" stroke-width="0.95" stroke-linecap="butt"/><circle cx="617.5" cy="198" r="1.6" fill="#9146ad"/><text x="624.8" y="200.5" font-size="7" font-weight="normal" text-anchor="start" fill="#000">72h</text><text x="473.6" y="248.7" font-size="12.1" font-weight="bold" text-anchor="start" fill="#000" stroke="#000" stroke-width="0.15">c</text><text x="588.4" y="251.9" font-size="7.5" font-weight="bold" text-anchor="middle" fill="#000" stroke="#000" stroke-width="0.15">CAR-T</text><text x="492.6" y="309.25" font-size="7.9" font-weight="bold" text-anchor="middle" fill="#000" transform="rotate(-90 492.6 309.25)" stroke="#000" stroke-width="0.15">Apoptotic rate %</text><text x="480.3" y="352.5" font-size="6.85" font-weight="bold" text-anchor="start" fill="#000" stroke="#000" stroke-width="0.15">TAIII [µM]</text><text x="520" y="352.6" font-size="7" font-weight="bold" text-anchor="middle" fill="#000" stroke="#000" stroke-width="0.15">0</text><text x="537.9" y="352.6" font-size="7" font-weight="bold" text-anchor="middle" fill="#000" stroke="#000" stroke-width="0.15">0.5</text><text x="555.8" y="352.6" font-size="7" font-weight="bold" text-anchor="middle" fill="#000" stroke="#000" stroke-width="0.15">1</text><text x="573.7" y="352.6" font-size="7" font-weight="bold" text-anchor="middle" fill="#000" stroke="#000" stroke-width="0.15">2</text><text x="603.3" y="352.6" font-size="7" font-weight="bold" text-anchor="middle" fill="#000" stroke="#000" stroke-width="0.15">0</text><text x="621.2" y="352.6" font-size="7" font-weight="bold" text-anchor="middle" fill="#000" stroke="#000" stroke-width="0.15">0.5</text><text x="639.1" y="352.6" font-size="7" font-weight="bold" text-anchor="middle" fill="#000" stroke="#000" stroke-width="0.15">1</text><text x="657" y="352.6" font-size="7" font-weight="bold" text-anchor="middle" fill="#000" stroke="#000" stroke-width="0.15">2</text><line x1="518" y1="356.5" x2="575.9" y2="356.5" stroke="#1a1a1a" stroke-width="1.1" stroke-linecap="butt"/><line x1="600.5" y1="356.5" x2="661.5" y2="356.5" stroke="#1a1a1a" stroke-width="1.1" stroke-linecap="butt"/><text x="546.9" y="365.8" font-size="7" font-weight="bold" text-anchor="middle" fill="#000" stroke="#000" stroke-width="0.15">24h</text><text x="632.3" y="365.8" font-size="7" font-weight="bold" text-anchor="middle" fill="#000" stroke="#000" stroke-width="0.15">72h</text><line x1="520.2" y1="255.5" x2="573.7" y2="255.5" stroke="#2a2a2a" stroke-width="1.1" stroke-linecap="butt"/><text x="547" y="252.2" font-size="6.3" font-weight="normal" text-anchor="middle" fill="#000">0.1887</text><line x1="520.2" y1="266" x2="555.8" y2="266" stroke="#8c8c8c" stroke-width="1.5" stroke-linecap="butt"/><text x="537.8" y="262.8" font-size="6.3" font-weight="normal" text-anchor="middle" fill="#000">0.9941</text><line x1="520.2" y1="276.8" x2="538" y2="276.8" stroke="#8c8c8c" stroke-width="1.5" stroke-linecap="butt"/><text x="528.8" y="273.6" font-size="6.3" font-weight="normal" text-anchor="middle" fill="#000">0.9295</text><line x1="603.2" y1="258.8" x2="656.7" y2="258.8" stroke="#8c8c8c" stroke-width="1.5" stroke-linecap="butt"/><text x="630.3" y="255.6" font-size="6.3" font-weight="normal" text-anchor="middle" fill="#000">0.9777</text><line x1="603.2" y1="271" x2="639" y2="271" stroke="#8c8c8c" stroke-width="1.5" stroke-linecap="butt"/><text x="621" y="267.8" font-size="6.3" font-weight="normal" text-anchor="middle" fill="#000">0.4963</text><line x1="603.2" y1="282.5" x2="621.1" y2="282.5" stroke="#2a2a2a" stroke-width="1.1" stroke-linecap="butt"/><text x="612.4" y="279.4" font-size="6.3" font-weight="normal" text-anchor="middle" fill="#000">0.6493</text><rect x="515.02" y="308.4" width="9.95" height="32.5" stroke="none" fill="#e6e6e6" stroke-width="0"/><path d="M515.02 340.9V308.4H524.98V340.9" fill="none" stroke="#6a6a6a" stroke-width="1.35" stroke-linejoin="miter"/><rect x="532.92" y="311.98" width="9.95" height="28.92" stroke="none" fill="#e0f8f1" stroke-width="0"/><path d="M532.92 340.9V311.98H542.88V340.9" fill="none" stroke="#1fae8b" stroke-width="1.35" stroke-linejoin="miter"/><rect x="550.82" y="308.87" width="9.95" height="32.03" stroke="none" fill="#fdeee1" stroke-width="0"/><path d="M550.82 340.9V308.87H560.77V340.9" fill="none" stroke="#f3b077" stroke-width="1.35" stroke-linejoin="miter"/><rect x="568.73" y="321.33" width="9.95" height="19.57" stroke="none" fill="#f6edfb" stroke-width="0"/><path d="M568.73 340.9V321.33H578.68V340.9" fill="none" stroke="#9146ad" stroke-width="1.35" stroke-linejoin="miter"/><line x1="520.5" y1="284.83" x2="520.5" y2="330.46" stroke="#ababab" stroke-width="1.3" stroke-linecap="butt"/><line x1="517.8" y1="284.5" x2="522.2" y2="284.5" stroke="#ababab" stroke-width="1.3" stroke-linecap="butt"/><line x1="517.8" y1="330.5" x2="522.2" y2="330.5" stroke="#ababab" stroke-width="1.3" stroke-linecap="butt"/><circle cx="519.8" cy="281.72" r="1.7" fill="#6a6a6a"/><circle cx="516.2" cy="322.21" r="1.7" fill="#6a6a6a"/><circle cx="524.2" cy="319.87" r="1.7" fill="#6a6a6a"/><line x1="537.5" y1="304.3" x2="537.5" y2="317.54" stroke="#1fae8b" stroke-width="0.9" stroke-linecap="butt"/><line x1="535.7" y1="304.5" x2="540.1" y2="304.5" stroke="#1fae8b" stroke-width="0.9" stroke-linecap="butt"/><line x1="535.7" y1="317.5" x2="540.1" y2="317.5" stroke="#1fae8b" stroke-width="0.9" stroke-linecap="butt"/><polygon points="537.9,302.1 540.1,306.06 535.7,306.06" fill="#1fae8b"/><polygon points="537.9,309.89 540.1,313.85 535.7,313.85" fill="#1fae8b"/><polygon points="537.9,314.56 540.1,318.52 535.7,318.52" fill="#1fae8b"/><line x1="555.5" y1="306.63" x2="555.5" y2="310.53" stroke="#f3b077" stroke-width="0.9" stroke-linecap="butt"/><line x1="553.6" y1="306.5" x2="558" y2="306.5" stroke="#f3b077" stroke-width="0.9" stroke-linecap="butt"/><line x1="553.6" y1="310.5" x2="558" y2="310.5" stroke="#f3b077" stroke-width="0.9" stroke-linecap="butt"/><polygon points="553.3,309.98 555.4,306.2 551.2,306.2" fill="#f3b077"/><polygon points="558.3,309.98 560.4,306.2 556.2,306.2" fill="#f3b077"/><polygon points="555.8,312.63 557.9,308.85 553.7,308.85" fill="#f3b077"/><line x1="573.5" y1="319.87" x2="573.5" y2="322.21" stroke="#9146ad" stroke-width="0.9" stroke-linecap="butt"/><line x1="571.5" y1="319.5" x2="575.9" y2="319.5" stroke="#9146ad" stroke-width="0.9" stroke-linecap="butt"/><line x1="571.5" y1="322.5" x2="575.9" y2="322.5" stroke="#9146ad" stroke-width="0.9" stroke-linecap="butt"/><circle cx="570.7" cy="319.87" r="1.7" fill="#9146ad"/><circle cx="573.7" cy="321.9" r="1.7" fill="#9146ad"/><circle cx="576.7" cy="320.34" r="1.7" fill="#9146ad"/><rect x="598.32" y="304.19" width="9.95" height="36.7" stroke="none" fill="#e6e6e6" stroke-width="0"/><path d="M598.32 340.9V304.19H608.27V340.9" fill="none" stroke="#6a6a6a" stroke-width="1.35" stroke-linejoin="miter"/><rect x="616.23" y="310.89" width="9.95" height="30.01" stroke="none" fill="#e0f8f1" stroke-width="0"/><path d="M616.23 340.9V310.89H626.18V340.9" fill="none" stroke="#1fae8b" stroke-width="1.35" stroke-linejoin="miter"/><rect x="634.12" y="313.07" width="9.95" height="27.83" stroke="none" fill="#fdeee1" stroke-width="0"/><path d="M634.12 340.9V313.07H644.08V340.9" fill="none" stroke="#f3b077" stroke-width="1.35" stroke-linejoin="miter"/><rect x="652.02" y="301.08" width="9.95" height="39.82" stroke="none" fill="#f6edfb" stroke-width="0"/><path d="M652.02 340.9V301.08H661.98V340.9" fill="none" stroke="#9146ad" stroke-width="1.35" stroke-linejoin="miter"/><line x1="603.5" y1="300.41" x2="603.5" y2="305.08" stroke="#ababab" stroke-width="1.3" stroke-linecap="butt"/><line x1="601.1" y1="300.5" x2="605.5" y2="300.5" stroke="#ababab" stroke-width="1.3" stroke-linecap="butt"/><line x1="601.1" y1="305.5" x2="605.5" y2="305.5" stroke="#ababab" stroke-width="1.3" stroke-linecap="butt"/><circle cx="603.3" cy="300.72" r="1.7" fill="#6a6a6a"/><circle cx="600" cy="303.83" r="1.7" fill="#6a6a6a"/><circle cx="606.6" cy="303.83" r="1.7" fill="#6a6a6a"/><line x1="621.5" y1="302.74" x2="621.5" y2="317.54" stroke="#1fae8b" stroke-width="0.9" stroke-linecap="butt"/><line x1="619" y1="302.5" x2="623.4" y2="302.5" stroke="#1fae8b" stroke-width="0.9" stroke-linecap="butt"/><line x1="619" y1="317.5" x2="623.4" y2="317.5" stroke="#1fae8b" stroke-width="0.9" stroke-linecap="butt"/><polygon points="621.2,304.94 623.4,300.98 619,300.98" fill="#1fae8b"/><polygon points="621.2,311.95 623.4,307.99 619,307.99" fill="#1fae8b"/><polygon points="621.2,320.52 623.4,316.56 619,316.56" fill="#1fae8b"/><line x1="639.5" y1="305.08" x2="639.5" y2="319.09" stroke="#f3b077" stroke-width="0.9" stroke-linecap="butt"/><line x1="636.9" y1="305.5" x2="641.3" y2="305.5" stroke="#f3b077" stroke-width="0.9" stroke-linecap="butt"/><line x1="636.9" y1="319.5" x2="641.3" y2="319.5" stroke="#f3b077" stroke-width="0.9" stroke-linecap="butt"/><polygon points="639.1,307.18 641.2,303.4 637,303.4" fill="#f3b077"/><polygon points="639.1,314.19 641.2,310.41 637,310.41" fill="#f3b077"/><polygon points="639.1,321.19 641.2,317.41 637,317.41" fill="#f3b077"/><line x1="657.5" y1="297.29" x2="657.5" y2="303.52" stroke="#9146ad" stroke-width="0.9" stroke-linecap="butt"/><line x1="654.8" y1="297.5" x2="659.2" y2="297.5" stroke="#9146ad" stroke-width="0.9" stroke-linecap="butt"/><line x1="654.8" y1="303.5" x2="659.2" y2="303.5" stroke="#9146ad" stroke-width="0.9" stroke-linecap="butt"/><circle cx="653.5" cy="298.07" r="1.7" fill="#9146ad"/><circle cx="660.5" cy="300.41" r="1.7" fill="#9146ad"/><circle cx="653.5" cy="302.74" r="1.7" fill="#9146ad"/><text x="588.4" y="378.8" font-size="7.5" font-weight="bold" text-anchor="middle" fill="#000" stroke="#000" stroke-width="0.15">UNT</text><text x="489" y="438.3" font-size="7.9" font-weight="bold" text-anchor="middle" fill="#000" transform="rotate(-90 489 438.3)" stroke="#000" stroke-width="0.15">Apoptotic rate %</text><text x="480.3" y="481.7" font-size="6.85" font-weight="bold" text-anchor="start" fill="#000" stroke="#000" stroke-width="0.15">TAIII [µM]</text><text x="520" y="481.8" font-size="7" font-weight="bold" text-anchor="middle" fill="#000" stroke="#000" stroke-width="0.15">0</text><text x="537.9" y="481.8" font-size="7" font-weight="bold" text-anchor="middle" fill="#000" stroke="#000" stroke-width="0.15">0.5</text><text x="555.8" y="481.8" font-size="7" font-weight="bold" text-anchor="middle" fill="#000" stroke="#000" stroke-width="0.15">1</text><text x="573.7" y="481.8" font-size="7" font-weight="bold" text-anchor="middle" fill="#000" stroke="#000" stroke-width="0.15">2</text><text x="603.3" y="481.8" font-size="7" font-weight="bold" text-anchor="middle" fill="#000" stroke="#000" stroke-width="0.15">0</text><text x="621.2" y="481.8" font-size="7" font-weight="bold" text-anchor="middle" fill="#000" stroke="#000" stroke-width="0.15">0.5</text><text x="639.1" y="481.8" font-size="7" font-weight="bold" text-anchor="middle" fill="#000" stroke="#000" stroke-width="0.15">1</text><text x="657" y="481.8" font-size="7" font-weight="bold" text-anchor="middle" fill="#000" stroke="#000" stroke-width="0.15">2</text><line x1="518" y1="485.5" x2="575.9" y2="485.5" stroke="#1a1a1a" stroke-width="1.1" stroke-linecap="butt"/><line x1="600.5" y1="485.5" x2="661.5" y2="485.5" stroke="#1a1a1a" stroke-width="1.1" stroke-linecap="butt"/><text x="546.9" y="495" font-size="7" font-weight="bold" text-anchor="middle" fill="#000" stroke="#000" stroke-width="0.15">24h</text><text x="632.3" y="495" font-size="7" font-weight="bold" text-anchor="middle" fill="#000" stroke="#000" stroke-width="0.15">72h</text><line x1="520.2" y1="385.5" x2="573.7" y2="385.5" stroke="#444" stroke-width="1.1" stroke-linecap="butt"/><text x="547" y="381.8" font-size="6.3" font-weight="normal" text-anchor="middle" fill="#000">0.3545</text><line x1="520.2" y1="396.5" x2="555.8" y2="396.5" stroke="#444" stroke-width="1.1" stroke-linecap="butt"/><text x="537.8" y="393.6" font-size="6.3" font-weight="normal" text-anchor="middle" fill="#000">0.9258</text><line x1="520.2" y1="409.5" x2="538" y2="409.5" stroke="#444" stroke-width="1.1" stroke-linecap="butt"/><text x="528.8" y="406.1" font-size="6.3" font-weight="normal" text-anchor="middle" fill="#000">&gt;0.9999</text><line x1="603.2" y1="385.5" x2="656.7" y2="385.5" stroke="#444" stroke-width="1.1" stroke-linecap="butt"/><text x="630.3" y="382.3" font-size="6.3" font-weight="normal" text-anchor="middle" fill="#000">0.9802</text><line x1="603.2" y1="397.5" x2="639" y2="397.5" stroke="#444" stroke-width="1.1" stroke-linecap="butt"/><text x="621" y="394.5" font-size="6.3" font-weight="normal" text-anchor="middle" fill="#000">0.9984</text><line x1="603.2" y1="408.5" x2="621.1" y2="408.5" stroke="#444" stroke-width="1.1" stroke-linecap="butt"/><text x="612.4" y="405.1" font-size="6.3" font-weight="normal" text-anchor="middle" fill="#000">0.9396</text><rect x="515.02" y="438.85" width="9.95" height="31.15" stroke="none" fill="#e6e6e6" stroke-width="0"/><path d="M515.02 470V438.85H524.98V470" fill="none" stroke="#6a6a6a" stroke-width="1.35" stroke-linejoin="miter"/><rect x="532.92" y="438.23" width="9.95" height="31.77" stroke="none" fill="#e0f8f1" stroke-width="0"/><path d="M532.92 470V438.23H542.88V470" fill="none" stroke="#1fae8b" stroke-width="1.35" stroke-linejoin="miter"/><rect x="550.82" y="434.48" width="9.95" height="35.52" stroke="none" fill="#fdeee1" stroke-width="0"/><path d="M550.82 470V434.48H560.77V470" fill="none" stroke="#f3b077" stroke-width="1.35" stroke-linejoin="miter"/><rect x="568.73" y="427.62" width="9.95" height="42.38" stroke="none" fill="#f6edfb" stroke-width="0"/><path d="M568.73 470V427.62H578.68V470" fill="none" stroke="#9146ad" stroke-width="1.35" stroke-linejoin="miter"/><line x1="520.5" y1="421.33" x2="520.5" y2="454.4" stroke="#ababab" stroke-width="1.3" stroke-linecap="butt"/><line x1="517.8" y1="421.5" x2="522.2" y2="421.5" stroke="#ababab" stroke-width="1.3" stroke-linecap="butt"/><line x1="517.8" y1="454.5" x2="522.2" y2="454.5" stroke="#ababab" stroke-width="1.3" stroke-linecap="butt"/><circle cx="515.4" cy="428.5" r="1.7" fill="#6a6a6a"/><circle cx="524.6" cy="428.5" r="1.7" fill="#6a6a6a"/><circle cx="520" cy="456.27" r="1.7" fill="#6a6a6a"/><line x1="537.5" y1="430.38" x2="537.5" y2="444.73" stroke="#1fae8b" stroke-width="0.9" stroke-linecap="butt"/><line x1="535.7" y1="430.5" x2="540.1" y2="430.5" stroke="#1fae8b" stroke-width="0.9" stroke-linecap="butt"/><line x1="535.7" y1="444.5" x2="540.1" y2="444.5" stroke="#1fae8b" stroke-width="0.9" stroke-linecap="butt"/><circle cx="533.9" cy="432.56" r="1.7" fill="#1fae8b"/><circle cx="541.9" cy="432.87" r="1.7" fill="#1fae8b"/><circle cx="537.9" cy="445.66" r="1.7" fill="#1fae8b"/><line x1="555.5" y1="426.32" x2="555.5" y2="441.3" stroke="#f3b077" stroke-width="0.9" stroke-linecap="butt"/><line x1="553.6" y1="426.5" x2="558" y2="426.5" stroke="#f3b077" stroke-width="0.9" stroke-linecap="butt"/><line x1="553.6" y1="441.5" x2="558" y2="441.5" stroke="#f3b077" stroke-width="0.9" stroke-linecap="butt"/><circle cx="555.8" cy="426.32" r="1.7" fill="#f3b077"/><circle cx="555.8" cy="433.81" r="1.7" fill="#f3b077"/><circle cx="555.8" cy="441.3" r="1.7" fill="#f3b077"/><line x1="573.5" y1="417.58" x2="573.5" y2="435.68" stroke="#9146ad" stroke-width="0.9" stroke-linecap="butt"/><line x1="571.5" y1="417.5" x2="575.9" y2="417.5" stroke="#9146ad" stroke-width="0.9" stroke-linecap="butt"/><line x1="571.5" y1="435.5" x2="575.9" y2="435.5" stroke="#9146ad" stroke-width="0.9" stroke-linecap="butt"/><circle cx="573.7" cy="417.9" r="1.7" fill="#9146ad"/><circle cx="573.7" cy="427.57" r="1.7" fill="#9146ad"/><circle cx="573.7" cy="435.06" r="1.7" fill="#9146ad"/><rect x="598.32" y="430.12" width="9.95" height="39.88" stroke="none" fill="#e6e6e6" stroke-width="0"/><path d="M598.32 470V430.12H608.27V470" fill="none" stroke="#6a6a6a" stroke-width="1.35" stroke-linejoin="miter"/><rect x="616.23" y="426.37" width="9.95" height="43.63" stroke="none" fill="#e0f8f1" stroke-width="0"/><path d="M616.23 470V426.37H626.18V470" fill="none" stroke="#1fae8b" stroke-width="1.35" stroke-linejoin="miter"/><rect x="634.12" y="429.49" width="9.95" height="40.51" stroke="none" fill="#fdeee1" stroke-width="0"/><path d="M634.12 470V429.49H644.08V470" fill="none" stroke="#f3b077" stroke-width="1.35" stroke-linejoin="miter"/><rect x="652.02" y="427.93" width="9.95" height="42.07" stroke="none" fill="#f6edfb" stroke-width="0"/><path d="M652.02 470V427.93H661.98V470" fill="none" stroke="#9146ad" stroke-width="1.35" stroke-linejoin="miter"/><line x1="603.5" y1="424.45" x2="603.5" y2="433.18" stroke="#ababab" stroke-width="1.3" stroke-linecap="butt"/><line x1="601.1" y1="424.5" x2="605.5" y2="424.5" stroke="#ababab" stroke-width="1.3" stroke-linecap="butt"/><line x1="601.1" y1="433.5" x2="605.5" y2="433.5" stroke="#ababab" stroke-width="1.3" stroke-linecap="butt"/><circle cx="603.3" cy="425.07" r="1.7" fill="#6a6a6a"/><circle cx="599.7" cy="429.44" r="1.7" fill="#6a6a6a"/><circle cx="606.9" cy="429.44" r="1.7" fill="#6a6a6a"/><line x1="621.5" y1="413.22" x2="621.5" y2="438.18" stroke="#1fae8b" stroke-width="0.9" stroke-linecap="butt"/><line x1="619" y1="413.5" x2="623.4" y2="413.5" stroke="#1fae8b" stroke-width="0.9" stroke-linecap="butt"/><line x1="619" y1="438.5" x2="623.4" y2="438.5" stroke="#1fae8b" stroke-width="0.9" stroke-linecap="butt"/><circle cx="621.2" cy="413.84" r="1.7" fill="#1fae8b"/><circle cx="621.2" cy="424.45" r="1.7" fill="#1fae8b"/><circle cx="621.2" cy="438.8" r="1.7" fill="#1fae8b"/><line x1="639.5" y1="427.57" x2="639.5" y2="430.06" stroke="#f3b077" stroke-width="0.9" stroke-linecap="butt"/><line x1="636.9" y1="427.5" x2="641.3" y2="427.5" stroke="#f3b077" stroke-width="0.9" stroke-linecap="butt"/><line x1="636.9" y1="430.5" x2="641.3" y2="430.5" stroke="#f3b077" stroke-width="0.9" stroke-linecap="butt"/><circle cx="636.1" cy="428.82" r="1.7" fill="#f3b077"/><circle cx="639.1" cy="429.44" r="1.7" fill="#f3b077"/><circle cx="642.1" cy="428.82" r="1.7" fill="#f3b077"/><line x1="657.5" y1="421.95" x2="657.5" y2="430.69" stroke="#9146ad" stroke-width="0.9" stroke-linecap="butt"/><line x1="654.8" y1="421.5" x2="659.2" y2="421.5" stroke="#9146ad" stroke-width="0.9" stroke-linecap="butt"/><line x1="654.8" y1="430.5" x2="659.2" y2="430.5" stroke="#9146ad" stroke-width="0.9" stroke-linecap="butt"/><circle cx="657" cy="422.26" r="1.7" fill="#9146ad"/><circle cx="653.5" cy="429.44" r="1.7" fill="#9146ad"/><circle cx="660.5" cy="426.94" r="1.7" fill="#9146ad"/><text x="-0.6" y="156.8" font-size="12.1" font-weight="bold" text-anchor="start" fill="#000" stroke="#000" stroke-width="0.15">d</text><line x1="45.5" y1="186.9" x2="45.5" y2="273.5" stroke="#1a1a1a" stroke-width="1.25" stroke-linecap="butt"/><line x1="43.2" y1="272.5" x2="45.8" y2="272.5" stroke="#1a1a1a" stroke-width="0.9" stroke-linecap="butt"/><text x="42.4" y="275.6" font-size="7.1" font-weight="bold" text-anchor="end" fill="#000" stroke="#000" stroke-width="0.15">0</text><line x1="43.2" y1="255.5" x2="45.8" y2="255.5" stroke="#1a1a1a" stroke-width="0.9" stroke-linecap="butt"/><text x="42.4" y="258.5" font-size="7.1" font-weight="bold" text-anchor="end" fill="#000" stroke="#000" stroke-width="0.15">2×10<tspan dy="-2.6" font-size="4.8">5</tspan></text><line x1="43.2" y1="238.5" x2="45.8" y2="238.5" stroke="#1a1a1a" stroke-width="0.9" stroke-linecap="butt"/><text x="42.4" y="241.4" font-size="7.1" font-weight="bold" text-anchor="end" fill="#000" stroke="#000" stroke-width="0.15">4×10<tspan dy="-2.6" font-size="4.8">5</tspan></text><line x1="43.2" y1="221.5" x2="45.8" y2="221.5" stroke="#1a1a1a" stroke-width="0.9" stroke-linecap="butt"/><text x="42.4" y="224.3" font-size="7.1" font-weight="bold" text-anchor="end" fill="#000" stroke="#000" stroke-width="0.15">6×10<tspan dy="-2.6" font-size="4.8">5</tspan></text><line x1="43.2" y1="204.5" x2="45.8" y2="204.5" stroke="#1a1a1a" stroke-width="0.9" stroke-linecap="butt"/><text x="42.4" y="207.2" font-size="7.1" font-weight="bold" text-anchor="end" fill="#000" stroke="#000" stroke-width="0.15">8×10<tspan dy="-2.6" font-size="4.8">5</tspan></text><line x1="43.2" y1="187.5" x2="45.8" y2="187.5" stroke="#1a1a1a" stroke-width="0.9" stroke-linecap="butt"/><text x="42.4" y="190.1" font-size="7.1" font-weight="bold" text-anchor="end" fill="#000" stroke="#000" stroke-width="0.15">1×10<tspan dy="-2.6" font-size="4.8">6</tspan></text><rect x="55.27" y="215.53" width="3.45" height="57.37" stroke="none" fill="#e3e3e3" stroke-width="0"/><path d="M55.27 272.9V215.53H58.73V272.9" fill="none" stroke="#6b6b6b" stroke-width="1.45" stroke-linejoin="miter"/><rect x="62.48" y="215.92" width="3.45" height="56.97" stroke="none" fill="#fbe7d3" stroke-width="0"/><path d="M62.48 272.9V215.92H65.93V272.9" fill="none" stroke="#f3b077" stroke-width="1.45" stroke-linejoin="miter"/><circle cx="57" cy="213.5" r="1.45" fill="#5a5a5a"/><circle cx="56.4" cy="215.2" r="1.45" fill="#5a5a5a"/><circle cx="57.6" cy="216.6" r="1.45" fill="#5a5a5a"/><circle cx="64.2" cy="213.2" r="1.45" fill="#f1a866"/><circle cx="64.2" cy="215.3" r="1.45" fill="#f1a866"/><circle cx="64.2" cy="217" r="1.45" fill="#f1a866"/><rect x="77.66" y="211.72" width="3.45" height="61.17" stroke="none" fill="#e3e3e3" stroke-width="0"/><path d="M77.66 272.9V211.72H81.11V272.9" fill="none" stroke="#6b6b6b" stroke-width="1.45" stroke-linejoin="miter"/><rect x="84.85" y="215.92" width="3.45" height="56.97" stroke="none" fill="#fbe7d3" stroke-width="0"/><path d="M84.85 272.9V215.92H88.31V272.9" fill="none" stroke="#f3b077" stroke-width="1.45" stroke-linejoin="miter"/><line x1="86.5" y1="212" x2="86.5" y2="218.5" stroke="#f3b077" stroke-width="0.8" stroke-linecap="butt"/><line x1="84.98" y1="212.5" x2="88.18" y2="212.5" stroke="#f3b077" stroke-width="0.8" stroke-linecap="butt"/><line x1="84.98" y1="218.5" x2="88.18" y2="218.5" stroke="#f3b077" stroke-width="0.8" stroke-linecap="butt"/><circle cx="79.38" cy="207.6" r="1.45" fill="#5a5a5a"/><circle cx="78.78" cy="209.6" r="1.45" fill="#5a5a5a"/><circle cx="79.88" cy="211.5" r="1.45" fill="#5a5a5a"/><circle cx="86.58" cy="211.8" r="1.45" fill="#f1a866"/><rect x="100.03" y="212.42" width="3.45" height="60.47" stroke="none" fill="#e3e3e3" stroke-width="0"/><path d="M100.03 272.9V212.42H103.49V272.9" fill="none" stroke="#6b6b6b" stroke-width="1.45" stroke-linejoin="miter"/><rect x="107.23" y="226.82" width="3.45" height="46.07" stroke="none" fill="#fbe7d3" stroke-width="0"/><path d="M107.23 272.9V226.82H110.69V272.9" fill="none" stroke="#f3b077" stroke-width="1.45" stroke-linejoin="miter"/><circle cx="101.76" cy="209.3" r="1.45" fill="#5a5a5a"/><circle cx="101.16" cy="210.8" r="1.45" fill="#5a5a5a"/><circle cx="102.26" cy="212" r="1.45" fill="#5a5a5a"/><circle cx="108.96" cy="223.6" r="1.45" fill="#f1a866"/><circle cx="109.36" cy="225.5" r="1.45" fill="#f1a866"/><circle cx="108.96" cy="227.2" r="1.45" fill="#f1a866"/><rect x="122.42" y="212.42" width="3.45" height="60.47" stroke="none" fill="#e3e3e3" stroke-width="0"/><path d="M122.42 272.9V212.42H125.87V272.9" fill="none" stroke="#6b6b6b" stroke-width="1.45" stroke-linejoin="miter"/><rect x="129.62" y="235.22" width="3.45" height="37.67" stroke="none" fill="#fbe7d3" stroke-width="0"/><path d="M129.62 272.9V235.22H133.06V272.9" fill="none" stroke="#f3b077" stroke-width="1.45" stroke-linejoin="miter"/><line x1="124.5" y1="206.4" x2="124.5" y2="213" stroke="#6b6b6b" stroke-width="0.8" stroke-linecap="butt"/><line x1="122.54" y1="206.5" x2="125.74" y2="206.5" stroke="#6b6b6b" stroke-width="0.8" stroke-linecap="butt"/><line x1="122.54" y1="213.5" x2="125.74" y2="213.5" stroke="#6b6b6b" stroke-width="0.8" stroke-linecap="butt"/><line x1="131.5" y1="227" x2="131.5" y2="242.5" stroke="#f3b077" stroke-width="0.8" stroke-linecap="butt"/><line x1="129.74" y1="227.5" x2="132.94" y2="227.5" stroke="#f3b077" stroke-width="0.8" stroke-linecap="butt"/><line x1="129.74" y1="242.5" x2="132.94" y2="242.5" stroke="#f3b077" stroke-width="0.8" stroke-linecap="butt"/><circle cx="124.14" cy="206.4" r="1.45" fill="#5a5a5a"/><circle cx="124.14" cy="211" r="1.45" fill="#5a5a5a"/><circle cx="124.14" cy="212.5" r="1.45" fill="#5a5a5a"/><circle cx="131.34" cy="227.8" r="1.45" fill="#f1a866"/><circle cx="131.34" cy="230.2" r="1.45" fill="#f1a866"/><circle cx="131.34" cy="242" r="1.45" fill="#f1a866"/><rect x="144.8" y="224.72" width="3.45" height="48.17" stroke="none" fill="#e3e3e3" stroke-width="0"/><path d="M144.8 272.9V224.72H148.25V272.9" fill="none" stroke="#6b6b6b" stroke-width="1.45" stroke-linejoin="miter"/><rect x="152" y="238.72" width="3.45" height="34.17" stroke="none" fill="#fbe7d3" stroke-width="0"/><path d="M152 272.9V238.72H155.44V272.9" fill="none" stroke="#f3b077" stroke-width="1.45" stroke-linejoin="miter"/><line x1="146.5" y1="220.5" x2="146.5" y2="229" stroke="#6b6b6b" stroke-width="0.8" stroke-linecap="butt"/><line x1="144.92" y1="220.5" x2="148.12" y2="220.5" stroke="#6b6b6b" stroke-width="0.8" stroke-linecap="butt"/><line x1="144.92" y1="229.5" x2="148.12" y2="229.5" stroke="#6b6b6b" stroke-width="0.8" stroke-linecap="butt"/><line x1="153.5" y1="232.5" x2="153.5" y2="244" stroke="#f3b077" stroke-width="0.8" stroke-linecap="butt"/><line x1="152.12" y1="232.5" x2="155.32" y2="232.5" stroke="#f3b077" stroke-width="0.8" stroke-linecap="butt"/><line x1="152.12" y1="244.5" x2="155.32" y2="244.5" stroke="#f3b077" stroke-width="0.8" stroke-linecap="butt"/><circle cx="146.52" cy="220.5" r="1.45" fill="#5a5a5a"/><circle cx="146.52" cy="225" r="1.45" fill="#5a5a5a"/><circle cx="146.52" cy="229" r="1.45" fill="#5a5a5a"/><circle cx="153.72" cy="232.6" r="1.45" fill="#f1a866"/><circle cx="153.72" cy="234.6" r="1.45" fill="#f1a866"/><circle cx="153.72" cy="245" r="1.45" fill="#f1a866"/><rect x="167.18" y="231.42" width="3.45" height="41.47" stroke="none" fill="#e3e3e3" stroke-width="0"/><path d="M167.18 272.9V231.42H170.62V272.9" fill="none" stroke="#6b6b6b" stroke-width="1.45" stroke-linejoin="miter"/><rect x="174.38" y="246.62" width="3.45" height="26.27" stroke="none" fill="#fbe7d3" stroke-width="0"/><path d="M174.38 272.9V246.62H177.82V272.9" fill="none" stroke="#f3b077" stroke-width="1.45" stroke-linejoin="miter"/><line x1="168.5" y1="225.7" x2="168.5" y2="237" stroke="#6b6b6b" stroke-width="0.8" stroke-linecap="butt"/><line x1="167.3" y1="225.5" x2="170.5" y2="225.5" stroke="#6b6b6b" stroke-width="0.8" stroke-linecap="butt"/><line x1="167.3" y1="237.5" x2="170.5" y2="237.5" stroke="#6b6b6b" stroke-width="0.8" stroke-linecap="butt"/><line x1="176.5" y1="242.2" x2="176.5" y2="250" stroke="#f3b077" stroke-width="0.8" stroke-linecap="butt"/><line x1="174.5" y1="242.5" x2="177.7" y2="242.5" stroke="#f3b077" stroke-width="0.8" stroke-linecap="butt"/><line x1="174.5" y1="250.5" x2="177.7" y2="250.5" stroke="#f3b077" stroke-width="0.8" stroke-linecap="butt"/><circle cx="168.9" cy="225.7" r="1.45" fill="#5a5a5a"/><circle cx="168.9" cy="235" r="1.45" fill="#5a5a5a"/><circle cx="168.9" cy="239.5" r="1.45" fill="#5a5a5a"/><circle cx="176.1" cy="242.2" r="1.45" fill="#f1a866"/><circle cx="176.1" cy="245.5" r="1.45" fill="#f1a866"/><circle cx="176.1" cy="250.5" r="1.45" fill="#f1a866"/><text x="60.7" y="203.5" font-size="6.5" font-weight="normal" text-anchor="middle" fill="#000">&gt;0.9999</text><line x1="57" y1="207.5" x2="63.8" y2="207.5" stroke="#333" stroke-width="1.2" stroke-linecap="butt"/><text x="83" y="195.5" font-size="6.5" font-weight="normal" text-anchor="middle" fill="#000">0.8279</text><line x1="79.8" y1="200.5" x2="86.9" y2="200.5" stroke="#333" stroke-width="1.2" stroke-linecap="butt"/><text x="105.4" y="201.8" font-size="6.5" font-weight="normal" text-anchor="middle" fill="#000">0.0048</text><line x1="101.9" y1="205.5" x2="109" y2="205.5" stroke="#333" stroke-width="1.2" stroke-linecap="butt"/><text x="127.6" y="194.7" font-size="6.5" font-weight="normal" text-anchor="middle" fill="#000">&lt;0.0001</text><line x1="124.2" y1="198.5" x2="131.3" y2="198.5" stroke="#333" stroke-width="1.2" stroke-linecap="butt"/><text x="150" y="209" font-size="6.5" font-weight="normal" text-anchor="middle" fill="#000">0.0073</text><line x1="146.5" y1="212.5" x2="153.5" y2="212.5" stroke="#333" stroke-width="1.2" stroke-linecap="butt"/><text x="172.3" y="217" font-size="6.5" font-weight="normal" text-anchor="middle" fill="#000">0.0040</text><line x1="169.3" y1="221.5" x2="175.9" y2="221.5" stroke="#333" stroke-width="1.2" stroke-linecap="butt"/><text x="62.8" y="282.5" font-size="6.9" font-weight="bold" text-anchor="end" fill="#000" transform="rotate(-45 62.8 282.5)" stroke="#000" stroke-width="0.15">Raji-only</text><text x="85.18" y="282.5" font-size="6.9" font-weight="bold" text-anchor="end" fill="#000" transform="rotate(-45 85.18 282.5)" stroke="#000" stroke-width="0.15">UNT</text><text x="107.56" y="282.5" font-size="6.9" font-weight="bold" text-anchor="end" fill="#000" transform="rotate(-45 107.56 282.5)" stroke="#000" stroke-width="0.15">1:4</text><text x="129.94" y="282.5" font-size="6.9" font-weight="bold" text-anchor="end" fill="#000" transform="rotate(-45 129.94 282.5)" stroke="#000" stroke-width="0.15">1:2</text><text x="152.32" y="282.5" font-size="6.9" font-weight="bold" text-anchor="end" fill="#000" transform="rotate(-45 152.32 282.5)" stroke="#000" stroke-width="0.15">1:1</text><text x="174.7" y="282.5" font-size="6.9" font-weight="bold" text-anchor="end" fill="#000" transform="rotate(-45 174.7 282.5)" stroke="#000" stroke-width="0.15">2:1</text><text x="113.4" y="175.7" font-size="8.3" font-weight="bold" text-anchor="middle" fill="#000" stroke="#000" stroke-width="0.15">CD19-CAR-T + Raji-Luc</text><circle cx="173.4" cy="184.2" r="1.7" fill="#5a5a5a"/><circle cx="173.4" cy="196.3" r="1.7" fill="#f1a866"/><text x="183.4" y="186.6" font-size="6.9" font-weight="normal" text-anchor="start" fill="#000">DMSO</text><text x="183.4" y="198.7" font-size="6.9" font-weight="normal" text-anchor="start" fill="#000">TAIII</text><line x1="89.6" y1="295.5" x2="178.6" y2="295.5" stroke="#1a1a1a" stroke-width="1.1" stroke-linecap="butt"/><text x="134.7" y="307.3" font-size="7" font-weight="bold" text-anchor="middle" fill="#000" stroke="#000" stroke-width="0.15">E:T</text><text x="17.9" y="231" font-size="9.5" font-weight="bold" text-anchor="middle" fill="#000" transform="rotate(-90 17.9 231)" stroke="#000" stroke-width="0.15">Luciferase activity</text><text x="-0.5" y="329.8" font-size="12.1" font-weight="bold" text-anchor="start" fill="#000" stroke="#000" stroke-width="0.15">e</text><line x1="41.5" y1="356.6" x2="41.5" y2="444.4" stroke="#1a1a1a" stroke-width="1.25" stroke-linecap="butt"/><line x1="39.2" y1="443.5" x2="41.8" y2="443.5" stroke="#1a1a1a" stroke-width="0.9" stroke-linecap="butt"/><text x="38.4" y="446.5" font-size="7.1" font-weight="bold" text-anchor="end" fill="#000" stroke="#000" stroke-width="0.15">0</text><line x1="39.2" y1="422.5" x2="41.8" y2="422.5" stroke="#1a1a1a" stroke-width="0.9" stroke-linecap="butt"/><text x="38.4" y="424.82" font-size="7.1" font-weight="bold" text-anchor="end" fill="#000" stroke="#000" stroke-width="0.15">2×10<tspan dy="-2.6" font-size="4.8">6</tspan></text><line x1="39.2" y1="400.5" x2="41.8" y2="400.5" stroke="#1a1a1a" stroke-width="0.9" stroke-linecap="butt"/><text x="38.4" y="403.14" font-size="7.1" font-weight="bold" text-anchor="end" fill="#000" stroke="#000" stroke-width="0.15">4×10<tspan dy="-2.6" font-size="4.8">6</tspan></text><line x1="39.2" y1="378.5" x2="41.8" y2="378.5" stroke="#1a1a1a" stroke-width="0.9" stroke-linecap="butt"/><text x="38.4" y="381.46" font-size="7.1" font-weight="bold" text-anchor="end" fill="#000" stroke="#000" stroke-width="0.15">6×10<tspan dy="-2.6" font-size="4.8">6</tspan></text><line x1="39.2" y1="357.5" x2="41.8" y2="357.5" stroke="#1a1a1a" stroke-width="0.9" stroke-linecap="butt"/><text x="38.4" y="359.8" font-size="7.1" font-weight="bold" text-anchor="end" fill="#000" stroke="#000" stroke-width="0.15">8×10<tspan dy="-2.6" font-size="4.8">6</tspan></text><rect x="51.57" y="373.03" width="3.45" height="70.77" stroke="none" fill="#e3e3e3" stroke-width="0"/><path d="M51.57 443.8V373.03H55.02V443.8" fill="none" stroke="#6b6b6b" stroke-width="1.45" stroke-linejoin="miter"/><rect x="58.77" y="379.12" width="3.45" height="64.68" stroke="none" fill="#fbe7d3" stroke-width="0"/><path d="M58.77 443.8V379.12H62.23V443.8" fill="none" stroke="#f3b077" stroke-width="1.45" stroke-linejoin="miter"/><line x1="53.5" y1="369" x2="53.5" y2="375.5" stroke="#6b6b6b" stroke-width="0.8" stroke-linecap="butt"/><line x1="51.7" y1="369.5" x2="54.9" y2="369.5" stroke="#6b6b6b" stroke-width="0.8" stroke-linecap="butt"/><line x1="51.7" y1="375.5" x2="54.9" y2="375.5" stroke="#6b6b6b" stroke-width="0.8" stroke-linecap="butt"/><line x1="60.5" y1="372.3" x2="60.5" y2="382" stroke="#f3b077" stroke-width="0.8" stroke-linecap="butt"/><line x1="58.9" y1="372.5" x2="62.1" y2="372.5" stroke="#f3b077" stroke-width="0.8" stroke-linecap="butt"/><line x1="58.9" y1="382.5" x2="62.1" y2="382.5" stroke="#f3b077" stroke-width="0.8" stroke-linecap="butt"/><circle cx="53.3" cy="369" r="1.45" fill="#5a5a5a"/><circle cx="52.8" cy="372.2" r="1.45" fill="#5a5a5a"/><circle cx="53.8" cy="374.5" r="1.45" fill="#5a5a5a"/><circle cx="60.5" cy="372.3" r="1.45" fill="#f1a866"/><circle cx="60.5" cy="377.5" r="1.45" fill="#f1a866"/><circle cx="60.5" cy="380.5" r="1.45" fill="#f1a866"/><rect x="74.27" y="373.03" width="3.45" height="70.77" stroke="none" fill="#e3e3e3" stroke-width="0"/><path d="M74.27 443.8V373.03H77.73V443.8" fill="none" stroke="#6b6b6b" stroke-width="1.45" stroke-linejoin="miter"/><rect x="81.47" y="383.33" width="3.45" height="60.47" stroke="none" fill="#fbe7d3" stroke-width="0"/><path d="M81.47 443.8V383.33H84.92V443.8" fill="none" stroke="#f3b077" stroke-width="1.45" stroke-linejoin="miter"/><line x1="83.5" y1="378" x2="83.5" y2="385" stroke="#f3b077" stroke-width="0.8" stroke-linecap="butt"/><line x1="81.6" y1="378.5" x2="84.8" y2="378.5" stroke="#f3b077" stroke-width="0.8" stroke-linecap="butt"/><line x1="81.6" y1="385.5" x2="84.8" y2="385.5" stroke="#f3b077" stroke-width="0.8" stroke-linecap="butt"/><circle cx="76" cy="371.5" r="1.45" fill="#5a5a5a"/><circle cx="75.5" cy="373" r="1.45" fill="#5a5a5a"/><circle cx="76.5" cy="375" r="1.45" fill="#5a5a5a"/><circle cx="83.2" cy="378" r="1.45" fill="#f1a866"/><circle cx="83.2" cy="382" r="1.45" fill="#f1a866"/><rect x="96.97" y="388.33" width="3.45" height="55.47" stroke="none" fill="#e3e3e3" stroke-width="0"/><path d="M96.97 443.8V388.33H100.43V443.8" fill="none" stroke="#6b6b6b" stroke-width="1.45" stroke-linejoin="miter"/><rect x="104.17" y="405.83" width="3.45" height="37.97" stroke="none" fill="#fbe7d3" stroke-width="0"/><path d="M104.17 443.8V405.83H107.62V443.8" fill="none" stroke="#f3b077" stroke-width="1.45" stroke-linejoin="miter"/><line x1="98.5" y1="383.8" x2="98.5" y2="392" stroke="#6b6b6b" stroke-width="0.8" stroke-linecap="butt"/><line x1="97.1" y1="383.5" x2="100.3" y2="383.5" stroke="#6b6b6b" stroke-width="0.8" stroke-linecap="butt"/><line x1="97.1" y1="392.5" x2="100.3" y2="392.5" stroke="#6b6b6b" stroke-width="0.8" stroke-linecap="butt"/><line x1="105.5" y1="397.2" x2="105.5" y2="412" stroke="#f3b077" stroke-width="0.8" stroke-linecap="butt"/><line x1="104.3" y1="397.5" x2="107.5" y2="397.5" stroke="#f3b077" stroke-width="0.8" stroke-linecap="butt"/><line x1="104.3" y1="412.5" x2="107.5" y2="412.5" stroke="#f3b077" stroke-width="0.8" stroke-linecap="butt"/><circle cx="98.7" cy="383.8" r="1.45" fill="#5a5a5a"/><circle cx="98.2" cy="387" r="1.45" fill="#5a5a5a"/><circle cx="99.2" cy="390.5" r="1.45" fill="#5a5a5a"/><circle cx="105.9" cy="397.2" r="1.45" fill="#f1a866"/><circle cx="105.9" cy="401.3" r="1.45" fill="#f1a866"/><circle cx="105.9" cy="412.7" r="1.45" fill="#f1a866"/><rect x="119.67" y="401.23" width="3.45" height="42.57" stroke="none" fill="#e3e3e3" stroke-width="0"/><path d="M119.67 443.8V401.23H123.13V443.8" fill="none" stroke="#6b6b6b" stroke-width="1.45" stroke-linejoin="miter"/><rect x="126.87" y="416.73" width="3.45" height="27.07" stroke="none" fill="#fbe7d3" stroke-width="0"/><path d="M126.87 443.8V416.73H130.32V443.8" fill="none" stroke="#f3b077" stroke-width="1.45" stroke-linejoin="miter"/><line x1="121.5" y1="391.1" x2="121.5" y2="408" stroke="#6b6b6b" stroke-width="0.8" stroke-linecap="butt"/><line x1="119.8" y1="391.5" x2="123" y2="391.5" stroke="#6b6b6b" stroke-width="0.8" stroke-linecap="butt"/><line x1="119.8" y1="408.5" x2="123" y2="408.5" stroke="#6b6b6b" stroke-width="0.8" stroke-linecap="butt"/><line x1="128.5" y1="410.5" x2="128.5" y2="419.5" stroke="#f3b077" stroke-width="0.8" stroke-linecap="butt"/><line x1="127" y1="410.5" x2="130.2" y2="410.5" stroke="#f3b077" stroke-width="0.8" stroke-linecap="butt"/><line x1="127" y1="419.5" x2="130.2" y2="419.5" stroke="#f3b077" stroke-width="0.8" stroke-linecap="butt"/><circle cx="121.4" cy="391.1" r="1.45" fill="#5a5a5a"/><circle cx="121.4" cy="399" r="1.45" fill="#5a5a5a"/><circle cx="121.4" cy="406.6" r="1.45" fill="#5a5a5a"/><circle cx="128.6" cy="410.5" r="1.45" fill="#f1a866"/><circle cx="128.6" cy="416.5" r="1.45" fill="#f1a866"/><circle cx="128.6" cy="420" r="1.45" fill="#f1a866"/><rect x="142.38" y="417.83" width="3.45" height="25.97" stroke="none" fill="#e3e3e3" stroke-width="0"/><path d="M142.38 443.8V417.83H145.82V443.8" fill="none" stroke="#6b6b6b" stroke-width="1.45" stroke-linejoin="miter"/><rect x="149.57" y="429.03" width="3.45" height="14.77" stroke="none" fill="#fbe7d3" stroke-width="0"/><path d="M149.57 443.8V429.03H153.02V443.8" fill="none" stroke="#f3b077" stroke-width="1.45" stroke-linejoin="miter"/><line x1="144.5" y1="412" x2="144.5" y2="423" stroke="#6b6b6b" stroke-width="0.8" stroke-linecap="butt"/><line x1="142.5" y1="412.5" x2="145.7" y2="412.5" stroke="#6b6b6b" stroke-width="0.8" stroke-linecap="butt"/><line x1="142.5" y1="423.5" x2="145.7" y2="423.5" stroke="#6b6b6b" stroke-width="0.8" stroke-linecap="butt"/><line x1="151.5" y1="424.3" x2="151.5" y2="432" stroke="#f3b077" stroke-width="0.8" stroke-linecap="butt"/><line x1="149.7" y1="424.5" x2="152.9" y2="424.5" stroke="#f3b077" stroke-width="0.8" stroke-linecap="butt"/><line x1="149.7" y1="432.5" x2="152.9" y2="432.5" stroke="#f3b077" stroke-width="0.8" stroke-linecap="butt"/><circle cx="144.1" cy="412" r="1.45" fill="#5a5a5a"/><circle cx="144.1" cy="419" r="1.45" fill="#5a5a5a"/><circle cx="144.1" cy="424" r="1.45" fill="#5a5a5a"/><circle cx="151.3" cy="424.3" r="1.45" fill="#f1a866"/><circle cx="151.3" cy="427.5" r="1.45" fill="#f1a866"/><circle cx="151.3" cy="431.5" r="1.45" fill="#f1a866"/><rect x="165.08" y="433.62" width="3.45" height="10.18" stroke="none" fill="#e3e3e3" stroke-width="0"/><path d="M165.08 443.8V433.62H168.53V443.8" fill="none" stroke="#6b6b6b" stroke-width="1.45" stroke-linejoin="miter"/><rect x="172.28" y="435.12" width="3.45" height="8.68" stroke="none" fill="#fbe7d3" stroke-width="0"/><path d="M172.28 443.8V435.12H175.72V443.8" fill="none" stroke="#f3b077" stroke-width="1.45" stroke-linejoin="miter"/><circle cx="166.3" cy="431.5" r="1.45" fill="#5a5a5a"/><circle cx="167.3" cy="432.5" r="1.45" fill="#5a5a5a"/><circle cx="166.8" cy="434" r="1.45" fill="#5a5a5a"/><circle cx="174" cy="432.5" r="1.45" fill="#f1a866"/><circle cx="174" cy="434" r="1.45" fill="#f1a866"/><circle cx="174" cy="435.5" r="1.45" fill="#f1a866"/><text x="57" y="356.4" font-size="6.5" font-weight="normal" text-anchor="middle" fill="#000">0.8013</text><line x1="53.2" y1="360.6" x2="60.8" y2="360.6" stroke="#808080" stroke-width="1.5" stroke-linecap="butt"/><text x="79.6" y="362.4" font-size="6.5" font-weight="normal" text-anchor="middle" fill="#000">0.2858</text><line x1="76" y1="366.5" x2="83.6" y2="366.5" stroke="#333" stroke-width="1.2" stroke-linecap="butt"/><text x="102.4" y="375.8" font-size="6.5" font-weight="normal" text-anchor="middle" fill="#000">0.0015</text><line x1="99.1" y1="380" x2="106" y2="380" stroke="#808080" stroke-width="1.5" stroke-linecap="butt"/><text x="125.2" y="383.5" font-size="6.5" font-weight="normal" text-anchor="middle" fill="#000">0.0028</text><line x1="121.2" y1="387.5" x2="128.8" y2="387.5" stroke="#333" stroke-width="1.2" stroke-linecap="butt"/><text x="147.8" y="403.6" font-size="6.5" font-weight="normal" text-anchor="middle" fill="#000">0.0613</text><line x1="144" y1="407.5" x2="151.5" y2="407.5" stroke="#333" stroke-width="1.2" stroke-linecap="butt"/><text x="170.7" y="422.6" font-size="6.5" font-weight="normal" text-anchor="middle" fill="#000">0.9948</text><line x1="167.7" y1="426.5" x2="174.5" y2="426.5" stroke="#333" stroke-width="1.2" stroke-linecap="butt"/><text x="59.1" y="453.4" font-size="6.9" font-weight="bold" text-anchor="end" fill="#000" transform="rotate(-45 59.1 453.4)" stroke="#000" stroke-width="0.15">Nalm6-only</text><text x="81.8" y="453.4" font-size="6.9" font-weight="bold" text-anchor="end" fill="#000" transform="rotate(-45 81.8 453.4)" stroke="#000" stroke-width="0.15">UNT</text><text x="104.5" y="453.4" font-size="6.9" font-weight="bold" text-anchor="end" fill="#000" transform="rotate(-45 104.5 453.4)" stroke="#000" stroke-width="0.15">1:4</text><text x="127.2" y="453.4" font-size="6.9" font-weight="bold" text-anchor="end" fill="#000" transform="rotate(-45 127.2 453.4)" stroke="#000" stroke-width="0.15">1:2</text><text x="149.9" y="453.4" font-size="6.9" font-weight="bold" text-anchor="end" fill="#000" transform="rotate(-45 149.9 453.4)" stroke="#000" stroke-width="0.15">1:1</text><text x="172.6" y="453.4" font-size="6.9" font-weight="bold" text-anchor="end" fill="#000" transform="rotate(-45 172.6 453.4)" stroke="#000" stroke-width="0.15">2:1</text><text x="110.4" y="339" font-size="8.3" font-weight="bold" text-anchor="middle" fill="#000" stroke="#000" stroke-width="0.15">CD19-CAR-T + Nalm6-Luc</text><circle cx="183.5" cy="357.5" r="1.7" fill="#5a5a5a"/><circle cx="183.5" cy="369.7" r="1.7" fill="#f1a866"/><text x="193.8" y="359.9" font-size="6.9" font-weight="normal" text-anchor="start" fill="#000">DMSO</text><text x="193.8" y="372.1" font-size="6.9" font-weight="normal" text-anchor="start" fill="#000">TAIII</text><line x1="86.2" y1="466.7" x2="148" y2="466.7" stroke="#808080" stroke-width="1.5" stroke-linecap="butt"/><text x="115.9" y="479.2" font-size="7" font-weight="bold" text-anchor="middle" fill="#000" stroke="#000" stroke-width="0.15">E:T</text><text x="13.3" y="401" font-size="9.5" font-weight="bold" text-anchor="middle" fill="#000" transform="rotate(-90 13.3 401)" stroke="#000" stroke-width="0.15">Luciferase activity</text><rect x="252.5" y="236.05" width="13.5" height="35.34" stroke="none" fill="#e8e8e8" stroke-width="0"/><path d="M252.5 271.4V236.05H266V271.4" fill="none" stroke="#5e5e5e" stroke-width="1.4" stroke-linejoin="miter"/><rect x="275.9" y="207.3" width="13.5" height="64.1" stroke="none" fill="#fdf0e4" stroke-width="0"/><path d="M275.9 271.4V207.3H289.4V271.4" fill="none" stroke="#f3b077" stroke-width="1.4" stroke-linejoin="miter"/><line x1="259.5" y1="230.9" x2="259.5" y2="239.81" stroke="#777" stroke-width="0.9" stroke-linecap="butt"/><line x1="256.85" y1="230.5" x2="261.65" y2="230.5" stroke="#777" stroke-width="0.9" stroke-linecap="butt"/><line x1="256.85" y1="239.5" x2="261.65" y2="239.5" stroke="#777" stroke-width="0.9" stroke-linecap="butt"/><line x1="282.5" y1="199.31" x2="282.5" y2="213.08" stroke="#f3b077" stroke-width="0.9" stroke-linecap="butt"/><line x1="280.25" y1="199.5" x2="285.05" y2="199.5" stroke="#f3b077" stroke-width="0.9" stroke-linecap="butt"/><line x1="280.25" y1="213.5" x2="285.05" y2="213.5" stroke="#f3b077" stroke-width="0.9" stroke-linecap="butt"/><circle cx="259.25" cy="230.5" r="1.75" fill="#555"/><circle cx="259.25" cy="239.4" r="1.75" fill="#555"/><circle cx="257.75" cy="237.78" r="1.75" fill="#555"/><circle cx="282.65" cy="199.31" r="1.75" fill="#f1a866"/><circle cx="282.65" cy="212.68" r="1.75" fill="#f1a866"/><circle cx="283.85" cy="207.81" r="1.75" fill="#f1a866"/><text x="271" y="171" font-size="8" font-weight="bold" text-anchor="middle" fill="#000" stroke="#000" stroke-width="0.15">IFN-γ</text><text x="270.2" y="183.8" font-size="6.5" font-weight="normal" text-anchor="middle" fill="#000">0.0032</text><line x1="257.8" y1="188.5" x2="283.1" y2="188.5" stroke="#222" stroke-width="1" stroke-linecap="butt"/><text x="224.2" y="229.7" font-size="8.9" font-weight="bold" text-anchor="middle" fill="#000" transform="rotate(-90 224.2 229.7)" stroke="#000" stroke-width="0.15">ng/ml</text><text x="261.45" y="281.4" font-size="8" font-weight="bold" text-anchor="end" fill="#000" transform="rotate(-45 261.45 281.4)" stroke="#000" stroke-width="0.15">DMSO</text><text x="284.85" y="281.4" font-size="8" font-weight="bold" text-anchor="end" fill="#000" transform="rotate(-45 284.85 281.4)" stroke="#000" stroke-width="0.15">TAIII</text><rect x="329.4" y="233.9" width="12.5" height="38.2" stroke="none" fill="#e8e8e8" stroke-width="0"/><path d="M329.4 272.1V233.9H341.9V272.1" fill="none" stroke="#5e5e5e" stroke-width="1.4" stroke-linejoin="miter"/><rect x="352.4" y="214.25" width="13.1" height="57.85" stroke="none" fill="#fdf0e4" stroke-width="0"/><path d="M352.4 272.1V214.25H365.5V272.1" fill="none" stroke="#f3b077" stroke-width="1.4" stroke-linejoin="miter"/><line x1="335.5" y1="231.6" x2="335.5" y2="234.41" stroke="#777" stroke-width="0.9" stroke-linecap="butt"/><line x1="333.25" y1="231.5" x2="338.05" y2="231.5" stroke="#777" stroke-width="0.9" stroke-linecap="butt"/><line x1="333.25" y1="234.5" x2="338.05" y2="234.5" stroke="#777" stroke-width="0.9" stroke-linecap="butt"/><line x1="358.5" y1="210.35" x2="358.5" y2="217.56" stroke="#f3b077" stroke-width="0.9" stroke-linecap="butt"/><line x1="356.55" y1="210.5" x2="361.35" y2="210.5" stroke="#f3b077" stroke-width="0.9" stroke-linecap="butt"/><line x1="356.55" y1="217.5" x2="361.35" y2="217.5" stroke="#f3b077" stroke-width="0.9" stroke-linecap="butt"/><circle cx="335.65" cy="232" r="1.75" fill="#555"/><circle cx="332.85" cy="234.01" r="1.75" fill="#555"/><circle cx="338.45" cy="233.44" r="1.75" fill="#555"/><circle cx="356.35" cy="211.15" r="1.75" fill="#f1a866"/><circle cx="361.55" cy="211.15" r="1.75" fill="#f1a866"/><circle cx="358.95" cy="217.56" r="1.75" fill="#f1a866"/><text x="347" y="170.6" font-size="8" font-weight="bold" text-anchor="middle" fill="#000" stroke="#000" stroke-width="0.15">IL-2</text><text x="346.4" y="187" font-size="6.5" font-weight="normal" text-anchor="middle" fill="#000">0.0011</text><line x1="334.7" y1="190.5" x2="358.1" y2="190.5" stroke="#222" stroke-width="1" stroke-linecap="butt"/><text x="307" y="230.2" font-size="8.9" font-weight="bold" text-anchor="middle" fill="#000" transform="rotate(-90 307 230.2)" stroke="#000" stroke-width="0.15">ng/ml</text><text x="337.85" y="282.1" font-size="8" font-weight="bold" text-anchor="end" fill="#000" transform="rotate(-45 337.85 282.1)" stroke="#000" stroke-width="0.15">DMSO</text><text x="361.15" y="282.1" font-size="8" font-weight="bold" text-anchor="end" fill="#000" transform="rotate(-45 361.15 282.1)" stroke="#000" stroke-width="0.15">TAIII</text><rect x="412.8" y="243" width="12.9" height="29.3" stroke="none" fill="#e8e8e8" stroke-width="0"/><path d="M412.8 272.3V243H425.7V272.3" fill="none" stroke="#5e5e5e" stroke-width="1.4" stroke-linejoin="miter"/><rect x="435.2" y="219.8" width="13.5" height="52.5" stroke="none" fill="#fdf0e4" stroke-width="0"/><path d="M435.2 272.3V219.8H448.7V272.3" fill="none" stroke="#f3b077" stroke-width="1.4" stroke-linejoin="miter"/><line x1="441.5" y1="213.1" x2="441.5" y2="225.5" stroke="#f3b077" stroke-width="0.9" stroke-linecap="butt"/><line x1="439.55" y1="213.5" x2="444.35" y2="213.5" stroke="#f3b077" stroke-width="0.9" stroke-linecap="butt"/><line x1="439.55" y1="225.5" x2="444.35" y2="225.5" stroke="#f3b077" stroke-width="0.9" stroke-linecap="butt"/><circle cx="419.25" cy="241.1" r="1.75" fill="#555"/><circle cx="416.25" cy="242.1" r="1.75" fill="#555"/><circle cx="422.25" cy="242.1" r="1.75" fill="#555"/><circle cx="438.95" cy="213.9" r="1.75" fill="#f1a866"/><circle cx="444.95" cy="213.9" r="1.75" fill="#f1a866"/><circle cx="441.95" cy="225.9" r="1.75" fill="#f1a866"/><text x="430.9" y="171.7" font-size="8" font-weight="bold" text-anchor="middle" fill="#000" stroke="#000" stroke-width="0.15">TNF-α</text><text x="430.6" y="187.7" font-size="6.5" font-weight="normal" text-anchor="middle" fill="#000">0.0017</text><line x1="420" y1="191.5" x2="442.3" y2="191.5" stroke="#222" stroke-width="1" stroke-linecap="butt"/><text x="383.8" y="231.3" font-size="8.9" font-weight="bold" text-anchor="middle" fill="#000" transform="rotate(-90 383.8 231.3)" stroke="#000" stroke-width="0.15">pg/ml</text><text x="421.45" y="282.3" font-size="8" font-weight="bold" text-anchor="end" fill="#000" transform="rotate(-45 421.45 282.3)" stroke="#000" stroke-width="0.15">DMSO</text><text x="444.15" y="282.3" font-size="8" font-weight="bold" text-anchor="end" fill="#000" transform="rotate(-45 444.15 282.3)" stroke="#000" stroke-width="0.15">TAIII</text><rect x="252.4" y="409" width="12.6" height="32.1" stroke="none" fill="#e8e8e8" stroke-width="0"/><path d="M252.4 441.1V409H265V441.1" fill="none" stroke="#5e5e5e" stroke-width="1.4" stroke-linejoin="miter"/><rect x="274.3" y="389.28" width="12.9" height="51.82" stroke="none" fill="#fdf0e4" stroke-width="0"/><path d="M274.3 441.1V389.28H287.2V441.1" fill="none" stroke="#f3b077" stroke-width="1.4" stroke-linejoin="miter"/><line x1="258.5" y1="405.17" x2="258.5" y2="410.84" stroke="#777" stroke-width="0.9" stroke-linecap="butt"/><line x1="256.3" y1="405.5" x2="261.1" y2="405.5" stroke="#777" stroke-width="0.9" stroke-linecap="butt"/><line x1="256.3" y1="410.5" x2="261.1" y2="410.5" stroke="#777" stroke-width="0.9" stroke-linecap="butt"/><line x1="280.5" y1="377.06" x2="280.5" y2="399.71" stroke="#f3b077" stroke-width="0.9" stroke-linecap="butt"/><line x1="278.35" y1="377.5" x2="283.15" y2="377.5" stroke="#f3b077" stroke-width="0.9" stroke-linecap="butt"/><line x1="278.35" y1="399.5" x2="283.15" y2="399.5" stroke="#f3b077" stroke-width="0.9" stroke-linecap="butt"/><circle cx="258.7" cy="405.56" r="1.75" fill="#555"/><circle cx="255.9" cy="409.47" r="1.75" fill="#555"/><circle cx="261.5" cy="409.08" r="1.75" fill="#555"/><circle cx="280.75" cy="376.67" r="1.75" fill="#f1a866"/><circle cx="277.95" cy="393.85" r="1.75" fill="#f1a866"/><circle cx="283.55" cy="393.07" r="1.75" fill="#f1a866"/><text x="269.9" y="344.5" font-size="8" font-weight="bold" text-anchor="middle" fill="#000" stroke="#000" stroke-width="0.15">IFNγ</text><text x="270" y="358.1" font-size="6.5" font-weight="normal" text-anchor="middle" fill="#000">0.0358</text><line x1="258.3" y1="362.5" x2="281.7" y2="362.5" stroke="#222" stroke-width="1" stroke-linecap="butt"/><text x="226.8" y="401.3" font-size="8.9" font-weight="bold" text-anchor="middle" fill="#000" transform="rotate(-90 226.8 401.3)" stroke="#000" stroke-width="0.15">ng/ml</text><text x="260.9" y="451.1" font-size="8" font-weight="bold" text-anchor="end" fill="#000" transform="rotate(-45 260.9 451.1)" stroke="#000" stroke-width="0.15">DMSO</text><text x="282.95" y="451.1" font-size="8" font-weight="bold" text-anchor="end" fill="#000" transform="rotate(-45 282.95 451.1)" stroke="#000" stroke-width="0.15">TAIII</text><rect x="332.2" y="421.54" width="12.8" height="19.76" stroke="none" fill="#e8e8e8" stroke-width="0"/><path d="M332.2 441.3V421.54H345V441.3" fill="none" stroke="#5e5e5e" stroke-width="1.4" stroke-linejoin="miter"/><rect x="354.5" y="376.68" width="13.5" height="64.62" stroke="none" fill="#fdf0e4" stroke-width="0"/><path d="M354.5 441.3V376.68H368V441.3" fill="none" stroke="#f3b077" stroke-width="1.4" stroke-linejoin="miter"/><line x1="338.5" y1="413.75" x2="338.5" y2="427.53" stroke="#777" stroke-width="0.9" stroke-linecap="butt"/><line x1="336.2" y1="413.5" x2="341" y2="413.5" stroke="#777" stroke-width="0.9" stroke-linecap="butt"/><line x1="336.2" y1="427.5" x2="341" y2="427.5" stroke="#777" stroke-width="0.9" stroke-linecap="butt"/><line x1="361.5" y1="368.5" x2="361.5" y2="383.46" stroke="#f3b077" stroke-width="0.9" stroke-linecap="butt"/><line x1="358.85" y1="368.5" x2="363.65" y2="368.5" stroke="#f3b077" stroke-width="0.9" stroke-linecap="butt"/><line x1="358.85" y1="383.5" x2="363.65" y2="383.5" stroke="#f3b077" stroke-width="0.9" stroke-linecap="butt"/><circle cx="338.6" cy="412.97" r="1.75" fill="#555"/><circle cx="335.8" cy="424.77" r="1.75" fill="#555"/><circle cx="341.4" cy="422.81" r="1.75" fill="#555"/><circle cx="361.25" cy="368.9" r="1.75" fill="#f1a866"/><circle cx="361.25" cy="376.77" r="1.75" fill="#f1a866"/><circle cx="361.25" cy="383.06" r="1.75" fill="#f1a866"/><text x="350.1" y="342.3" font-size="8" font-weight="bold" text-anchor="middle" fill="#000" stroke="#000" stroke-width="0.15">IL-2</text><text x="349.9" y="357.2" font-size="6.5" font-weight="normal" text-anchor="middle" fill="#000">0.0015</text><line x1="338.9" y1="361.5" x2="361.3" y2="361.5" stroke="#222" stroke-width="1" stroke-linecap="butt"/><text x="302.1" y="398.1" font-size="8.9" font-weight="bold" text-anchor="middle" fill="#000" transform="rotate(-90 302.1 398.1)" stroke="#000" stroke-width="0.15">ng/ml</text><text x="340.8" y="451.3" font-size="8" font-weight="bold" text-anchor="end" fill="#000" transform="rotate(-45 340.8 451.3)" stroke="#000" stroke-width="0.15">DMSO</text><text x="363.45" y="451.3" font-size="8" font-weight="bold" text-anchor="end" fill="#000" transform="rotate(-45 363.45 451.3)" stroke="#000" stroke-width="0.15">TAIII</text><rect x="411.4" y="426.78" width="13.3" height="14.92" stroke="none" fill="#e8e8e8" stroke-width="0"/><path d="M411.4 441.7V426.78H424.7V441.7" fill="none" stroke="#5e5e5e" stroke-width="1.4" stroke-linejoin="miter"/><rect x="433.8" y="392.29" width="13.5" height="49.41" stroke="none" fill="#fdf0e4" stroke-width="0"/><path d="M433.8 441.7V392.29H447.3V441.7" fill="none" stroke="#f3b077" stroke-width="1.4" stroke-linejoin="miter"/><line x1="418.5" y1="419.57" x2="418.5" y2="432.59" stroke="#777" stroke-width="0.9" stroke-linecap="butt"/><line x1="415.65" y1="419.5" x2="420.45" y2="419.5" stroke="#777" stroke-width="0.9" stroke-linecap="butt"/><line x1="415.65" y1="432.5" x2="420.45" y2="432.5" stroke="#777" stroke-width="0.9" stroke-linecap="butt"/><line x1="440.5" y1="375.64" x2="440.5" y2="407.21" stroke="#f3b077" stroke-width="0.9" stroke-linecap="butt"/><line x1="438.15" y1="375.5" x2="442.95" y2="375.5" stroke="#f3b077" stroke-width="0.9" stroke-linecap="butt"/><line x1="438.15" y1="407.5" x2="442.95" y2="407.5" stroke="#f3b077" stroke-width="0.9" stroke-linecap="butt"/><circle cx="418.05" cy="418.92" r="1.75" fill="#555"/><circle cx="414.85" cy="430.31" r="1.75" fill="#555"/><circle cx="421.25" cy="428.36" r="1.75" fill="#555"/><circle cx="440.55" cy="374.66" r="1.75" fill="#f1a866"/><circle cx="440.55" cy="396.14" r="1.75" fill="#f1a866"/><circle cx="440.55" cy="403.95" r="1.75" fill="#f1a866"/><text x="429.4" y="343.8" font-size="8" font-weight="bold" text-anchor="middle" fill="#000" stroke="#000" stroke-width="0.15">TNF-α</text><text x="429.6" y="358.7" font-size="6.5" font-weight="normal" text-anchor="middle" fill="#000">0.0236</text><line x1="418.2" y1="363.5" x2="441.4" y2="363.5" stroke="#222" stroke-width="1" stroke-linecap="butt"/><text x="382.5" y="401.3" font-size="8.9" font-weight="bold" text-anchor="middle" fill="#000" transform="rotate(-90 382.5 401.3)" stroke="#000" stroke-width="0.15">pg/ml</text><text x="420.25" y="451.7" font-size="8" font-weight="bold" text-anchor="end" fill="#000" transform="rotate(-45 420.25 451.7)" stroke="#000" stroke-width="0.15">DMSO</text><text x="442.75" y="451.7" font-size="8" font-weight="bold" text-anchor="end" fill="#000" transform="rotate(-45 442.75 451.7)" stroke="#000" stroke-width="0.15">TAIII</text><text x="357.5" y="520.6" font-size="12.1" font-weight="bold" text-anchor="start" fill="#000" stroke="#000" stroke-width="0.15">g</text><rect x="393.7" y="604.91" width="12.8" height="28.59" stroke="none" fill="#e8e8e8" stroke-width="0"/><path d="M393.7 633.5V604.91H406.5V633.5" fill="none" stroke="#5e5e5e" stroke-width="1.4" stroke-linejoin="miter"/><rect x="415" y="572.99" width="12.5" height="60.51" stroke="none" fill="#fdf0e4" stroke-width="0"/><path d="M415 633.5V572.99H427.5V633.5" fill="none" stroke="#f3b077" stroke-width="1.4" stroke-linejoin="miter"/><line x1="400.5" y1="593.7" x2="400.5" y2="613.97" stroke="#777" stroke-width="0.9" stroke-linecap="butt"/><line x1="397.7" y1="593.5" x2="402.5" y2="593.5" stroke="#777" stroke-width="0.9" stroke-linecap="butt"/><line x1="397.7" y1="613.5" x2="402.5" y2="613.5" stroke="#777" stroke-width="0.9" stroke-linecap="butt"/><line x1="421.5" y1="562.91" x2="421.5" y2="582.43" stroke="#f3b077" stroke-width="0.9" stroke-linecap="butt"/><line x1="418.85" y1="562.5" x2="423.65" y2="562.5" stroke="#f3b077" stroke-width="0.9" stroke-linecap="butt"/><line x1="418.85" y1="582.5" x2="423.65" y2="582.5" stroke="#f3b077" stroke-width="0.9" stroke-linecap="butt"/><circle cx="400.1" cy="593.7" r="1.75" fill="#555"/><circle cx="400.1" cy="604.59" r="1.75" fill="#555"/><circle cx="400.1" cy="613.97" r="1.75" fill="#555"/><circle cx="418.25" cy="565.16" r="1.75" fill="#f1a866"/><circle cx="424.25" cy="565.16" r="1.75" fill="#f1a866"/><circle cx="421.25" cy="582.43" r="1.75" fill="#f1a866"/><text x="410.3" y="539.2" font-size="8" font-weight="bold" text-anchor="middle" fill="#000" stroke="#000" stroke-width="0.15">IFN-γ</text><text x="410.6" y="552.7" font-size="6.5" font-weight="normal" text-anchor="middle" fill="#000">0.0164</text><line x1="399.5" y1="557.5" x2="421.7" y2="557.5" stroke="#222" stroke-width="1" stroke-linecap="butt"/><text x="363.2" y="594.8" font-size="8.9" font-weight="bold" text-anchor="middle" fill="#000" transform="rotate(-90 363.2 594.8)" stroke="#000" stroke-width="0.15">ng/ml</text><text x="402.3" y="643.5" font-size="8" font-weight="bold" text-anchor="end" fill="#000" transform="rotate(-45 402.3 643.5)" stroke="#000" stroke-width="0.15">DMSO</text><text x="423.45" y="643.5" font-size="8" font-weight="bold" text-anchor="end" fill="#000" transform="rotate(-45 423.45 643.5)" stroke="#000" stroke-width="0.15">TAIII</text><rect x="463.1" y="595.5" width="11.8" height="37.1" stroke="none" fill="#e8e8e8" stroke-width="0"/><path d="M463.1 632.6V595.5H474.9V632.6" fill="none" stroke="#5e5e5e" stroke-width="1.4" stroke-linejoin="miter"/><rect x="484.4" y="567.53" width="12.3" height="65.07" stroke="none" fill="#fdf0e4" stroke-width="0"/><path d="M484.4 632.6V567.53H496.7V632.6" fill="none" stroke="#f3b077" stroke-width="1.4" stroke-linejoin="miter"/><line x1="469.5" y1="593.29" x2="469.5" y2="596.01" stroke="#777" stroke-width="0.9" stroke-linecap="butt"/><line x1="466.6" y1="593.5" x2="471.4" y2="593.5" stroke="#777" stroke-width="0.9" stroke-linecap="butt"/><line x1="466.6" y1="596.5" x2="471.4" y2="596.5" stroke="#777" stroke-width="0.9" stroke-linecap="butt"/><line x1="490.5" y1="562.29" x2="490.5" y2="572.12" stroke="#f3b077" stroke-width="0.9" stroke-linecap="butt"/><line x1="488.15" y1="562.5" x2="492.95" y2="562.5" stroke="#f3b077" stroke-width="0.9" stroke-linecap="butt"/><line x1="488.15" y1="572.5" x2="492.95" y2="572.5" stroke="#f3b077" stroke-width="0.9" stroke-linecap="butt"/><circle cx="466" cy="594.8" r="1.75" fill="#555"/><circle cx="469" cy="593.59" r="1.75" fill="#555"/><circle cx="472" cy="594.04" r="1.75" fill="#555"/><circle cx="490.55" cy="562.29" r="1.75" fill="#f1a866"/><circle cx="487.55" cy="569.1" r="1.75" fill="#f1a866"/><circle cx="493.55" cy="567.58" r="1.75" fill="#f1a866"/><text x="479.9" y="538.1" font-size="8" font-weight="bold" text-anchor="middle" fill="#000" stroke="#000" stroke-width="0.15">IL-2</text><text x="479.9" y="551.9" font-size="6.5" font-weight="normal" text-anchor="middle" fill="#000">0.0008</text><line x1="468.1" y1="555.5" x2="491.1" y2="555.5" stroke="#222" stroke-width="1" stroke-linecap="butt"/><text x="438.3" y="593.8" font-size="8.9" font-weight="bold" text-anchor="middle" fill="#000" transform="rotate(-90 438.3 593.8)" stroke="#000" stroke-width="0.15">ng/ml</text><text x="471.2" y="642.6" font-size="8" font-weight="bold" text-anchor="end" fill="#000" transform="rotate(-45 471.2 642.6)" stroke="#000" stroke-width="0.15">DMSO</text><text x="492.75" y="642.6" font-size="8" font-weight="bold" text-anchor="end" fill="#000" transform="rotate(-45 492.75 642.6)" stroke="#000" stroke-width="0.15">TAIII</text><rect x="545.4" y="596.7" width="11.9" height="36.2" stroke="none" fill="#e8e8e8" stroke-width="0"/><path d="M545.4 632.9V596.7H557.3V632.9" fill="none" stroke="#5e5e5e" stroke-width="1.4" stroke-linejoin="miter"/><rect x="566.6" y="574.87" width="12.4" height="58.03" stroke="none" fill="#fdf0e4" stroke-width="0"/><path d="M566.6 632.9V574.87H579V632.9" fill="none" stroke="#f3b077" stroke-width="1.4" stroke-linejoin="miter"/><line x1="551.5" y1="589.6" x2="551.5" y2="603.16" stroke="#777" stroke-width="0.9" stroke-linecap="butt"/><line x1="548.95" y1="589.5" x2="553.75" y2="589.5" stroke="#777" stroke-width="0.9" stroke-linecap="butt"/><line x1="548.95" y1="603.5" x2="553.75" y2="603.5" stroke="#777" stroke-width="0.9" stroke-linecap="butt"/><line x1="572.5" y1="567.01" x2="572.5" y2="579.44" stroke="#f3b077" stroke-width="0.9" stroke-linecap="butt"/><line x1="570.4" y1="567.5" x2="575.2" y2="567.5" stroke="#f3b077" stroke-width="0.9" stroke-linecap="butt"/><line x1="570.4" y1="579.5" x2="575.2" y2="579.5" stroke="#f3b077" stroke-width="0.9" stroke-linecap="butt"/><circle cx="551.35" cy="589.23" r="1.75" fill="#555"/><circle cx="551.35" cy="596.76" r="1.75" fill="#555"/><circle cx="551.35" cy="603.53" r="1.75" fill="#555"/><circle cx="572.8" cy="567.01" r="1.75" fill="#f1a866"/><circle cx="569.8" cy="575.3" r="1.75" fill="#f1a866"/><circle cx="575.8" cy="575.3" r="1.75" fill="#f1a866"/><text x="562.1" y="538.5" font-size="8" font-weight="bold" text-anchor="middle" fill="#000" stroke="#000" stroke-width="0.15">TNF-α</text><text x="561.5" y="552.5" font-size="6.5" font-weight="normal" text-anchor="middle" fill="#000">0.0163</text><line x1="549.8" y1="556.5" x2="572.8" y2="556.5" stroke="#222" stroke-width="1" stroke-linecap="butt"/><text x="511" y="595.9" font-size="8.9" font-weight="bold" text-anchor="middle" fill="#000" transform="rotate(-90 511 595.9)" stroke="#000" stroke-width="0.15">pg/ml</text><text x="553.55" y="642.9" font-size="8" font-weight="bold" text-anchor="end" fill="#000" transform="rotate(-45 553.55 642.9)" stroke="#000" stroke-width="0.15">DMSO</text><text x="575" y="642.9" font-size="8" font-weight="bold" text-anchor="end" fill="#000" transform="rotate(-45 575 642.9)" stroke="#000" stroke-width="0.15">TAIII</text><text x="593.3" y="521.9" font-size="12.1" font-weight="bold" text-anchor="start" fill="#000" stroke="#000" stroke-width="0.15">h</text><rect x="643" y="570.87" width="12.2" height="61.63" stroke="none" fill="#e8e8e8" stroke-width="0"/><path d="M643 632.5V570.87H655.2V632.5" fill="none" stroke="#5e5e5e" stroke-width="1.4" stroke-linejoin="miter"/><rect x="664.2" y="591.44" width="12.7" height="41.06" stroke="none" fill="#fdf0e4" stroke-width="0"/><path d="M664.2 632.5V591.44H676.9V632.5" fill="none" stroke="#f3b077" stroke-width="1.4" stroke-linejoin="miter"/><circle cx="646.1" cy="570.17" r="1.75" fill="#555"/><circle cx="649.1" cy="568.92" r="1.75" fill="#555"/><circle cx="652.1" cy="570.79" r="1.75" fill="#555"/><circle cx="667.05" cy="588.87" r="1.75" fill="#f1a866"/><circle cx="670.55" cy="590.11" r="1.75" fill="#f1a866"/><circle cx="674.05" cy="590.11" r="1.75" fill="#f1a866"/><text x="660.3" y="539.2" font-size="8.6" font-weight="bold" text-anchor="middle" fill="#000" font-style="italic" stroke="#000" stroke-width="0.15">FoxP3</text><text x="660.4" y="552.6" font-size="6.5" font-weight="normal" text-anchor="middle" fill="#000">&lt;0.0001</text><line x1="650" y1="556.5" x2="671.2" y2="556.5" stroke="#222" stroke-width="1" stroke-linecap="butt"/><text x="613.65" y="594.7" font-size="8.2" font-weight="bold" text-anchor="middle" fill="#000" transform="rotate(-90 613.65 594.7)" stroke="#000" stroke-width="0.15">Relative mRNA level</text><text x="651.3" y="642.5" font-size="8" font-weight="bold" text-anchor="end" fill="#000" transform="rotate(-45 651.3 642.5)" stroke="#000" stroke-width="0.15">DMSO</text><text x="672.75" y="642.5" font-size="8" font-weight="bold" text-anchor="end" fill="#000" transform="rotate(-45 672.75 642.5)" stroke="#000" stroke-width="0.15">TAIII</text><text x="-0.2" y="507" font-size="12.1" font-weight="bold" text-anchor="start" fill="#000" stroke="#000" stroke-width="0.15">f</text><text x="38" y="641.5" font-size="7" font-weight="bold" text-anchor="middle" fill="#000" stroke="#000" stroke-width="0.15">0</text><text x="69.45" y="641.5" font-size="7" font-weight="bold" text-anchor="middle" fill="#000" stroke="#000" stroke-width="0.15">10</text><text x="100.9" y="641.5" font-size="7" font-weight="bold" text-anchor="middle" fill="#000" stroke="#000" stroke-width="0.15">20</text><text x="132.35" y="641.5" font-size="7" font-weight="bold" text-anchor="middle" fill="#000" stroke="#000" stroke-width="0.15">30</text><text x="163.8" y="641.5" font-size="7" font-weight="bold" text-anchor="middle" fill="#000" stroke="#000" stroke-width="0.15">40</text><text x="100.7" y="512.7" font-size="7.8" font-weight="bold" text-anchor="middle" fill="#000" stroke="#000" stroke-width="0.15">E:T=1:2</text><text x="100.7" y="651.9" font-size="6.9" font-weight="bold" text-anchor="middle" fill="#000" stroke="#000" stroke-width="0.15">Time [Hours]</text><line x1="56.5" y1="613.19" x2="56.5" y2="626.65" stroke="#f3b077" stroke-width="0.75" stroke-linecap="butt"/><line x1="55.57" y1="613.5" x2="58.17" y2="613.5" stroke="#f3b077" stroke-width="0.75" stroke-linecap="butt"/><line x1="55.57" y1="626.5" x2="58.17" y2="626.5" stroke="#f3b077" stroke-width="0.75" stroke-linecap="butt"/><line x1="63.5" y1="587.29" x2="63.5" y2="618.47" stroke="#f3b077" stroke-width="0.75" stroke-linecap="butt"/><line x1="61.86" y1="587.5" x2="64.46" y2="587.5" stroke="#f3b077" stroke-width="0.75" stroke-linecap="butt"/><line x1="61.86" y1="618.5" x2="64.46" y2="618.5" stroke="#f3b077" stroke-width="0.75" stroke-linecap="butt"/><line x1="69.5" y1="587.72" x2="69.5" y2="608.27" stroke="#f3b077" stroke-width="0.75" stroke-linecap="butt"/><line x1="68.15" y1="587.5" x2="70.75" y2="587.5" stroke="#f3b077" stroke-width="0.75" stroke-linecap="butt"/><line x1="68.15" y1="608.5" x2="70.75" y2="608.5" stroke="#f3b077" stroke-width="0.75" stroke-linecap="butt"/><line x1="75.5" y1="586.87" x2="75.5" y2="601.04" stroke="#f3b077" stroke-width="0.75" stroke-linecap="butt"/><line x1="74.44" y1="586.5" x2="77.04" y2="586.5" stroke="#f3b077" stroke-width="0.75" stroke-linecap="butt"/><line x1="74.44" y1="601.5" x2="77.04" y2="601.5" stroke="#f3b077" stroke-width="0.75" stroke-linecap="butt"/><line x1="82.5" y1="591.83" x2="82.5" y2="604.58" stroke="#f3b077" stroke-width="0.75" stroke-linecap="butt"/><line x1="80.73" y1="591.5" x2="83.33" y2="591.5" stroke="#f3b077" stroke-width="0.75" stroke-linecap="butt"/><line x1="80.73" y1="604.5" x2="83.33" y2="604.5" stroke="#f3b077" stroke-width="0.75" stroke-linecap="butt"/><line x1="88.5" y1="595.44" x2="88.5" y2="601.82" stroke="#f3b077" stroke-width="0.75" stroke-linecap="butt"/><line x1="87.02" y1="595.5" x2="89.62" y2="595.5" stroke="#f3b077" stroke-width="0.75" stroke-linecap="butt"/><line x1="87.02" y1="601.5" x2="89.62" y2="601.5" stroke="#f3b077" stroke-width="0.75" stroke-linecap="butt"/><line x1="94.5" y1="584.1" x2="94.5" y2="600.4" stroke="#f3b077" stroke-width="0.75" stroke-linecap="butt"/><line x1="93.31" y1="584.5" x2="95.91" y2="584.5" stroke="#f3b077" stroke-width="0.75" stroke-linecap="butt"/><line x1="93.31" y1="600.5" x2="95.91" y2="600.5" stroke="#f3b077" stroke-width="0.75" stroke-linecap="butt"/><line x1="100.5" y1="584.1" x2="100.5" y2="598.28" stroke="#f3b077" stroke-width="0.75" stroke-linecap="butt"/><line x1="99.6" y1="584.5" x2="102.2" y2="584.5" stroke="#f3b077" stroke-width="0.75" stroke-linecap="butt"/><line x1="99.6" y1="598.5" x2="102.2" y2="598.5" stroke="#f3b077" stroke-width="0.75" stroke-linecap="butt"/><line x1="107.5" y1="590.83" x2="107.5" y2="593.67" stroke="#f3b077" stroke-width="0.75" stroke-linecap="butt"/><line x1="105.89" y1="590.5" x2="108.49" y2="590.5" stroke="#f3b077" stroke-width="0.75" stroke-linecap="butt"/><line x1="105.89" y1="593.5" x2="108.49" y2="593.5" stroke="#f3b077" stroke-width="0.75" stroke-linecap="butt"/><line x1="113.5" y1="580.88" x2="113.5" y2="590.8" stroke="#f3b077" stroke-width="0.75" stroke-linecap="butt"/><line x1="112.18" y1="580.5" x2="114.78" y2="580.5" stroke="#f3b077" stroke-width="0.75" stroke-linecap="butt"/><line x1="112.18" y1="590.5" x2="114.78" y2="590.5" stroke="#f3b077" stroke-width="0.75" stroke-linecap="butt"/><line x1="119.5" y1="572.09" x2="119.5" y2="589.81" stroke="#f3b077" stroke-width="0.75" stroke-linecap="butt"/><line x1="118.47" y1="572.5" x2="121.07" y2="572.5" stroke="#f3b077" stroke-width="0.75" stroke-linecap="butt"/><line x1="118.47" y1="589.5" x2="121.07" y2="589.5" stroke="#f3b077" stroke-width="0.75" stroke-linecap="butt"/><line x1="126.5" y1="570.57" x2="126.5" y2="581.91" stroke="#f3b077" stroke-width="0.75" stroke-linecap="butt"/><line x1="124.76" y1="570.5" x2="127.36" y2="570.5" stroke="#f3b077" stroke-width="0.75" stroke-linecap="butt"/><line x1="124.76" y1="581.5" x2="127.36" y2="581.5" stroke="#f3b077" stroke-width="0.75" stroke-linecap="butt"/><line x1="132.5" y1="561" x2="132.5" y2="580.84" stroke="#f3b077" stroke-width="0.75" stroke-linecap="butt"/><line x1="131.05" y1="561.5" x2="133.65" y2="561.5" stroke="#f3b077" stroke-width="0.75" stroke-linecap="butt"/><line x1="131.05" y1="580.5" x2="133.65" y2="580.5" stroke="#f3b077" stroke-width="0.75" stroke-linecap="butt"/><line x1="138.5" y1="562.14" x2="138.5" y2="572.06" stroke="#f3b077" stroke-width="0.75" stroke-linecap="butt"/><line x1="137.34" y1="562.5" x2="139.94" y2="562.5" stroke="#f3b077" stroke-width="0.75" stroke-linecap="butt"/><line x1="137.34" y1="572.5" x2="139.94" y2="572.5" stroke="#f3b077" stroke-width="0.75" stroke-linecap="butt"/><line x1="144.5" y1="550.37" x2="144.5" y2="568.09" stroke="#f3b077" stroke-width="0.75" stroke-linecap="butt"/><line x1="143.63" y1="550.5" x2="146.23" y2="550.5" stroke="#f3b077" stroke-width="0.75" stroke-linecap="butt"/><line x1="143.63" y1="568.5" x2="146.23" y2="568.5" stroke="#f3b077" stroke-width="0.75" stroke-linecap="butt"/><line x1="151.5" y1="535.49" x2="151.5" y2="559.59" stroke="#f3b077" stroke-width="0.75" stroke-linecap="butt"/><line x1="149.92" y1="535.5" x2="152.52" y2="535.5" stroke="#f3b077" stroke-width="0.75" stroke-linecap="butt"/><line x1="149.92" y1="559.5" x2="152.52" y2="559.5" stroke="#f3b077" stroke-width="0.75" stroke-linecap="butt"/><line x1="56.5" y1="627.4" x2="56.5" y2="629.52" stroke="#6b6b6b" stroke-width="0.75" stroke-linecap="butt"/><line x1="55.57" y1="627.5" x2="58.17" y2="627.5" stroke="#6b6b6b" stroke-width="0.75" stroke-linecap="butt"/><line x1="55.57" y1="629.5" x2="58.17" y2="629.5" stroke="#6b6b6b" stroke-width="0.75" stroke-linecap="butt"/><line x1="63.5" y1="621.8" x2="63.5" y2="627.47" stroke="#6b6b6b" stroke-width="0.75" stroke-linecap="butt"/><line x1="61.86" y1="621.5" x2="64.46" y2="621.5" stroke="#6b6b6b" stroke-width="0.75" stroke-linecap="butt"/><line x1="61.86" y1="627.5" x2="64.46" y2="627.5" stroke="#6b6b6b" stroke-width="0.75" stroke-linecap="butt"/><line x1="69.5" y1="617.87" x2="69.5" y2="627.08" stroke="#6b6b6b" stroke-width="0.75" stroke-linecap="butt"/><line x1="68.15" y1="617.5" x2="70.75" y2="617.5" stroke="#6b6b6b" stroke-width="0.75" stroke-linecap="butt"/><line x1="68.15" y1="627.5" x2="70.75" y2="627.5" stroke="#6b6b6b" stroke-width="0.75" stroke-linecap="butt"/><line x1="75.5" y1="614.89" x2="75.5" y2="626.23" stroke="#6b6b6b" stroke-width="0.75" stroke-linecap="butt"/><line x1="74.44" y1="614.5" x2="77.04" y2="614.5" stroke="#6b6b6b" stroke-width="0.75" stroke-linecap="butt"/><line x1="74.44" y1="626.5" x2="77.04" y2="626.5" stroke="#6b6b6b" stroke-width="0.75" stroke-linecap="butt"/><line x1="82.5" y1="612.77" x2="82.5" y2="626.23" stroke="#6b6b6b" stroke-width="0.75" stroke-linecap="butt"/><line x1="80.73" y1="612.5" x2="83.33" y2="612.5" stroke="#6b6b6b" stroke-width="0.75" stroke-linecap="butt"/><line x1="80.73" y1="626.5" x2="83.33" y2="626.5" stroke="#6b6b6b" stroke-width="0.75" stroke-linecap="butt"/><line x1="88.5" y1="611.77" x2="88.5" y2="625.95" stroke="#6b6b6b" stroke-width="0.75" stroke-linecap="butt"/><line x1="87.02" y1="611.5" x2="89.62" y2="611.5" stroke="#6b6b6b" stroke-width="0.75" stroke-linecap="butt"/><line x1="87.02" y1="625.5" x2="89.62" y2="625.5" stroke="#6b6b6b" stroke-width="0.75" stroke-linecap="butt"/><line x1="94.5" y1="609.29" x2="94.5" y2="626.3" stroke="#6b6b6b" stroke-width="0.75" stroke-linecap="butt"/><line x1="93.31" y1="609.5" x2="95.91" y2="609.5" stroke="#6b6b6b" stroke-width="0.75" stroke-linecap="butt"/><line x1="93.31" y1="626.5" x2="95.91" y2="626.5" stroke="#6b6b6b" stroke-width="0.75" stroke-linecap="butt"/><line x1="100.5" y1="608.66" x2="100.5" y2="625.66" stroke="#6b6b6b" stroke-width="0.75" stroke-linecap="butt"/><line x1="99.6" y1="608.5" x2="102.2" y2="608.5" stroke="#6b6b6b" stroke-width="0.75" stroke-linecap="butt"/><line x1="99.6" y1="625.5" x2="102.2" y2="625.5" stroke="#6b6b6b" stroke-width="0.75" stroke-linecap="butt"/><line x1="107.5" y1="611.42" x2="107.5" y2="624.17" stroke="#6b6b6b" stroke-width="0.75" stroke-linecap="butt"/><line x1="105.89" y1="611.5" x2="108.49" y2="611.5" stroke="#6b6b6b" stroke-width="0.75" stroke-linecap="butt"/><line x1="105.89" y1="624.5" x2="108.49" y2="624.5" stroke="#6b6b6b" stroke-width="0.75" stroke-linecap="butt"/><line x1="113.5" y1="607.17" x2="113.5" y2="624.17" stroke="#6b6b6b" stroke-width="0.75" stroke-linecap="butt"/><line x1="112.18" y1="607.5" x2="114.78" y2="607.5" stroke="#6b6b6b" stroke-width="0.75" stroke-linecap="butt"/><line x1="112.18" y1="624.5" x2="114.78" y2="624.5" stroke="#6b6b6b" stroke-width="0.75" stroke-linecap="butt"/><line x1="119.5" y1="607.45" x2="119.5" y2="623.04" stroke="#6b6b6b" stroke-width="0.75" stroke-linecap="butt"/><line x1="118.47" y1="607.5" x2="121.07" y2="607.5" stroke="#6b6b6b" stroke-width="0.75" stroke-linecap="butt"/><line x1="118.47" y1="623.5" x2="121.07" y2="623.5" stroke="#6b6b6b" stroke-width="0.75" stroke-linecap="butt"/><line x1="126.5" y1="606.11" x2="126.5" y2="623.11" stroke="#6b6b6b" stroke-width="0.75" stroke-linecap="butt"/><line x1="124.76" y1="606.5" x2="127.36" y2="606.5" stroke="#6b6b6b" stroke-width="0.75" stroke-linecap="butt"/><line x1="124.76" y1="623.5" x2="127.36" y2="623.5" stroke="#6b6b6b" stroke-width="0.75" stroke-linecap="butt"/><line x1="132.5" y1="602.56" x2="132.5" y2="622.4" stroke="#6b6b6b" stroke-width="0.75" stroke-linecap="butt"/><line x1="131.05" y1="602.5" x2="133.65" y2="602.5" stroke="#6b6b6b" stroke-width="0.75" stroke-linecap="butt"/><line x1="131.05" y1="622.5" x2="133.65" y2="622.5" stroke="#6b6b6b" stroke-width="0.75" stroke-linecap="butt"/><line x1="138.5" y1="600.86" x2="138.5" y2="620.7" stroke="#6b6b6b" stroke-width="0.75" stroke-linecap="butt"/><line x1="137.34" y1="600.5" x2="139.94" y2="600.5" stroke="#6b6b6b" stroke-width="0.75" stroke-linecap="butt"/><line x1="137.34" y1="620.5" x2="139.94" y2="620.5" stroke="#6b6b6b" stroke-width="0.75" stroke-linecap="butt"/><line x1="144.5" y1="595.16" x2="144.5" y2="617.83" stroke="#6b6b6b" stroke-width="0.75" stroke-linecap="butt"/><line x1="143.63" y1="595.5" x2="146.23" y2="595.5" stroke="#6b6b6b" stroke-width="0.75" stroke-linecap="butt"/><line x1="143.63" y1="617.5" x2="146.23" y2="617.5" stroke="#6b6b6b" stroke-width="0.75" stroke-linecap="butt"/><line x1="151.5" y1="591.26" x2="151.5" y2="617.48" stroke="#6b6b6b" stroke-width="0.75" stroke-linecap="butt"/><line x1="149.92" y1="591.5" x2="152.52" y2="591.5" stroke="#6b6b6b" stroke-width="0.75" stroke-linecap="butt"/><line x1="149.92" y1="617.5" x2="152.52" y2="617.5" stroke="#6b6b6b" stroke-width="0.75" stroke-linecap="butt"/><polyline points="38,630.8 44.29,630.8 50.58,630.09 56.87,619.92 63.16,602.88 69.45,597.99 75.74,593.95 82.03,598.2 88.32,598.63 94.61,592.25 100.9,591.19 107.19,592.25 113.48,585.84 119.77,580.95 126.06,576.24 132.35,570.92 138.64,567.1 144.93,559.23 151.22,547.54" stroke="#f3b077" stroke-width="1.25" fill="none" stroke-linejoin="miter"/><circle cx="38" cy="630.8" r="1.35" fill="#f3b077"/><circle cx="44.29" cy="630.8" r="1.35" fill="#f3b077"/><circle cx="50.58" cy="630.09" r="1.35" fill="#f3b077"/><circle cx="56.87" cy="619.92" r="1.35" fill="#f3b077"/><circle cx="63.16" cy="602.88" r="1.35" fill="#f3b077"/><circle cx="69.45" cy="597.99" r="1.35" fill="#f3b077"/><circle cx="75.74" cy="593.95" r="1.35" fill="#f3b077"/><circle cx="82.03" cy="598.2" r="1.35" fill="#f3b077"/><circle cx="88.32" cy="598.63" r="1.35" fill="#f3b077"/><circle cx="94.61" cy="592.25" r="1.35" fill="#f3b077"/><circle cx="100.9" cy="591.19" r="1.35" fill="#f3b077"/><circle cx="107.19" cy="592.25" r="1.35" fill="#f3b077"/><circle cx="113.48" cy="585.84" r="1.35" fill="#f3b077"/><circle cx="119.77" cy="580.95" r="1.35" fill="#f3b077"/><circle cx="126.06" cy="576.24" r="1.35" fill="#f3b077"/><circle cx="132.35" cy="570.92" r="1.35" fill="#f3b077"/><circle cx="138.64" cy="567.1" r="1.35" fill="#f3b077"/><circle cx="144.93" cy="559.23" r="1.35" fill="#f3b077"/><circle cx="151.22" cy="547.54" r="1.35" fill="#f3b077"/><polyline points="38,630.8 44.29,630.8 50.58,630.8 56.87,628.46 63.16,624.64 69.45,622.47 75.74,620.56 82.03,619.5 88.32,618.86 94.61,617.8 100.9,617.16 107.19,617.8 113.48,615.67 119.77,615.25 126.06,614.61 132.35,612.48 138.64,610.78 144.93,606.5 151.22,604.37" stroke="#6b6b6b" stroke-width="1.25" fill="none" stroke-linejoin="miter"/><circle cx="38" cy="630.8" r="1.35" fill="#6b6b6b"/><circle cx="44.29" cy="630.8" r="1.35" fill="#6b6b6b"/><circle cx="50.58" cy="630.8" r="1.35" fill="#6b6b6b"/><circle cx="56.87" cy="628.46" r="1.35" fill="#6b6b6b"/><circle cx="63.16" cy="624.64" r="1.35" fill="#6b6b6b"/><circle cx="69.45" cy="622.47" r="1.35" fill="#6b6b6b"/><circle cx="75.74" cy="620.56" r="1.35" fill="#6b6b6b"/><circle cx="82.03" cy="619.5" r="1.35" fill="#6b6b6b"/><circle cx="88.32" cy="618.86" r="1.35" fill="#6b6b6b"/><circle cx="94.61" cy="617.8" r="1.35" fill="#6b6b6b"/><circle cx="100.9" cy="617.16" r="1.35" fill="#6b6b6b"/><circle cx="107.19" cy="617.8" r="1.35" fill="#6b6b6b"/><circle cx="113.48" cy="615.67" r="1.35" fill="#6b6b6b"/><circle cx="119.77" cy="615.25" r="1.35" fill="#6b6b6b"/><circle cx="126.06" cy="614.61" r="1.35" fill="#6b6b6b"/><circle cx="132.35" cy="612.48" r="1.35" fill="#6b6b6b"/><circle cx="138.64" cy="610.78" r="1.35" fill="#6b6b6b"/><circle cx="144.93" cy="606.5" r="1.35" fill="#6b6b6b"/><circle cx="151.22" cy="604.37" r="1.35" fill="#6b6b6b"/><polyline points="155.3,548 159.3,548 159.3,604.7 155.3,604.7" stroke="#444" stroke-width="0.9" fill="none" stroke-linejoin="miter"/><text x="164.3" y="576" font-size="6" font-weight="normal" text-anchor="middle" fill="#000" transform="rotate(90 164.3 576)">&lt;0.0001</text><line x1="47.2" y1="526.5" x2="54.7" y2="526.5" stroke="#6b6b6b" stroke-width="1" stroke-linecap="butt"/><circle cx="50.95" cy="526.5" r="1.3" fill="#6b6b6b"/><text x="59.1" y="528.8" font-size="6.5" font-weight="normal" text-anchor="start" fill="#000">DMSO</text><line x1="47.2" y1="535.5" x2="54.7" y2="535.5" stroke="#f3b077" stroke-width="1" stroke-linecap="butt"/><circle cx="50.95" cy="535.8" r="1.3" fill="#f3b077"/><text x="59.1" y="538.1" font-size="6.5" font-weight="normal" text-anchor="start" fill="#000">TAIII</text><text x="9.9" y="576.8" font-size="7.95" font-weight="bold" text-anchor="middle" fill="#000" transform="rotate(-90 9.9 576.8)" stroke="#000" stroke-width="0.15">Green + Red Area / Red Area</text><text x="18.8" y="575.6" font-size="7.9" font-weight="bold" text-anchor="middle" fill="#000" transform="rotate(-90 18.8 575.6)" stroke="#000" stroke-width="0.15">Normalized to 0h</text><text x="209.5" y="641.5" font-size="7" font-weight="bold" text-anchor="middle" fill="#000" stroke="#000" stroke-width="0.15">0</text><text x="241.4" y="641.5" font-size="7" font-weight="bold" text-anchor="middle" fill="#000" stroke="#000" stroke-width="0.15">10</text><text x="273.3" y="641.5" font-size="7" font-weight="bold" text-anchor="middle" fill="#000" stroke="#000" stroke-width="0.15">20</text><text x="305.2" y="641.5" font-size="7" font-weight="bold" text-anchor="middle" fill="#000" stroke="#000" stroke-width="0.15">30</text><text x="337.1" y="641.5" font-size="7" font-weight="bold" text-anchor="middle" fill="#000" stroke="#000" stroke-width="0.15">40</text><text x="273.6" y="512.7" font-size="7.8" font-weight="bold" text-anchor="middle" fill="#000" stroke="#000" stroke-width="0.15">E:T=1:4</text><text x="273.6" y="651.9" font-size="6.9" font-weight="bold" text-anchor="middle" fill="#000" stroke="#000" stroke-width="0.15">Time [Hours]</text><line x1="228.5" y1="622.4" x2="228.5" y2="627.73" stroke="#f3b077" stroke-width="0.75" stroke-linecap="butt"/><line x1="227.34" y1="622.5" x2="229.94" y2="622.5" stroke="#f3b077" stroke-width="0.75" stroke-linecap="butt"/><line x1="227.34" y1="627.5" x2="229.94" y2="627.5" stroke="#f3b077" stroke-width="0.75" stroke-linecap="butt"/><line x1="235.5" y1="613.69" x2="235.5" y2="616.57" stroke="#f3b077" stroke-width="0.75" stroke-linecap="butt"/><line x1="233.72" y1="613.5" x2="236.32" y2="613.5" stroke="#f3b077" stroke-width="0.75" stroke-linecap="butt"/><line x1="233.72" y1="616.5" x2="236.32" y2="616.5" stroke="#f3b077" stroke-width="0.75" stroke-linecap="butt"/><line x1="241.5" y1="610.52" x2="241.5" y2="613.4" stroke="#f3b077" stroke-width="0.75" stroke-linecap="butt"/><line x1="240.1" y1="610.5" x2="242.7" y2="610.5" stroke="#f3b077" stroke-width="0.75" stroke-linecap="butt"/><line x1="240.1" y1="613.5" x2="242.7" y2="613.5" stroke="#f3b077" stroke-width="0.75" stroke-linecap="butt"/><line x1="247.5" y1="596.05" x2="247.5" y2="608.72" stroke="#f3b077" stroke-width="0.75" stroke-linecap="butt"/><line x1="246.48" y1="596.5" x2="249.08" y2="596.5" stroke="#f3b077" stroke-width="0.75" stroke-linecap="butt"/><line x1="246.48" y1="608.5" x2="249.08" y2="608.5" stroke="#f3b077" stroke-width="0.75" stroke-linecap="butt"/><line x1="254.5" y1="592.88" x2="254.5" y2="606.56" stroke="#f3b077" stroke-width="0.75" stroke-linecap="butt"/><line x1="252.86" y1="592.5" x2="255.46" y2="592.5" stroke="#f3b077" stroke-width="0.75" stroke-linecap="butt"/><line x1="252.86" y1="606.5" x2="255.46" y2="606.5" stroke="#f3b077" stroke-width="0.75" stroke-linecap="butt"/><line x1="260.5" y1="586.76" x2="260.5" y2="601.16" stroke="#f3b077" stroke-width="0.75" stroke-linecap="butt"/><line x1="259.24" y1="586.5" x2="261.84" y2="586.5" stroke="#f3b077" stroke-width="0.75" stroke-linecap="butt"/><line x1="259.24" y1="601.5" x2="261.84" y2="601.5" stroke="#f3b077" stroke-width="0.75" stroke-linecap="butt"/><line x1="266.5" y1="582.08" x2="266.5" y2="599.36" stroke="#f3b077" stroke-width="0.75" stroke-linecap="butt"/><line x1="265.62" y1="582.5" x2="268.22" y2="582.5" stroke="#f3b077" stroke-width="0.75" stroke-linecap="butt"/><line x1="265.62" y1="599.5" x2="268.22" y2="599.5" stroke="#f3b077" stroke-width="0.75" stroke-linecap="butt"/><line x1="273.5" y1="577.18" x2="273.5" y2="596.62" stroke="#f3b077" stroke-width="0.75" stroke-linecap="butt"/><line x1="272" y1="577.5" x2="274.6" y2="577.5" stroke="#f3b077" stroke-width="0.75" stroke-linecap="butt"/><line x1="272" y1="596.5" x2="274.6" y2="596.5" stroke="#f3b077" stroke-width="0.75" stroke-linecap="butt"/><line x1="279.5" y1="571.86" x2="279.5" y2="597.78" stroke="#f3b077" stroke-width="0.75" stroke-linecap="butt"/><line x1="278.38" y1="571.5" x2="280.98" y2="571.5" stroke="#f3b077" stroke-width="0.75" stroke-linecap="butt"/><line x1="278.38" y1="597.5" x2="280.98" y2="597.5" stroke="#f3b077" stroke-width="0.75" stroke-linecap="butt"/><line x1="286.5" y1="565.88" x2="286.5" y2="593.24" stroke="#f3b077" stroke-width="0.75" stroke-linecap="butt"/><line x1="284.76" y1="565.5" x2="287.36" y2="565.5" stroke="#f3b077" stroke-width="0.75" stroke-linecap="butt"/><line x1="284.76" y1="593.5" x2="287.36" y2="593.5" stroke="#f3b077" stroke-width="0.75" stroke-linecap="butt"/><line x1="292.5" y1="561.06" x2="292.5" y2="594.18" stroke="#f3b077" stroke-width="0.75" stroke-linecap="butt"/><line x1="291.14" y1="561.5" x2="293.74" y2="561.5" stroke="#f3b077" stroke-width="0.75" stroke-linecap="butt"/><line x1="291.14" y1="594.5" x2="293.74" y2="594.5" stroke="#f3b077" stroke-width="0.75" stroke-linecap="butt"/><line x1="298.5" y1="565.16" x2="298.5" y2="591.08" stroke="#f3b077" stroke-width="0.75" stroke-linecap="butt"/><line x1="297.52" y1="565.5" x2="300.12" y2="565.5" stroke="#f3b077" stroke-width="0.75" stroke-linecap="butt"/><line x1="297.52" y1="591.5" x2="300.12" y2="591.5" stroke="#f3b077" stroke-width="0.75" stroke-linecap="butt"/><line x1="305.5" y1="563" x2="305.5" y2="580.28" stroke="#f3b077" stroke-width="0.75" stroke-linecap="butt"/><line x1="303.9" y1="563.5" x2="306.5" y2="563.5" stroke="#f3b077" stroke-width="0.75" stroke-linecap="butt"/><line x1="303.9" y1="580.5" x2="306.5" y2="580.5" stroke="#f3b077" stroke-width="0.75" stroke-linecap="butt"/><line x1="311.5" y1="555.15" x2="311.5" y2="577.62" stroke="#f3b077" stroke-width="0.75" stroke-linecap="butt"/><line x1="310.28" y1="555.5" x2="312.88" y2="555.5" stroke="#f3b077" stroke-width="0.75" stroke-linecap="butt"/><line x1="310.28" y1="577.5" x2="312.88" y2="577.5" stroke="#f3b077" stroke-width="0.75" stroke-linecap="butt"/><line x1="317.5" y1="548.02" x2="317.5" y2="573.37" stroke="#f3b077" stroke-width="0.75" stroke-linecap="butt"/><line x1="316.66" y1="548.5" x2="319.26" y2="548.5" stroke="#f3b077" stroke-width="0.75" stroke-linecap="butt"/><line x1="316.66" y1="573.5" x2="319.26" y2="573.5" stroke="#f3b077" stroke-width="0.75" stroke-linecap="butt"/><line x1="324.5" y1="544.28" x2="324.5" y2="567.32" stroke="#f3b077" stroke-width="0.75" stroke-linecap="butt"/><line x1="323.04" y1="544.5" x2="325.64" y2="544.5" stroke="#f3b077" stroke-width="0.75" stroke-linecap="butt"/><line x1="323.04" y1="567.5" x2="325.64" y2="567.5" stroke="#f3b077" stroke-width="0.75" stroke-linecap="butt"/><line x1="235.5" y1="626.72" x2="235.5" y2="628.88" stroke="#6b6b6b" stroke-width="0.75" stroke-linecap="butt"/><line x1="233.72" y1="626.5" x2="236.32" y2="626.5" stroke="#6b6b6b" stroke-width="0.75" stroke-linecap="butt"/><line x1="233.72" y1="628.5" x2="236.32" y2="628.5" stroke="#6b6b6b" stroke-width="0.75" stroke-linecap="butt"/><line x1="241.5" y1="625.64" x2="241.5" y2="627.8" stroke="#6b6b6b" stroke-width="0.75" stroke-linecap="butt"/><line x1="240.1" y1="625.5" x2="242.7" y2="625.5" stroke="#6b6b6b" stroke-width="0.75" stroke-linecap="butt"/><line x1="240.1" y1="627.5" x2="242.7" y2="627.5" stroke="#6b6b6b" stroke-width="0.75" stroke-linecap="butt"/><line x1="247.5" y1="623.48" x2="247.5" y2="627.8" stroke="#6b6b6b" stroke-width="0.75" stroke-linecap="butt"/><line x1="246.48" y1="623.5" x2="249.08" y2="623.5" stroke="#6b6b6b" stroke-width="0.75" stroke-linecap="butt"/><line x1="246.48" y1="627.5" x2="249.08" y2="627.5" stroke="#6b6b6b" stroke-width="0.75" stroke-linecap="butt"/><line x1="254.5" y1="621.75" x2="254.5" y2="627.51" stroke="#6b6b6b" stroke-width="0.75" stroke-linecap="butt"/><line x1="252.86" y1="621.5" x2="255.46" y2="621.5" stroke="#6b6b6b" stroke-width="0.75" stroke-linecap="butt"/><line x1="252.86" y1="627.5" x2="255.46" y2="627.5" stroke="#6b6b6b" stroke-width="0.75" stroke-linecap="butt"/><line x1="260.5" y1="619.88" x2="260.5" y2="627.08" stroke="#6b6b6b" stroke-width="0.75" stroke-linecap="butt"/><line x1="259.24" y1="619.5" x2="261.84" y2="619.5" stroke="#6b6b6b" stroke-width="0.75" stroke-linecap="butt"/><line x1="259.24" y1="627.5" x2="261.84" y2="627.5" stroke="#6b6b6b" stroke-width="0.75" stroke-linecap="butt"/><line x1="266.5" y1="618.94" x2="266.5" y2="626.86" stroke="#6b6b6b" stroke-width="0.75" stroke-linecap="butt"/><line x1="265.62" y1="618.5" x2="268.22" y2="618.5" stroke="#6b6b6b" stroke-width="0.75" stroke-linecap="butt"/><line x1="265.62" y1="626.5" x2="268.22" y2="626.5" stroke="#6b6b6b" stroke-width="0.75" stroke-linecap="butt"/><line x1="273.5" y1="617.72" x2="273.5" y2="626.36" stroke="#6b6b6b" stroke-width="0.75" stroke-linecap="butt"/><line x1="272" y1="617.5" x2="274.6" y2="617.5" stroke="#6b6b6b" stroke-width="0.75" stroke-linecap="butt"/><line x1="272" y1="626.5" x2="274.6" y2="626.5" stroke="#6b6b6b" stroke-width="0.75" stroke-linecap="butt"/><line x1="279.5" y1="615.99" x2="279.5" y2="626.07" stroke="#6b6b6b" stroke-width="0.75" stroke-linecap="butt"/><line x1="278.38" y1="615.5" x2="280.98" y2="615.5" stroke="#6b6b6b" stroke-width="0.75" stroke-linecap="butt"/><line x1="278.38" y1="626.5" x2="280.98" y2="626.5" stroke="#6b6b6b" stroke-width="0.75" stroke-linecap="butt"/><line x1="286.5" y1="614.19" x2="286.5" y2="625.71" stroke="#6b6b6b" stroke-width="0.75" stroke-linecap="butt"/><line x1="284.76" y1="614.5" x2="287.36" y2="614.5" stroke="#6b6b6b" stroke-width="0.75" stroke-linecap="butt"/><line x1="284.76" y1="625.5" x2="287.36" y2="625.5" stroke="#6b6b6b" stroke-width="0.75" stroke-linecap="butt"/><line x1="292.5" y1="613.54" x2="292.5" y2="625.06" stroke="#6b6b6b" stroke-width="0.75" stroke-linecap="butt"/><line x1="291.14" y1="613.5" x2="293.74" y2="613.5" stroke="#6b6b6b" stroke-width="0.75" stroke-linecap="butt"/><line x1="291.14" y1="625.5" x2="293.74" y2="625.5" stroke="#6b6b6b" stroke-width="0.75" stroke-linecap="butt"/><line x1="298.5" y1="612.39" x2="298.5" y2="625.35" stroke="#6b6b6b" stroke-width="0.75" stroke-linecap="butt"/><line x1="297.52" y1="612.5" x2="300.12" y2="612.5" stroke="#6b6b6b" stroke-width="0.75" stroke-linecap="butt"/><line x1="297.52" y1="625.5" x2="300.12" y2="625.5" stroke="#6b6b6b" stroke-width="0.75" stroke-linecap="butt"/><line x1="305.5" y1="610.95" x2="305.5" y2="624.78" stroke="#6b6b6b" stroke-width="0.75" stroke-linecap="butt"/><line x1="303.9" y1="610.5" x2="306.5" y2="610.5" stroke="#6b6b6b" stroke-width="0.75" stroke-linecap="butt"/><line x1="303.9" y1="624.5" x2="306.5" y2="624.5" stroke="#6b6b6b" stroke-width="0.75" stroke-linecap="butt"/><line x1="311.5" y1="610.23" x2="311.5" y2="624.63" stroke="#6b6b6b" stroke-width="0.75" stroke-linecap="butt"/><line x1="310.28" y1="610.5" x2="312.88" y2="610.5" stroke="#6b6b6b" stroke-width="0.75" stroke-linecap="butt"/><line x1="310.28" y1="624.5" x2="312.88" y2="624.5" stroke="#6b6b6b" stroke-width="0.75" stroke-linecap="butt"/><line x1="317.5" y1="609.73" x2="317.5" y2="623.41" stroke="#6b6b6b" stroke-width="0.75" stroke-linecap="butt"/><line x1="316.66" y1="609.5" x2="319.26" y2="609.5" stroke="#6b6b6b" stroke-width="0.75" stroke-linecap="butt"/><line x1="316.66" y1="623.5" x2="319.26" y2="623.5" stroke="#6b6b6b" stroke-width="0.75" stroke-linecap="butt"/><line x1="324.5" y1="607.21" x2="324.5" y2="623.05" stroke="#6b6b6b" stroke-width="0.75" stroke-linecap="butt"/><line x1="323.04" y1="607.5" x2="325.64" y2="607.5" stroke="#6b6b6b" stroke-width="0.75" stroke-linecap="butt"/><line x1="323.04" y1="623.5" x2="325.64" y2="623.5" stroke="#6b6b6b" stroke-width="0.75" stroke-linecap="butt"/><polyline points="209.5,631.4 215.88,631.4 222.26,630.68 228.64,625.06 235.02,615.13 241.4,611.96 247.78,602.38 254.16,599.72 260.54,593.96 266.92,590.72 273.3,586.9 279.68,584.82 286.06,579.56 292.44,577.62 298.82,578.12 305.2,571.64 311.58,566.38 317.96,560.7 324.34,555.8" stroke="#f3b077" stroke-width="1.25" fill="none" stroke-linejoin="miter"/><circle cx="209.5" cy="631.4" r="1.35" fill="#f3b077"/><circle cx="215.88" cy="631.4" r="1.35" fill="#f3b077"/><circle cx="222.26" cy="630.68" r="1.35" fill="#f3b077"/><circle cx="228.64" cy="625.06" r="1.35" fill="#f3b077"/><circle cx="235.02" cy="615.13" r="1.35" fill="#f3b077"/><circle cx="241.4" cy="611.96" r="1.35" fill="#f3b077"/><circle cx="247.78" cy="602.38" r="1.35" fill="#f3b077"/><circle cx="254.16" cy="599.72" r="1.35" fill="#f3b077"/><circle cx="260.54" cy="593.96" r="1.35" fill="#f3b077"/><circle cx="266.92" cy="590.72" r="1.35" fill="#f3b077"/><circle cx="273.3" cy="586.9" r="1.35" fill="#f3b077"/><circle cx="279.68" cy="584.82" r="1.35" fill="#f3b077"/><circle cx="286.06" cy="579.56" r="1.35" fill="#f3b077"/><circle cx="292.44" cy="577.62" r="1.35" fill="#f3b077"/><circle cx="298.82" cy="578.12" r="1.35" fill="#f3b077"/><circle cx="305.2" cy="571.64" r="1.35" fill="#f3b077"/><circle cx="311.58" cy="566.38" r="1.35" fill="#f3b077"/><circle cx="317.96" cy="560.7" r="1.35" fill="#f3b077"/><circle cx="324.34" cy="555.8" r="1.35" fill="#f3b077"/><polyline points="209.5,631.4 215.88,631.4 222.26,631.4 228.64,630.54 235.02,627.8 241.4,626.72 247.78,625.64 254.16,624.63 260.54,623.48 266.92,622.9 273.3,622.04 279.68,621.03 286.06,619.95 292.44,619.3 298.82,618.87 305.2,617.86 311.58,617.43 317.96,616.57 324.34,615.13" stroke="#6b6b6b" stroke-width="1.25" fill="none" stroke-linejoin="miter"/><circle cx="209.5" cy="631.4" r="1.35" fill="#6b6b6b"/><circle cx="215.88" cy="631.4" r="1.35" fill="#6b6b6b"/><circle cx="222.26" cy="631.4" r="1.35" fill="#6b6b6b"/><circle cx="228.64" cy="630.54" r="1.35" fill="#6b6b6b"/><circle cx="235.02" cy="627.8" r="1.35" fill="#6b6b6b"/><circle cx="241.4" cy="626.72" r="1.35" fill="#6b6b6b"/><circle cx="247.78" cy="625.64" r="1.35" fill="#6b6b6b"/><circle cx="254.16" cy="624.63" r="1.35" fill="#6b6b6b"/><circle cx="260.54" cy="623.48" r="1.35" fill="#6b6b6b"/><circle cx="266.92" cy="622.9" r="1.35" fill="#6b6b6b"/><circle cx="273.3" cy="622.04" r="1.35" fill="#6b6b6b"/><circle cx="279.68" cy="621.03" r="1.35" fill="#6b6b6b"/><circle cx="286.06" cy="619.95" r="1.35" fill="#6b6b6b"/><circle cx="292.44" cy="619.3" r="1.35" fill="#6b6b6b"/><circle cx="298.82" cy="618.87" r="1.35" fill="#6b6b6b"/><circle cx="305.2" cy="617.86" r="1.35" fill="#6b6b6b"/><circle cx="311.58" cy="617.43" r="1.35" fill="#6b6b6b"/><circle cx="317.96" cy="616.57" r="1.35" fill="#6b6b6b"/><circle cx="324.34" cy="615.13" r="1.35" fill="#6b6b6b"/><polyline points="326.6,555.2 330.6,555.2 330.6,615.8 326.6,615.8" stroke="#444" stroke-width="0.9" fill="none" stroke-linejoin="miter"/><text x="337.6" y="586.2" font-size="6" font-weight="normal" text-anchor="middle" fill="#000" transform="rotate(90 337.6 586.2)">&lt;0.0001</text><line x1="219.2" y1="526.5" x2="226.4" y2="526.5" stroke="#6b6b6b" stroke-width="1" stroke-linecap="butt"/><circle cx="222.8" cy="526" r="1.3" fill="#6b6b6b"/><text x="230.9" y="528.3" font-size="6.5" font-weight="normal" text-anchor="start" fill="#000">DMSO</text><line x1="219.2" y1="535.5" x2="226.4" y2="535.5" stroke="#f3b077" stroke-width="1" stroke-linecap="butt"/><circle cx="222.8" cy="535.1" r="1.3" fill="#f3b077"/><text x="230.9" y="537.4" font-size="6.5" font-weight="normal" text-anchor="start" fill="#000">TAIII</text><text x="180.6" y="576.5" font-size="7.95" font-weight="bold" text-anchor="middle" fill="#000" transform="rotate(-90 180.6 576.5)" stroke="#000" stroke-width="0.15">Green + Red Area / Red Area</text><text x="190.6" y="575.6" font-size="7.9" font-weight="bold" text-anchor="middle" fill="#000" transform="rotate(-90 190.6 575.6)" stroke="#000" stroke-width="0.15">Normalized to 0h</text><line x1="386.1" y1="35.7" x2="386.1" y2="115.3" stroke="#555" stroke-width="1.4" stroke-linecap="butt"/><line x1="383.5" y1="114.5" x2="386.1" y2="114.5" stroke="#555" stroke-width="0.9" stroke-linecap="butt"/><text x="382.7" y="117.4" font-size="7.77" font-weight="bold" text-anchor="end" fill="#000" stroke="#000" stroke-width="0.15">0</text><line x1="383.5" y1="95.5" x2="386.1" y2="95.5" stroke="#555" stroke-width="0.9" stroke-linecap="butt"/><text x="382.7" y="97.75" font-size="7.77" font-weight="bold" text-anchor="end" fill="#000" stroke="#000" stroke-width="0.15">3</text><line x1="383.5" y1="75.5" x2="386.1" y2="75.5" stroke="#555" stroke-width="0.9" stroke-linecap="butt"/><text x="382.7" y="78.1" font-size="7.77" font-weight="bold" text-anchor="end" fill="#000" stroke="#000" stroke-width="0.15">6</text><line x1="383.5" y1="55.5" x2="386.1" y2="55.5" stroke="#555" stroke-width="0.9" stroke-linecap="butt"/><text x="382.7" y="58.45" font-size="7.77" font-weight="bold" text-anchor="end" fill="#000" stroke="#000" stroke-width="0.15">9</text><line x1="383.5" y1="36.5" x2="386.1" y2="36.5" stroke="#555" stroke-width="0.9" stroke-linecap="butt"/><text x="382.7" y="38.8" font-size="7.77" font-weight="bold" text-anchor="end" fill="#000" stroke="#000" stroke-width="0.15">12</text><line x1="383.2" y1="114.7" x2="438.8" y2="114.7" stroke="#555" stroke-width="1.4" stroke-linecap="butt"/><line x1="401.5" y1="114.7" x2="401.5" y2="117.7" stroke="#555" stroke-width="0.9" stroke-linecap="butt"/><line x1="423.5" y1="114.7" x2="423.5" y2="117.7" stroke="#555" stroke-width="0.9" stroke-linecap="butt"/><line x1="508.5" y1="30.1" x2="508.5" y2="97.6" stroke="#1a1a1a" stroke-width="1.25" stroke-linecap="butt"/><line x1="506.2" y1="97.5" x2="508.8" y2="97.5" stroke="#1a1a1a" stroke-width="0.9" stroke-linecap="butt"/><text x="505.4" y="99.7" font-size="7.77" font-weight="bold" text-anchor="end" fill="#000" stroke="#000" stroke-width="0.15">0</text><line x1="506.2" y1="83.5" x2="508.8" y2="83.5" stroke="#1a1a1a" stroke-width="0.9" stroke-linecap="butt"/><text x="505.4" y="86.42" font-size="7.77" font-weight="bold" text-anchor="end" fill="#000" stroke="#000" stroke-width="0.15">25</text><line x1="506.2" y1="70.5" x2="508.8" y2="70.5" stroke="#1a1a1a" stroke-width="0.9" stroke-linecap="butt"/><text x="505.4" y="73.14" font-size="7.77" font-weight="bold" text-anchor="end" fill="#000" stroke="#000" stroke-width="0.15">50</text><line x1="506.2" y1="57.5" x2="508.8" y2="57.5" stroke="#1a1a1a" stroke-width="0.9" stroke-linecap="butt"/><text x="505.4" y="59.86" font-size="7.77" font-weight="bold" text-anchor="end" fill="#000" stroke="#000" stroke-width="0.15">75</text><line x1="506.2" y1="43.5" x2="508.8" y2="43.5" stroke="#1a1a1a" stroke-width="0.9" stroke-linecap="butt"/><text x="505.4" y="46.58" font-size="7.77" font-weight="bold" text-anchor="end" fill="#000" stroke="#000" stroke-width="0.15">100</text><line x1="506.2" y1="30.5" x2="508.8" y2="30.5" stroke="#1a1a1a" stroke-width="0.9" stroke-linecap="butt"/><text x="505.4" y="33.3" font-size="7.77" font-weight="bold" text-anchor="end" fill="#000" stroke="#000" stroke-width="0.15">125</text><line x1="508.8" y1="97.5" x2="640.3" y2="97.5" stroke="#1a1a1a" stroke-width="1.25" stroke-linecap="butt"/><line x1="529.5" y1="97.2" x2="529.5" y2="99.6" stroke="#1a1a1a" stroke-width="0.9" stroke-linecap="butt"/><line x1="559.5" y1="97.2" x2="559.5" y2="99.6" stroke="#1a1a1a" stroke-width="0.9" stroke-linecap="butt"/><line x1="589.5" y1="97.2" x2="589.5" y2="99.6" stroke="#1a1a1a" stroke-width="0.9" stroke-linecap="butt"/><line x1="619.5" y1="97.2" x2="619.5" y2="99.6" stroke="#1a1a1a" stroke-width="0.9" stroke-linecap="butt"/><line x1="508.5" y1="139.3" x2="508.5" y2="206.8" stroke="#1a1a1a" stroke-width="1.25" stroke-linecap="butt"/><line x1="506.2" y1="206.5" x2="508.8" y2="206.5" stroke="#1a1a1a" stroke-width="0.9" stroke-linecap="butt"/><text x="505.4" y="208.9" font-size="7.77" font-weight="bold" text-anchor="end" fill="#000" stroke="#000" stroke-width="0.15">0</text><line x1="506.2" y1="192.5" x2="508.8" y2="192.5" stroke="#1a1a1a" stroke-width="0.9" stroke-linecap="butt"/><text x="505.4" y="195.62" font-size="7.77" font-weight="bold" text-anchor="end" fill="#000" stroke="#000" stroke-width="0.15">25</text><line x1="506.2" y1="179.5" x2="508.8" y2="179.5" stroke="#1a1a1a" stroke-width="0.9" stroke-linecap="butt"/><text x="505.4" y="182.34" font-size="7.77" font-weight="bold" text-anchor="end" fill="#000" stroke="#000" stroke-width="0.15">50</text><line x1="506.2" y1="166.5" x2="508.8" y2="166.5" stroke="#1a1a1a" stroke-width="0.9" stroke-linecap="butt"/><text x="505.4" y="169.06" font-size="7.77" font-weight="bold" text-anchor="end" fill="#000" stroke="#000" stroke-width="0.15">75</text><line x1="506.2" y1="153.5" x2="508.8" y2="153.5" stroke="#1a1a1a" stroke-width="0.9" stroke-linecap="butt"/><text x="505.4" y="155.78" font-size="7.77" font-weight="bold" text-anchor="end" fill="#000" stroke="#000" stroke-width="0.15">100</text><line x1="506.2" y1="139.5" x2="508.8" y2="139.5" stroke="#1a1a1a" stroke-width="0.9" stroke-linecap="butt"/><text x="505.4" y="142.5" font-size="7.77" font-weight="bold" text-anchor="end" fill="#000" stroke="#000" stroke-width="0.15">125</text><line x1="508.8" y1="206.5" x2="640.3" y2="206.5" stroke="#1a1a1a" stroke-width="1.25" stroke-linecap="butt"/><line x1="529.5" y1="206.4" x2="529.5" y2="208.8" stroke="#1a1a1a" stroke-width="0.9" stroke-linecap="butt"/><line x1="559.5" y1="206.4" x2="559.5" y2="208.8" stroke="#1a1a1a" stroke-width="0.9" stroke-linecap="butt"/><line x1="589.5" y1="206.4" x2="589.5" y2="208.8" stroke="#1a1a1a" stroke-width="0.9" stroke-linecap="butt"/><line x1="619.5" y1="206.4" x2="619.5" y2="208.8" stroke="#1a1a1a" stroke-width="0.9" stroke-linecap="butt"/><line x1="508.5" y1="278.1" x2="508.5" y2="341.5" stroke="#1a1a1a" stroke-width="1.25" stroke-linecap="butt"/><line x1="505.9" y1="340.5" x2="508.5" y2="340.5" stroke="#1a1a1a" stroke-width="0.9" stroke-linecap="butt"/><text x="505.1" y="343.6" font-size="7.77" font-weight="bold" text-anchor="end" fill="#000" stroke="#000" stroke-width="0.15">3</text><line x1="505.9" y1="325.5" x2="508.5" y2="325.5" stroke="#1a1a1a" stroke-width="0.9" stroke-linecap="butt"/><text x="505.1" y="328.02" font-size="7.77" font-weight="bold" text-anchor="end" fill="#000" stroke="#000" stroke-width="0.15">4</text><line x1="505.9" y1="309.5" x2="508.5" y2="309.5" stroke="#1a1a1a" stroke-width="0.9" stroke-linecap="butt"/><text x="505.1" y="312.45" font-size="7.77" font-weight="bold" text-anchor="end" fill="#000" stroke="#000" stroke-width="0.15">5</text><line x1="505.9" y1="294.5" x2="508.5" y2="294.5" stroke="#1a1a1a" stroke-width="0.9" stroke-linecap="butt"/><text x="505.1" y="296.88" font-size="7.77" font-weight="bold" text-anchor="end" fill="#000" stroke="#000" stroke-width="0.15">6</text><line x1="505.9" y1="278.5" x2="508.5" y2="278.5" stroke="#1a1a1a" stroke-width="0.9" stroke-linecap="butt"/><text x="505.1" y="281.3" font-size="7.77" font-weight="bold" text-anchor="end" fill="#000" stroke="#000" stroke-width="0.15">7</text><line x1="508.5" y1="340.5" x2="669.2" y2="340.5" stroke="#1a1a1a" stroke-width="1.25" stroke-linecap="butt"/><line x1="520.5" y1="340.9" x2="520.5" y2="343.3" stroke="#1a1a1a" stroke-width="0.9" stroke-linecap="butt"/><line x1="537.5" y1="340.9" x2="537.5" y2="343.3" stroke="#1a1a1a" stroke-width="0.9" stroke-linecap="butt"/><line x1="555.5" y1="340.9" x2="555.5" y2="343.3" stroke="#1a1a1a" stroke-width="0.9" stroke-linecap="butt"/><line x1="573.5" y1="340.9" x2="573.5" y2="343.3" stroke="#1a1a1a" stroke-width="0.9" stroke-linecap="butt"/><line x1="603.5" y1="340.9" x2="603.5" y2="343.3" stroke="#1a1a1a" stroke-width="0.9" stroke-linecap="butt"/><line x1="621.5" y1="340.9" x2="621.5" y2="343.3" stroke="#1a1a1a" stroke-width="0.9" stroke-linecap="butt"/><line x1="639.5" y1="340.9" x2="639.5" y2="343.3" stroke="#1a1a1a" stroke-width="0.9" stroke-linecap="butt"/><line x1="657.5" y1="340.9" x2="657.5" y2="343.3" stroke="#1a1a1a" stroke-width="0.9" stroke-linecap="butt"/><line x1="508.5" y1="407.1" x2="508.5" y2="470.6" stroke="#1a1a1a" stroke-width="1.25" stroke-linecap="butt"/><line x1="505.9" y1="470.5" x2="508.5" y2="470.5" stroke="#1a1a1a" stroke-width="0.9" stroke-linecap="butt"/><text x="505.1" y="472.7" font-size="7.77" font-weight="bold" text-anchor="end" fill="#000" stroke="#000" stroke-width="0.15">8</text><line x1="505.9" y1="457.5" x2="508.5" y2="457.5" stroke="#1a1a1a" stroke-width="0.9" stroke-linecap="butt"/><text x="505.1" y="460.22" font-size="7.77" font-weight="bold" text-anchor="end" fill="#000" stroke="#000" stroke-width="0.15">10</text><line x1="505.9" y1="445.5" x2="508.5" y2="445.5" stroke="#1a1a1a" stroke-width="0.9" stroke-linecap="butt"/><text x="505.1" y="447.74" font-size="7.77" font-weight="bold" text-anchor="end" fill="#000" stroke="#000" stroke-width="0.15">12</text><line x1="505.9" y1="432.5" x2="508.5" y2="432.5" stroke="#1a1a1a" stroke-width="0.9" stroke-linecap="butt"/><text x="505.1" y="435.26" font-size="7.77" font-weight="bold" text-anchor="end" fill="#000" stroke="#000" stroke-width="0.15">14</text><line x1="505.9" y1="420.5" x2="508.5" y2="420.5" stroke="#1a1a1a" stroke-width="0.9" stroke-linecap="butt"/><text x="505.1" y="422.78" font-size="7.77" font-weight="bold" text-anchor="end" fill="#000" stroke="#000" stroke-width="0.15">16</text><line x1="505.9" y1="407.5" x2="508.5" y2="407.5" stroke="#1a1a1a" stroke-width="0.9" stroke-linecap="butt"/><text x="505.1" y="410.3" font-size="7.77" font-weight="bold" text-anchor="end" fill="#000" stroke="#000" stroke-width="0.15">18</text><line x1="508.5" y1="470.5" x2="669.2" y2="470.5" stroke="#1a1a1a" stroke-width="1.25" stroke-linecap="butt"/><line x1="520.5" y1="470" x2="520.5" y2="472.4" stroke="#1a1a1a" stroke-width="0.9" stroke-linecap="butt"/><line x1="537.5" y1="470" x2="537.5" y2="472.4" stroke="#1a1a1a" stroke-width="0.9" stroke-linecap="butt"/><line x1="555.5" y1="470" x2="555.5" y2="472.4" stroke="#1a1a1a" stroke-width="0.9" stroke-linecap="butt"/><line x1="573.5" y1="470" x2="573.5" y2="472.4" stroke="#1a1a1a" stroke-width="0.9" stroke-linecap="butt"/><line x1="603.5" y1="470" x2="603.5" y2="472.4" stroke="#1a1a1a" stroke-width="0.9" stroke-linecap="butt"/><line x1="621.5" y1="470" x2="621.5" y2="472.4" stroke="#1a1a1a" stroke-width="0.9" stroke-linecap="butt"/><line x1="639.5" y1="470" x2="639.5" y2="472.4" stroke="#1a1a1a" stroke-width="0.9" stroke-linecap="butt"/><line x1="657.5" y1="470" x2="657.5" y2="472.4" stroke="#1a1a1a" stroke-width="0.9" stroke-linecap="butt"/><line x1="43.2" y1="272.5" x2="181.6" y2="272.5" stroke="#1a1a1a" stroke-width="1.25" stroke-linecap="butt"/><line x1="60.5" y1="272.9" x2="60.5" y2="275.7" stroke="#1a1a1a" stroke-width="0.9" stroke-linecap="butt"/><line x1="82.5" y1="272.9" x2="82.5" y2="275.7" stroke="#1a1a1a" stroke-width="0.9" stroke-linecap="butt"/><line x1="105.5" y1="272.9" x2="105.5" y2="275.7" stroke="#1a1a1a" stroke-width="0.9" stroke-linecap="butt"/><line x1="127.5" y1="272.9" x2="127.5" y2="275.7" stroke="#1a1a1a" stroke-width="0.9" stroke-linecap="butt"/><line x1="150.5" y1="272.9" x2="150.5" y2="275.7" stroke="#1a1a1a" stroke-width="0.9" stroke-linecap="butt"/><line x1="172.5" y1="272.9" x2="172.5" y2="275.7" stroke="#1a1a1a" stroke-width="0.9" stroke-linecap="butt"/><line x1="39.2" y1="443.5" x2="180.2" y2="443.5" stroke="#1a1a1a" stroke-width="1.25" stroke-linecap="butt"/><line x1="56.5" y1="443.8" x2="56.5" y2="446.6" stroke="#1a1a1a" stroke-width="0.9" stroke-linecap="butt"/><line x1="79.5" y1="443.8" x2="79.5" y2="446.6" stroke="#1a1a1a" stroke-width="0.9" stroke-linecap="butt"/><line x1="102.5" y1="443.8" x2="102.5" y2="446.6" stroke="#1a1a1a" stroke-width="0.9" stroke-linecap="butt"/><line x1="125.5" y1="443.8" x2="125.5" y2="446.6" stroke="#1a1a1a" stroke-width="0.9" stroke-linecap="butt"/><line x1="147.5" y1="443.8" x2="147.5" y2="446.6" stroke="#1a1a1a" stroke-width="0.9" stroke-linecap="butt"/><line x1="170.5" y1="443.8" x2="170.5" y2="446.6" stroke="#1a1a1a" stroke-width="0.9" stroke-linecap="butt"/><line x1="243.5" y1="189.9" x2="243.5" y2="272" stroke="#1a1a1a" stroke-width="1.25" stroke-linecap="butt"/><line x1="240.7" y1="271.5" x2="243.3" y2="271.5" stroke="#1a1a1a" stroke-width="0.9" stroke-linecap="butt"/><text x="239.9" y="274.1" font-size="7.77" font-weight="bold" text-anchor="end" fill="#000" stroke="#000" stroke-width="0.15">0.0</text><line x1="240.7" y1="251.5" x2="243.3" y2="251.5" stroke="#1a1a1a" stroke-width="0.9" stroke-linecap="butt"/><text x="239.9" y="253.85" font-size="7.77" font-weight="bold" text-anchor="end" fill="#000" stroke="#000" stroke-width="0.15">0.5</text><line x1="240.7" y1="230.5" x2="243.3" y2="230.5" stroke="#1a1a1a" stroke-width="0.9" stroke-linecap="butt"/><text x="239.9" y="233.6" font-size="7.77" font-weight="bold" text-anchor="end" fill="#000" stroke="#000" stroke-width="0.15">1.0</text><line x1="240.7" y1="210.5" x2="243.3" y2="210.5" stroke="#1a1a1a" stroke-width="0.9" stroke-linecap="butt"/><text x="239.9" y="213.35" font-size="7.77" font-weight="bold" text-anchor="end" fill="#000" stroke="#000" stroke-width="0.15">1.5</text><line x1="240.7" y1="190.5" x2="243.3" y2="190.5" stroke="#1a1a1a" stroke-width="0.9" stroke-linecap="butt"/><text x="239.9" y="193.1" font-size="7.77" font-weight="bold" text-anchor="end" fill="#000" stroke="#000" stroke-width="0.15">2.0</text><line x1="240.7" y1="271.5" x2="298" y2="271.5" stroke="#1a1a1a" stroke-width="1.25" stroke-linecap="butt"/><line x1="259.5" y1="271.4" x2="259.5" y2="274.8" stroke="#1a1a1a" stroke-width="0.9" stroke-linecap="butt"/><line x1="282.5" y1="271.4" x2="282.5" y2="274.8" stroke="#1a1a1a" stroke-width="0.9" stroke-linecap="butt"/><line x1="320.5" y1="191.4" x2="320.5" y2="272.7" stroke="#1a1a1a" stroke-width="1.25" stroke-linecap="butt"/><line x1="317.8" y1="272.5" x2="320.4" y2="272.5" stroke="#1a1a1a" stroke-width="0.9" stroke-linecap="butt"/><text x="317" y="274.8" font-size="7.77" font-weight="bold" text-anchor="end" fill="#000" stroke="#000" stroke-width="0.15">0</text><line x1="317.8" y1="256.5" x2="320.4" y2="256.5" stroke="#1a1a1a" stroke-width="0.9" stroke-linecap="butt"/><text x="317" y="258.76" font-size="7.77" font-weight="bold" text-anchor="end" fill="#000" stroke="#000" stroke-width="0.15">2</text><line x1="317.8" y1="240.5" x2="320.4" y2="240.5" stroke="#1a1a1a" stroke-width="0.9" stroke-linecap="butt"/><text x="317" y="242.72" font-size="7.77" font-weight="bold" text-anchor="end" fill="#000" stroke="#000" stroke-width="0.15">4</text><line x1="317.8" y1="223.5" x2="320.4" y2="223.5" stroke="#1a1a1a" stroke-width="0.9" stroke-linecap="butt"/><text x="317" y="226.68" font-size="7.77" font-weight="bold" text-anchor="end" fill="#000" stroke="#000" stroke-width="0.15">6</text><line x1="317.8" y1="207.5" x2="320.4" y2="207.5" stroke="#1a1a1a" stroke-width="0.9" stroke-linecap="butt"/><text x="317" y="210.64" font-size="7.77" font-weight="bold" text-anchor="end" fill="#000" stroke="#000" stroke-width="0.15">8</text><line x1="317.8" y1="191.5" x2="320.4" y2="191.5" stroke="#1a1a1a" stroke-width="0.9" stroke-linecap="butt"/><text x="317" y="194.6" font-size="7.77" font-weight="bold" text-anchor="end" fill="#000" stroke="#000" stroke-width="0.15">10</text><line x1="317.8" y1="272.5" x2="374.7" y2="272.5" stroke="#1a1a1a" stroke-width="1.25" stroke-linecap="butt"/><line x1="335.5" y1="272.1" x2="335.5" y2="275.5" stroke="#1a1a1a" stroke-width="0.9" stroke-linecap="butt"/><line x1="358.5" y1="272.1" x2="358.5" y2="275.5" stroke="#1a1a1a" stroke-width="0.9" stroke-linecap="butt"/><line x1="404.5" y1="191.8" x2="404.5" y2="272.9" stroke="#1a1a1a" stroke-width="1.25" stroke-linecap="butt"/><line x1="401.4" y1="272.5" x2="404" y2="272.5" stroke="#1a1a1a" stroke-width="0.9" stroke-linecap="butt"/><text x="400.6" y="275" font-size="7.77" font-weight="bold" text-anchor="end" fill="#000" stroke="#000" stroke-width="0.15">0</text><line x1="401.4" y1="252.5" x2="404" y2="252.5" stroke="#1a1a1a" stroke-width="0.9" stroke-linecap="butt"/><text x="400.6" y="255" font-size="7.77" font-weight="bold" text-anchor="end" fill="#000" stroke="#000" stroke-width="0.15">50</text><line x1="401.4" y1="232.5" x2="404" y2="232.5" stroke="#1a1a1a" stroke-width="0.9" stroke-linecap="butt"/><text x="400.6" y="235" font-size="7.77" font-weight="bold" text-anchor="end" fill="#000" stroke="#000" stroke-width="0.15">100</text><line x1="401.4" y1="212.5" x2="404" y2="212.5" stroke="#1a1a1a" stroke-width="0.9" stroke-linecap="butt"/><text x="400.6" y="215" font-size="7.77" font-weight="bold" text-anchor="end" fill="#000" stroke="#000" stroke-width="0.15">150</text><line x1="401.4" y1="192.5" x2="404" y2="192.5" stroke="#1a1a1a" stroke-width="0.9" stroke-linecap="butt"/><text x="400.6" y="195" font-size="7.77" font-weight="bold" text-anchor="end" fill="#000" stroke="#000" stroke-width="0.15">200</text><line x1="401.4" y1="272.5" x2="457.2" y2="272.5" stroke="#1a1a1a" stroke-width="1.25" stroke-linecap="butt"/><line x1="419.5" y1="272.3" x2="419.5" y2="275.7" stroke="#1a1a1a" stroke-width="0.9" stroke-linecap="butt"/><line x1="441.5" y1="272.3" x2="441.5" y2="275.7" stroke="#1a1a1a" stroke-width="0.9" stroke-linecap="butt"/><line x1="243.5" y1="362.5" x2="243.5" y2="441.7" stroke="#1a1a1a" stroke-width="1.25" stroke-linecap="butt"/><line x1="240.8" y1="441.5" x2="243.4" y2="441.5" stroke="#1a1a1a" stroke-width="0.9" stroke-linecap="butt"/><text x="240" y="443.8" font-size="7.77" font-weight="bold" text-anchor="end" fill="#000" stroke="#000" stroke-width="0.15">0</text><line x1="240.8" y1="421.5" x2="243.4" y2="421.5" stroke="#1a1a1a" stroke-width="0.9" stroke-linecap="butt"/><text x="240" y="424.28" font-size="7.77" font-weight="bold" text-anchor="end" fill="#000" stroke="#000" stroke-width="0.15">1</text><line x1="240.8" y1="402.5" x2="243.4" y2="402.5" stroke="#1a1a1a" stroke-width="0.9" stroke-linecap="butt"/><text x="240" y="404.75" font-size="7.77" font-weight="bold" text-anchor="end" fill="#000" stroke="#000" stroke-width="0.15">2</text><line x1="240.8" y1="382.5" x2="243.4" y2="382.5" stroke="#1a1a1a" stroke-width="0.9" stroke-linecap="butt"/><text x="240" y="385.22" font-size="7.77" font-weight="bold" text-anchor="end" fill="#000" stroke="#000" stroke-width="0.15">3</text><line x1="240.8" y1="363.5" x2="243.4" y2="363.5" stroke="#1a1a1a" stroke-width="0.9" stroke-linecap="butt"/><text x="240" y="365.7" font-size="7.77" font-weight="bold" text-anchor="end" fill="#000" stroke="#000" stroke-width="0.15">4</text><line x1="240.8" y1="441.5" x2="296" y2="441.5" stroke="#1a1a1a" stroke-width="1.25" stroke-linecap="butt"/><line x1="258.5" y1="441.1" x2="258.5" y2="444.5" stroke="#1a1a1a" stroke-width="0.9" stroke-linecap="butt"/><line x1="280.5" y1="441.1" x2="280.5" y2="444.5" stroke="#1a1a1a" stroke-width="0.9" stroke-linecap="butt"/><line x1="323.5" y1="362.1" x2="323.5" y2="441.9" stroke="#1a1a1a" stroke-width="1.25" stroke-linecap="butt"/><line x1="321" y1="441.5" x2="323.6" y2="441.5" stroke="#1a1a1a" stroke-width="0.9" stroke-linecap="butt"/><text x="320.2" y="444" font-size="7.77" font-weight="bold" text-anchor="end" fill="#000" stroke="#000" stroke-width="0.15">4.5</text><line x1="321" y1="421.5" x2="323.6" y2="421.5" stroke="#1a1a1a" stroke-width="0.9" stroke-linecap="butt"/><text x="320.2" y="424.32" font-size="7.77" font-weight="bold" text-anchor="end" fill="#000" stroke="#000" stroke-width="0.15">5.0</text><line x1="321" y1="401.5" x2="323.6" y2="401.5" stroke="#1a1a1a" stroke-width="0.9" stroke-linecap="butt"/><text x="320.2" y="404.65" font-size="7.77" font-weight="bold" text-anchor="end" fill="#000" stroke="#000" stroke-width="0.15">5.5</text><line x1="321" y1="382.5" x2="323.6" y2="382.5" stroke="#1a1a1a" stroke-width="0.9" stroke-linecap="butt"/><text x="320.2" y="384.98" font-size="7.77" font-weight="bold" text-anchor="end" fill="#000" stroke="#000" stroke-width="0.15">6.0</text><line x1="321" y1="362.5" x2="323.6" y2="362.5" stroke="#1a1a1a" stroke-width="0.9" stroke-linecap="butt"/><text x="320.2" y="365.3" font-size="7.77" font-weight="bold" text-anchor="end" fill="#000" stroke="#000" stroke-width="0.15">6.5</text><line x1="321" y1="441.5" x2="376.2" y2="441.5" stroke="#1a1a1a" stroke-width="1.25" stroke-linecap="butt"/><line x1="338.5" y1="441.3" x2="338.5" y2="444.7" stroke="#1a1a1a" stroke-width="0.9" stroke-linecap="butt"/><line x1="361.5" y1="441.3" x2="361.5" y2="444.7" stroke="#1a1a1a" stroke-width="0.9" stroke-linecap="butt"/><line x1="403.5" y1="363.1" x2="403.5" y2="442.3" stroke="#1a1a1a" stroke-width="1.25" stroke-linecap="butt"/><line x1="401.1" y1="441.5" x2="403.7" y2="441.5" stroke="#1a1a1a" stroke-width="0.9" stroke-linecap="butt"/><text x="400.3" y="444.4" font-size="7.77" font-weight="bold" text-anchor="end" fill="#000" stroke="#000" stroke-width="0.15">0</text><line x1="401.1" y1="415.5" x2="403.7" y2="415.5" stroke="#1a1a1a" stroke-width="0.9" stroke-linecap="butt"/><text x="400.3" y="418.37" font-size="7.77" font-weight="bold" text-anchor="end" fill="#000" stroke="#000" stroke-width="0.15">400</text><line x1="401.1" y1="389.5" x2="403.7" y2="389.5" stroke="#1a1a1a" stroke-width="0.9" stroke-linecap="butt"/><text x="400.3" y="392.33" font-size="7.77" font-weight="bold" text-anchor="end" fill="#000" stroke="#000" stroke-width="0.15">800</text><line x1="401.1" y1="363.5" x2="403.7" y2="363.5" stroke="#1a1a1a" stroke-width="0.9" stroke-linecap="butt"/><text x="400.3" y="366.3" font-size="7.77" font-weight="bold" text-anchor="end" fill="#000" stroke="#000" stroke-width="0.15">1200</text><line x1="401.1" y1="441.5" x2="455.4" y2="441.5" stroke="#1a1a1a" stroke-width="1.25" stroke-linecap="butt"/><line x1="418.5" y1="441.7" x2="418.5" y2="445.1" stroke="#1a1a1a" stroke-width="0.9" stroke-linecap="butt"/><line x1="440.5" y1="441.7" x2="440.5" y2="445.1" stroke="#1a1a1a" stroke-width="0.9" stroke-linecap="butt"/><line x1="386.5" y1="557.9" x2="386.5" y2="634.1" stroke="#1a1a1a" stroke-width="1.25" stroke-linecap="butt"/><line x1="383.4" y1="633.5" x2="386" y2="633.5" stroke="#1a1a1a" stroke-width="0.9" stroke-linecap="butt"/><text x="382.6" y="636.2" font-size="7.77" font-weight="bold" text-anchor="end" fill="#000" stroke="#000" stroke-width="0.15">2.5</text><line x1="383.4" y1="614.5" x2="386" y2="614.5" stroke="#1a1a1a" stroke-width="0.9" stroke-linecap="butt"/><text x="382.6" y="617.43" font-size="7.77" font-weight="bold" text-anchor="end" fill="#000" stroke="#000" stroke-width="0.15">3.0</text><line x1="383.4" y1="595.5" x2="386" y2="595.5" stroke="#1a1a1a" stroke-width="0.9" stroke-linecap="butt"/><text x="382.6" y="598.65" font-size="7.77" font-weight="bold" text-anchor="end" fill="#000" stroke="#000" stroke-width="0.15">3.5</text><line x1="383.4" y1="577.5" x2="386" y2="577.5" stroke="#1a1a1a" stroke-width="0.9" stroke-linecap="butt"/><text x="382.6" y="579.88" font-size="7.77" font-weight="bold" text-anchor="end" fill="#000" stroke="#000" stroke-width="0.15">4.0</text><line x1="383.4" y1="558.5" x2="386" y2="558.5" stroke="#1a1a1a" stroke-width="0.9" stroke-linecap="butt"/><text x="382.6" y="561.1" font-size="7.77" font-weight="bold" text-anchor="end" fill="#000" stroke="#000" stroke-width="0.15">4.5</text><line x1="383.4" y1="633.5" x2="436.3" y2="633.5" stroke="#1a1a1a" stroke-width="1.25" stroke-linecap="butt"/><line x1="400.5" y1="633.5" x2="400.5" y2="636.9" stroke="#1a1a1a" stroke-width="0.9" stroke-linecap="butt"/><line x1="421.5" y1="633.5" x2="421.5" y2="636.9" stroke="#1a1a1a" stroke-width="0.9" stroke-linecap="butt"/><line x1="455.5" y1="556.5" x2="455.5" y2="633.2" stroke="#1a1a1a" stroke-width="1.25" stroke-linecap="butt"/><line x1="452.7" y1="632.5" x2="455.3" y2="632.5" stroke="#1a1a1a" stroke-width="0.9" stroke-linecap="butt"/><text x="451.9" y="635.3" font-size="7.77" font-weight="bold" text-anchor="end" fill="#000" stroke="#000" stroke-width="0.15">0</text><line x1="452.7" y1="617.5" x2="455.3" y2="617.5" stroke="#1a1a1a" stroke-width="0.9" stroke-linecap="butt"/><text x="451.9" y="620.18" font-size="7.77" font-weight="bold" text-anchor="end" fill="#000" stroke="#000" stroke-width="0.15">1</text><line x1="452.7" y1="602.5" x2="455.3" y2="602.5" stroke="#1a1a1a" stroke-width="0.9" stroke-linecap="butt"/><text x="451.9" y="605.06" font-size="7.77" font-weight="bold" text-anchor="end" fill="#000" stroke="#000" stroke-width="0.15">2</text><line x1="452.7" y1="587.5" x2="455.3" y2="587.5" stroke="#1a1a1a" stroke-width="0.9" stroke-linecap="butt"/><text x="451.9" y="589.94" font-size="7.77" font-weight="bold" text-anchor="end" fill="#000" stroke="#000" stroke-width="0.15">3</text><line x1="452.7" y1="572.5" x2="455.3" y2="572.5" stroke="#1a1a1a" stroke-width="0.9" stroke-linecap="butt"/><text x="451.9" y="574.82" font-size="7.77" font-weight="bold" text-anchor="end" fill="#000" stroke="#000" stroke-width="0.15">4</text><line x1="452.7" y1="557.5" x2="455.3" y2="557.5" stroke="#1a1a1a" stroke-width="0.9" stroke-linecap="butt"/><text x="451.9" y="559.7" font-size="7.77" font-weight="bold" text-anchor="end" fill="#000" stroke="#000" stroke-width="0.15">5</text><line x1="452.7" y1="632.5" x2="505.5" y2="632.5" stroke="#1a1a1a" stroke-width="1.25" stroke-linecap="butt"/><line x1="469.5" y1="632.6" x2="469.5" y2="636" stroke="#1a1a1a" stroke-width="0.9" stroke-linecap="butt"/><line x1="490.5" y1="632.6" x2="490.5" y2="636" stroke="#1a1a1a" stroke-width="0.9" stroke-linecap="butt"/><line x1="533.5" y1="557.1" x2="533.5" y2="633.5" stroke="#1a1a1a" stroke-width="1.25" stroke-linecap="butt"/><line x1="531.2" y1="632.5" x2="533.8" y2="632.5" stroke="#1a1a1a" stroke-width="0.9" stroke-linecap="butt"/><text x="530.4" y="635.6" font-size="7.77" font-weight="bold" text-anchor="end" fill="#000" stroke="#000" stroke-width="0.15">0</text><line x1="531.2" y1="614.5" x2="533.8" y2="614.5" stroke="#1a1a1a" stroke-width="0.9" stroke-linecap="butt"/><text x="530.4" y="616.78" font-size="7.77" font-weight="bold" text-anchor="end" fill="#000" stroke="#000" stroke-width="0.15">500</text><line x1="531.2" y1="595.5" x2="533.8" y2="595.5" stroke="#1a1a1a" stroke-width="0.9" stroke-linecap="butt"/><text x="530.4" y="597.95" font-size="7.77" font-weight="bold" text-anchor="end" fill="#000" stroke="#000" stroke-width="0.15">1000</text><line x1="531.2" y1="576.5" x2="533.8" y2="576.5" stroke="#1a1a1a" stroke-width="0.9" stroke-linecap="butt"/><text x="530.4" y="579.12" font-size="7.77" font-weight="bold" text-anchor="end" fill="#000" stroke="#000" stroke-width="0.15">1500</text><line x1="531.2" y1="557.5" x2="533.8" y2="557.5" stroke="#1a1a1a" stroke-width="0.9" stroke-linecap="butt"/><text x="530.4" y="560.3" font-size="7.77" font-weight="bold" text-anchor="end" fill="#000" stroke="#000" stroke-width="0.15">2000</text><line x1="531.2" y1="632.5" x2="586.3" y2="632.5" stroke="#1a1a1a" stroke-width="1.25" stroke-linecap="butt"/><line x1="551.5" y1="632.9" x2="551.5" y2="636.3" stroke="#1a1a1a" stroke-width="0.9" stroke-linecap="butt"/><line x1="572.5" y1="632.9" x2="572.5" y2="636.3" stroke="#1a1a1a" stroke-width="0.9" stroke-linecap="butt"/><line x1="634.5" y1="557.2" x2="634.5" y2="633.1" stroke="#1a1a1a" stroke-width="1.25" stroke-linecap="butt"/><line x1="632.1" y1="632.5" x2="634.7" y2="632.5" stroke="#1a1a1a" stroke-width="0.9" stroke-linecap="butt"/><text x="631.3" y="635.2" font-size="7.77" font-weight="bold" text-anchor="end" fill="#000" stroke="#000" stroke-width="0.15">0.0</text><line x1="632.1" y1="613.5" x2="634.7" y2="613.5" stroke="#1a1a1a" stroke-width="0.9" stroke-linecap="butt"/><text x="631.3" y="616.5" font-size="7.77" font-weight="bold" text-anchor="end" fill="#000" stroke="#000" stroke-width="0.15">0.3</text><line x1="632.1" y1="595.5" x2="634.7" y2="595.5" stroke="#1a1a1a" stroke-width="0.9" stroke-linecap="butt"/><text x="631.3" y="597.8" font-size="7.77" font-weight="bold" text-anchor="end" fill="#000" stroke="#000" stroke-width="0.15">0.6</text><line x1="632.1" y1="576.5" x2="634.7" y2="576.5" stroke="#1a1a1a" stroke-width="0.9" stroke-linecap="butt"/><text x="631.3" y="579.1" font-size="7.77" font-weight="bold" text-anchor="end" fill="#000" stroke="#000" stroke-width="0.15">0.9</text><line x1="632.1" y1="557.5" x2="634.7" y2="557.5" stroke="#1a1a1a" stroke-width="0.9" stroke-linecap="butt"/><text x="631.3" y="560.4" font-size="7.77" font-weight="bold" text-anchor="end" fill="#000" stroke="#000" stroke-width="0.15">1.2</text><line x1="632.1" y1="632.5" x2="684.5" y2="632.5" stroke="#1a1a1a" stroke-width="1.25" stroke-linecap="butt"/><line x1="649.5" y1="632.5" x2="649.5" y2="635.9" stroke="#1a1a1a" stroke-width="0.9" stroke-linecap="butt"/><line x1="670.5" y1="632.5" x2="670.5" y2="635.9" stroke="#1a1a1a" stroke-width="0.9" stroke-linecap="butt"/><line x1="38" y1="524.01" x2="38" y2="631.4" stroke="#4a4a4a" stroke-width="1.5" stroke-linecap="butt"/><line x1="35.4" y1="630.5" x2="38" y2="630.5" stroke="#4a4a4a" stroke-width="0.9" stroke-linecap="butt"/><text x="34.6" y="633.2" font-size="7.05" font-weight="bold" text-anchor="end" fill="#000" stroke="#000" stroke-width="0.15">0</text><line x1="35.4" y1="613.5" x2="38" y2="613.5" stroke="#4a4a4a" stroke-width="0.9" stroke-linecap="butt"/><text x="34.6" y="615.48" font-size="7.05" font-weight="bold" text-anchor="end" fill="#000" stroke="#000" stroke-width="0.15">50</text><line x1="35.4" y1="595.5" x2="38" y2="595.5" stroke="#4a4a4a" stroke-width="0.9" stroke-linecap="butt"/><text x="34.6" y="597.77" font-size="7.05" font-weight="bold" text-anchor="end" fill="#000" stroke="#000" stroke-width="0.15">100</text><line x1="35.4" y1="577.5" x2="38" y2="577.5" stroke="#4a4a4a" stroke-width="0.9" stroke-linecap="butt"/><text x="34.6" y="580.05" font-size="7.05" font-weight="bold" text-anchor="end" fill="#000" stroke="#000" stroke-width="0.15">150</text><line x1="35.4" y1="559.5" x2="38" y2="559.5" stroke="#4a4a4a" stroke-width="0.9" stroke-linecap="butt"/><text x="34.6" y="562.34" font-size="7.05" font-weight="bold" text-anchor="end" fill="#000" stroke="#000" stroke-width="0.15">200</text><line x1="35.4" y1="542.5" x2="38" y2="542.5" stroke="#4a4a4a" stroke-width="0.9" stroke-linecap="butt"/><text x="34.6" y="544.62" font-size="7.05" font-weight="bold" text-anchor="end" fill="#000" stroke="#000" stroke-width="0.15">250</text><line x1="35.4" y1="524.5" x2="38" y2="524.5" stroke="#4a4a4a" stroke-width="0.9" stroke-linecap="butt"/><text x="34.6" y="526.91" font-size="7.05" font-weight="bold" text-anchor="end" fill="#000" stroke="#000" stroke-width="0.15">300</text><line x1="38" y1="630.5" x2="163.8" y2="630.5" stroke="#1a1a1a" stroke-width="1.25" stroke-linecap="butt"/><line x1="38.5" y1="630.8" x2="38.5" y2="633.4" stroke="#1a1a1a" stroke-width="0.9" stroke-linecap="butt"/><line x1="69.5" y1="630.8" x2="69.5" y2="633.4" stroke="#1a1a1a" stroke-width="0.9" stroke-linecap="butt"/><line x1="100.5" y1="630.8" x2="100.5" y2="633.4" stroke="#1a1a1a" stroke-width="0.9" stroke-linecap="butt"/><line x1="132.5" y1="630.8" x2="132.5" y2="633.4" stroke="#1a1a1a" stroke-width="0.9" stroke-linecap="butt"/><line x1="163.5" y1="630.8" x2="163.5" y2="633.4" stroke="#1a1a1a" stroke-width="0.9" stroke-linecap="butt"/><line x1="209.5" y1="522.9" x2="209.5" y2="632" stroke="#4a4a4a" stroke-width="1.5" stroke-linecap="butt"/><line x1="206.9" y1="631.5" x2="209.5" y2="631.5" stroke="#4a4a4a" stroke-width="0.9" stroke-linecap="butt"/><text x="206.1" y="633.8" font-size="7.05" font-weight="bold" text-anchor="end" fill="#000" stroke="#000" stroke-width="0.15">0</text><line x1="206.9" y1="613.5" x2="209.5" y2="613.5" stroke="#4a4a4a" stroke-width="0.9" stroke-linecap="butt"/><text x="206.1" y="615.8" font-size="7.05" font-weight="bold" text-anchor="end" fill="#000" stroke="#000" stroke-width="0.15">25</text><line x1="206.9" y1="595.5" x2="209.5" y2="595.5" stroke="#4a4a4a" stroke-width="0.9" stroke-linecap="butt"/><text x="206.1" y="597.8" font-size="7.05" font-weight="bold" text-anchor="end" fill="#000" stroke="#000" stroke-width="0.15">50</text><line x1="206.9" y1="577.5" x2="209.5" y2="577.5" stroke="#4a4a4a" stroke-width="0.9" stroke-linecap="butt"/><text x="206.1" y="579.8" font-size="7.05" font-weight="bold" text-anchor="end" fill="#000" stroke="#000" stroke-width="0.15">75</text><line x1="206.9" y1="559.5" x2="209.5" y2="559.5" stroke="#4a4a4a" stroke-width="0.9" stroke-linecap="butt"/><text x="206.1" y="561.8" font-size="7.05" font-weight="bold" text-anchor="end" fill="#000" stroke="#000" stroke-width="0.15">100</text><line x1="206.9" y1="541.5" x2="209.5" y2="541.5" stroke="#4a4a4a" stroke-width="0.9" stroke-linecap="butt"/><text x="206.1" y="543.8" font-size="7.05" font-weight="bold" text-anchor="end" fill="#000" stroke="#000" stroke-width="0.15">125</text><line x1="206.9" y1="523.5" x2="209.5" y2="523.5" stroke="#4a4a4a" stroke-width="0.9" stroke-linecap="butt"/><text x="206.1" y="525.8" font-size="7.05" font-weight="bold" text-anchor="end" fill="#000" stroke="#000" stroke-width="0.15">150</text><line x1="209.5" y1="631.5" x2="337.2" y2="631.5" stroke="#1a1a1a" stroke-width="1.25" stroke-linecap="butt"/><line x1="209.5" y1="631.4" x2="209.5" y2="634" stroke="#1a1a1a" stroke-width="0.9" stroke-linecap="butt"/><line x1="241.5" y1="631.4" x2="241.5" y2="634" stroke="#1a1a1a" stroke-width="0.9" stroke-linecap="butt"/><line x1="273.5" y1="631.4" x2="273.5" y2="634" stroke="#1a1a1a" stroke-width="0.9" stroke-linecap="butt"/><line x1="305.5" y1="631.4" x2="305.5" y2="634" stroke="#1a1a1a" stroke-width="0.9" stroke-linecap="butt"/><line x1="337.5" y1="631.4" x2="337.5" y2="634" stroke="#1a1a1a" stroke-width="0.9" stroke-linecap="butt"/></svg></body></html>
